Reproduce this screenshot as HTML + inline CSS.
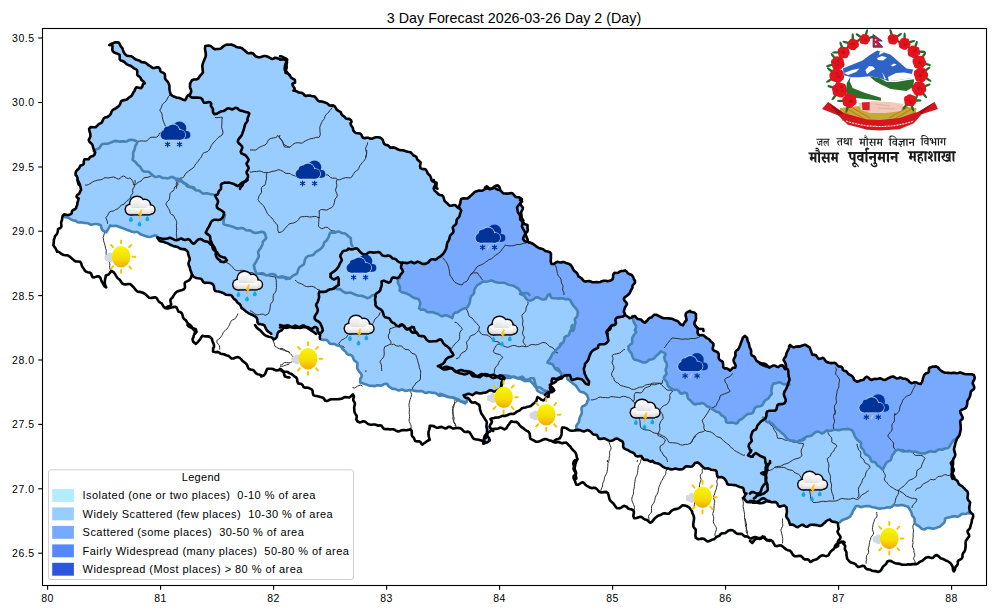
<!DOCTYPE html><html><head><meta charset="utf-8"><style>html,body{margin:0;padding:0;background:#fff;overflow:hidden}svg{display:block}text{font-family:"Liberation Sans",sans-serif;fill:#000}</style></head><body>
<svg width="1000" height="615" viewBox="0 0 1000 615">
<defs>
<clipPath id="ax"><rect x="43" y="29" width="943" height="556"/></clipPath>
<linearGradient id="sunG" x1="0" y1="0" x2="0" y2="1"><stop offset="0" stop-color="#f7f700"/><stop offset="0.6" stop-color="#f5dc00"/><stop offset="1" stop-color="#f5a800"/></linearGradient>
<linearGradient id="cldG" x1="0" y1="0" x2="0" y2="1"><stop offset="0" stop-color="#ffffff"/><stop offset="0.7" stop-color="#e6e6e6"/><stop offset="1" stop-color="#d0d0d0"/></linearGradient>
<linearGradient id="boltG" x1="0" y1="0" x2="0" y2="1"><stop offset="0" stop-color="#ffd21a"/><stop offset="1" stop-color="#f5a000"/></linearGradient>
<symbol id="snow" overflow="visible">
 <g fill="#003399">
  <circle cx="19.5" cy="7.2" r="6.8"/><circle cx="26.6" cy="13.9" r="3.8"/><rect x="19.5" y="10" width="7.1" height="7.7"/>
 </g>
 <g fill="#003399" stroke="#c9dcf5" stroke-width="1.3">
  <circle cx="5.2" cy="14" r="4.7"/><circle cx="7.3" cy="9.4" r="3.6"/><circle cx="13" cy="9.8" r="6.4"/><circle cx="20.3" cy="13.8" r="4.9"/><rect x="5.2" y="13" width="15.1" height="5.7"/>
 </g>
 <g fill="#003399">
  <circle cx="5.2" cy="14" r="4.7"/><circle cx="7.3" cy="9.4" r="3.6"/><circle cx="13" cy="9.8" r="6.4"/><circle cx="20.3" cy="13.8" r="4.9"/><rect x="5.2" y="13" width="15.1" height="5.7"/>
 </g>
 <g stroke="#003399" stroke-width="1.2" stroke-linecap="round"><path d="M7.6,21v4.8M5.5,22.2L9.7,24.6M5.5,24.6L9.7,22.2M19.6,21v4.8M17.5,22.2L21.7,24.6M17.5,24.6L21.7,22.2"/></g>
 <circle cx="7.6" cy="23.4" r="1.1" fill="#003399"/><circle cx="19.6" cy="23.4" r="1.1" fill="#003399"/>
 <path d="M12.2,25.6 L14.6,21" stroke="#e0c8a8" stroke-width="1"/>
</symbol>
<symbol id="storm" overflow="visible">
 <g fill="#000">
  <circle cx="5.6" cy="13.6" r="6.1"/><circle cx="12" cy="7.6" r="8.1"/><circle cx="19.8" cy="9" r="6.5"/><circle cx="25.2" cy="13.6" r="5.5"/><rect x="5.6" y="11" width="19.6" height="8.6"/>
 </g>
 <g fill="url(#cldG)">
  <circle cx="5.6" cy="13.6" r="4.7"/><circle cx="12" cy="7.6" r="6.7"/><circle cx="19.8" cy="9" r="5.1"/><circle cx="25.2" cy="13.6" r="4.1"/><rect x="5.6" y="12" width="19.6" height="6.2"/>
 </g>
 <path d="M15.6,13.6 L17.6,13.6 L16,17.6 L17.6,17.6 L13.6,23.6 L14.6,19 L13.2,19 Z" fill="url(#boltG)"/>
 <g fill="#12a8e6">
  <path d="M6,20.6 C7.2,22 7.8,23 7.8,24 A1.9,1.9 0 0 1 4,24 C4,23 4.8,22 6,20.6Z"/>
  <path d="M22.4,20 C23.6,21.4 24.2,22.4 24.2,23.4 A1.9,1.9 0 0 1 20.4,23.4 C20.4,22.4 21.2,21.4 22.4,20Z"/>
  <path d="M14.6,25.2 C15.8,26.6 16.4,27.6 16.4,28.6 A1.9,1.9 0 0 1 12.6,28.6 C12.6,27.6 13.4,26.6 14.6,25.2Z"/>
 </g>
</symbol>
<symbol id="sun" overflow="visible">
 <g stroke="#f8c300" stroke-width="2" stroke-linecap="round">
  <path d="M0,-13.6 V-16.4 M0,13.2 V16 M11.6,0 H14.2 M-11.6,0 H-14.2 M8.1,-9.6 L10,-11.8 M-8.1,-9.6 L-10,-11.8 M8.1,9.6 L10,11.8 M-8.1,9.6 L-10,11.8"/>
 </g>
 <path d="M-16.4,1.6 C-17.6,-0.6 -15.6,-3 -13.6,-2.2 C-13,-4.6 -10,-5 -8.8,-3.2 L-8.8,5.2 C-11,6 -13,5.2 -13.6,4 C-15.4,4.4 -16.8,3.4 -16.4,1.6Z" fill="#d3d8df"/>
 <ellipse cx="0" cy="0" rx="9.4" ry="10.7" fill="url(#sunG)"/>
</symbol>
</defs>
<rect width="1000" height="615" fill="#fff"/>
<text x="514" y="23" font-size="14.3" text-anchor="middle" style="fill:#000">3 Day Forecast 2026-03-26 Day 2 (Day)</text>
<g clip-path="url(#ax)">
<path d="M108.8,44.5 109.0,45.8 111.5,46.5 111.2,49.2 112.2,52.2 118.5,55.5 118.8,58.8 120.5,61.5 136.0,70.5 137.0,76.0 139.8,78.2 142.8,83.0 141.2,86.8 136.2,86.2 135.2,87.0 130.2,95.8 126.0,98.8 121.0,100.0 118.8,104.8 112.2,109.2 108.5,115.0 103.8,117.0 100.8,122.0 95.5,126.0 90.5,126.0 88.2,128.2 89.5,136.5 88.0,140.8 91.8,145.8 94.0,153.2 88.5,157.8 84.2,158.5 83.0,160.5 82.8,163.5 80.2,164.5 75.0,171.2 74.5,174.8 76.5,177.8 77.5,184.5 79.5,186.5 80.0,189.2 79.0,192.2 75.8,195.5 75.8,197.2 77.2,199.0 75.2,207.5 71.2,210.5 70.2,213.2 68.5,214.0 64.2,213.2 61.8,215.5 60.0,223.2 60.5,226.5 57.2,228.8 56.5,233.0 54.0,236.0 52.5,245.5 56.5,252.5 58.5,252.8 62.8,255.8 69.0,257.2 75.2,262.2 79.8,263.0 83.8,270.5 86.0,272.8 90.0,273.8 92.2,278.2 98.8,277.5 102.8,285.2 105.5,288.2 107.0,288.0 105.8,283.0 106.5,276.8 109.5,275.0 111.8,272.2 122.5,284.8 124.8,285.5 130.2,285.2 135.5,291.2 144.0,294.5 149.0,298.8 155.8,298.8 164.8,309.0 168.0,309.5 174.5,307.8 175.8,308.2 177.5,312.0 181.2,314.2 182.8,319.0 187.0,323.8 187.5,326.8 192.2,329.2 194.0,331.2 191.8,340.2 192.8,342.8 195.2,344.8 196.5,344.8 202.5,337.2 209.0,337.5 211.2,339.8 212.8,344.0 213.0,347.0 212.0,349.0 212.8,352.5 217.8,353.0 220.2,354.8 228.0,356.8 231.5,359.5 237.5,358.0 239.2,358.5 246.0,365.0 248.8,370.0 252.8,371.0 256.0,374.8 259.8,375.8 261.0,377.5 264.8,376.0 268.2,369.8 271.8,369.8 276.0,371.5 279.8,370.8 283.0,373.0 284.5,377.5 290.0,378.2 290.2,377.0 286.0,375.8 285.0,374.0 285.8,372.8 287.5,373.0 295.8,378.5 298.0,384.5 301.0,385.0 303.8,388.2 308.0,388.8 311.0,390.2 313.5,396.2 321.5,398.2 324.8,401.5 327.5,402.0 331.2,400.2 340.8,400.0 344.5,398.2 349.2,398.5 351.5,397.2 352.5,398.0 352.5,401.2 354.0,403.5 353.2,410.0 355.8,416.0 355.5,419.8 356.8,422.2 359.5,423.5 363.8,422.2 369.2,425.5 375.0,425.5 377.8,426.8 380.0,426.2 383.5,429.8 393.0,430.2 397.8,432.5 402.8,431.0 410.0,430.5 410.8,431.0 411.0,435.8 413.2,438.5 414.2,441.5 418.8,442.2 422.5,445.5 430.5,440.2 429.5,431.2 431.2,426.8 436.5,428.8 441.8,428.0 445.0,429.5 449.5,427.8 452.8,429.5 460.0,429.2 464.0,432.8 468.8,433.0 473.5,439.8 482.5,442.2 483.5,444.8 488.0,443.2 490.2,441.5 490.5,439.2 488.2,435.0 488.5,433.8 491.2,431.5 493.2,432.0 494.2,430.0 497.0,430.0 500.2,428.5 505.2,430.2 507.2,428.8 511.2,422.8 516.0,423.0 520.2,427.5 528.2,433.0 529.5,439.2 534.8,442.2 539.2,442.5 545.8,440.0 554.8,443.5 558.8,443.0 561.8,444.2 566.2,444.0 575.0,453.5 576.2,458.0 572.5,462.2 572.8,470.0 574.8,473.0 572.5,477.5 575.8,485.2 578.2,485.8 582.8,483.5 586.2,486.8 590.2,488.8 595.2,489.0 599.8,493.2 607.0,493.5 609.2,501.0 616.2,509.0 619.8,509.2 624.5,507.0 627.8,509.5 632.2,511.0 633.0,512.0 632.2,515.8 634.2,519.2 640.5,517.8 650.0,523.8 652.0,523.0 658.0,517.0 664.2,514.2 668.8,514.8 672.5,511.2 678.0,509.8 683.2,506.2 688.5,508.2 691.0,511.5 692.8,516.0 692.2,525.8 694.8,529.8 694.8,537.8 697.0,539.8 702.5,539.5 706.8,542.2 709.0,542.2 714.2,540.2 721.5,534.8 725.8,534.0 729.0,531.5 731.2,531.0 736.8,534.8 741.0,534.8 744.2,537.2 748.2,538.2 749.8,539.5 749.2,541.5 752.2,544.0 757.2,539.5 760.0,540.0 763.2,538.8 766.0,541.2 769.5,542.0 770.8,541.2 774.8,546.8 781.0,546.5 786.0,550.5 789.8,551.8 793.2,556.5 800.2,557.0 804.2,560.2 808.0,560.8 810.0,563.0 817.2,560.2 822.8,556.2 826.0,557.2 828.5,556.5 830.5,553.2 835.5,548.2 838.2,547.2 839.0,544.5 841.2,543.0 844.2,546.0 843.8,548.8 845.5,552.2 846.2,558.8 849.5,563.0 854.5,564.8 857.5,567.8 863.0,566.8 866.8,570.2 877.8,573.0 880.2,572.2 883.5,567.5 889.5,561.8 895.0,564.2 902.2,565.8 916.5,565.0 922.5,562.0 927.2,558.2 932.2,559.0 936.2,556.2 939.8,559.0 949.2,563.2 951.8,566.5 952.2,570.2 953.8,572.5 958.2,565.5 958.8,561.8 963.0,558.5 963.8,553.8 966.2,549.8 966.8,541.2 970.2,536.2 968.5,531.2 971.0,528.2 974.2,515.8 970.5,510.0 971.0,502.8 968.5,498.2 968.8,492.0 964.2,486.8 959.5,483.5 958.5,480.8 955.5,478.2 953.5,474.0 954.8,470.2 953.5,466.0 954.2,459.0 956.2,455.2 955.0,448.2 957.8,439.2 960.8,434.5 961.8,429.8 961.2,421.2 963.8,418.2 961.2,411.5 966.8,408.0 971.8,392.0 975.0,389.0 973.8,382.5 975.5,379.0 975.5,376.5 974.2,374.0 965.8,373.2 960.8,371.5 957.0,372.2 944.8,371.8 941.2,369.8 937.5,366.0 932.5,365.5 928.5,367.5 928.0,371.2 923.5,374.5 921.2,381.5 920.0,382.8 915.8,381.2 911.8,382.0 906.5,378.0 900.5,376.5 897.0,377.5 893.2,375.5 884.8,379.0 880.0,377.2 871.2,378.8 869.2,376.8 866.5,375.8 863.2,378.5 857.0,380.5 847.5,371.0 844.0,369.5 842.8,366.5 838.8,365.2 835.5,362.0 828.2,361.5 823.5,357.0 818.8,357.8 816.2,354.2 812.8,353.2 810.8,347.5 805.0,343.8 793.5,346.2 789.5,344.2 785.0,355.8 782.8,359.2 784.8,365.0 780.0,364.5 778.0,366.0 773.0,364.5 769.0,366.0 766.0,363.2 760.5,362.0 757.0,360.0 755.8,357.0 752.2,354.2 752.0,349.8 748.0,338.0 745.0,334.8 742.0,337.2 737.8,348.2 734.5,351.8 734.5,355.5 732.8,359.2 732.8,361.8 734.8,366.0 730.0,369.0 727.2,367.5 725.2,367.5 724.2,366.8 723.5,361.2 719.8,358.5 719.2,353.0 713.8,349.0 714.5,345.2 714.0,342.5 704.2,334.5 700.2,334.2 698.8,333.2 698.5,330.8 699.5,330.0 701.8,330.0 703.5,332.0 704.5,330.8 703.5,328.2 698.5,327.5 695.2,324.0 697.0,319.0 697.0,314.8 695.0,311.8 692.0,311.2 690.0,309.8 687.0,311.2 684.5,314.8 685.5,320.0 682.2,324.0 675.5,319.0 671.2,317.5 663.8,317.2 656.5,313.8 654.2,313.8 651.5,316.2 649.0,317.0 644.8,321.2 642.0,319.0 637.8,317.8 635.0,315.0 632.2,315.0 630.2,317.0 625.8,314.2 625.0,312.2 625.8,307.8 627.8,304.8 627.8,303.2 625.2,300.2 625.0,298.5 629.5,295.0 633.2,288.0 633.5,285.8 636.0,282.5 635.8,280.2 632.2,274.0 628.8,272.8 626.0,269.8 621.0,270.0 617.0,272.0 613.8,272.2 612.2,274.5 611.8,278.8 607.8,280.2 603.2,279.8 599.0,281.2 592.5,281.2 589.5,280.0 585.2,280.5 579.0,275.5 578.0,272.8 574.2,269.5 570.8,263.8 564.2,261.0 560.5,261.5 557.5,260.8 553.5,263.0 552.2,262.8 552.0,254.0 550.2,251.2 545.8,250.2 543.5,248.2 540.0,247.5 528.8,240.8 526.5,234.5 528.8,230.5 528.5,225.2 527.8,224.0 524.2,222.5 522.5,217.5 522.0,212.5 523.8,209.0 523.8,207.0 521.2,203.5 522.8,202.0 522.8,198.8 519.5,196.5 516.0,195.8 512.5,192.2 503.5,192.2 500.8,189.2 500.2,186.8 497.8,184.5 495.2,184.8 491.2,187.8 486.0,185.8 482.5,189.5 478.5,189.5 474.2,191.0 467.2,197.5 461.0,198.0 457.8,205.8 454.8,204.0 449.8,204.5 445.5,200.5 444.2,196.5 436.5,191.2 436.0,190.0 438.2,189.2 437.2,187.2 437.2,182.5 434.8,180.8 434.2,179.2 432.0,178.5 431.2,175.8 426.0,168.5 421.2,167.2 421.0,161.2 417.8,158.5 417.0,156.2 414.0,154.5 411.8,151.8 404.5,149.5 399.5,149.0 395.2,146.8 390.8,146.5 388.2,144.2 385.5,143.8 382.8,138.2 380.0,136.5 375.2,136.2 371.8,137.8 368.5,136.8 363.5,136.8 361.0,133.0 356.2,132.0 354.2,130.2 351.8,124.5 352.2,120.8 351.5,119.2 346.2,117.5 342.5,114.0 341.2,111.2 338.0,109.5 334.8,105.2 329.8,104.2 323.2,100.8 319.0,100.2 315.0,95.5 310.2,94.5 306.2,95.0 303.2,92.2 296.2,90.0 293.8,84.5 295.8,83.0 295.8,79.5 292.0,77.0 286.8,70.8 287.8,67.2 288.0,59.0 285.8,57.0 281.0,55.2 279.5,55.5 278.5,57.5 274.5,56.8 272.8,58.0 266.0,55.0 258.2,56.2 253.0,52.2 248.5,52.2 242.5,47.2 237.2,46.2 231.8,43.5 225.8,43.8 220.0,47.8 215.5,48.2 210.2,44.8 205.0,45.0 204.0,48.0 205.0,55.2 201.2,65.5 202.0,72.5 197.2,78.0 193.2,78.5 191.0,80.0 189.0,84.0 190.2,92.0 187.2,94.5 184.5,99.0 174.2,95.8 171.2,93.5 169.5,82.5 166.0,78.2 165.5,73.8 161.2,70.5 160.5,67.8 159.2,66.8 156.2,66.2 153.0,67.0 145.8,61.8 142.2,61.2 139.8,59.5 136.5,58.8 132.2,55.5 127.0,54.5 124.5,51.8 123.2,47.8 118.8,41.5 115.0,41.2Z" fill="#99ccff"/>
<path d="M838.5,523.2 839.0,529.2 838.2,532.8 840.8,536.5 840.2,540.5 843.2,541.0 844.8,542.2 844.2,544.2 845.8,546.2 845.2,549.5 847.0,552.8 847.8,558.8 850.0,561.5 854.0,562.8 857.8,566.0 863.5,565.2 866.8,568.5 877.8,571.5 880.0,570.8 882.2,567.0 886.2,563.2 886.8,561.5 889.0,560.2 891.5,560.5 895.2,562.8 902.8,564.2 916.2,563.5 922.5,560.2 926.8,556.8 931.8,557.5 936.5,554.5 940.8,557.8 950.2,562.2 954.2,567.2 957.0,565.0 957.5,561.0 961.8,557.8 962.5,553.2 964.8,550.0 965.2,541.5 968.8,536.5 967.2,530.8 969.8,527.8 972.8,515.5 971.8,514.0 968.2,513.5 962.0,514.5 958.0,517.2 953.2,516.8 947.0,518.2 945.5,519.2 944.0,523.5 939.8,527.2 934.2,529.0 928.0,528.2 924.0,530.0 922.0,529.5 914.5,523.8 914.0,518.2 911.8,515.8 911.0,512.2 907.5,507.0 902.2,505.5 895.0,505.5 890.5,508.0 877.8,509.0 868.8,506.5 862.2,507.5 857.0,506.5 855.5,507.5 850.0,517.0ZM558.0,440.0 558.5,441.5 561.2,442.5 566.5,442.2 576.2,453.0 577.8,458.5 575.2,466.5 576.8,477.5 575.5,479.8 576.2,483.5 577.8,484.2 583.0,481.8 590.0,487.0 595.8,487.5 599.5,491.5 606.2,491.5 607.8,492.2 610.5,500.5 617.0,507.5 620.2,507.5 624.5,505.2 628.0,507.8 633.2,509.8 634.2,511.2 633.8,516.5 634.5,517.2 641.0,516.2 643.5,518.2 647.0,519.2 650.2,522.0 659.0,514.8 663.8,512.8 669.0,513.0 674.0,508.8 677.8,508.2 682.5,504.8 685.2,505.0 689.5,507.2 692.2,510.8 694.5,517.5 693.8,526.0 696.2,530.0 696.0,536.8 697.5,538.2 703.0,538.0 708.5,540.8 714.2,538.5 721.8,533.0 725.8,532.2 729.0,529.8 731.8,529.5 736.8,533.0 742.0,533.5 744.5,535.8 748.0,536.2 751.0,538.0 754.5,536.5 760.2,537.5 762.5,536.0 764.0,536.2 766.0,538.8 772.0,540.2 775.5,545.2 781.5,545.0 786.5,549.0 789.8,550.0 793.8,555.0 800.5,555.5 804.5,558.8 807.8,558.8 810.8,561.0 816.8,558.8 822.0,554.8 826.2,555.8 828.0,555.0 830.0,551.8 833.8,548.5 834.8,545.2 837.2,543.0 838.0,540.2 840.0,538.0 837.2,532.5 838.2,529.2 837.5,523.8 832.5,522.2 829.5,520.2 826.8,521.2 820.5,526.5 811.0,525.2 806.0,527.2 801.5,525.5 797.0,527.5 792.5,525.2 790.0,525.2 788.5,520.8 786.0,517.0 786.5,510.8 785.2,506.8 782.8,506.2 779.5,507.2 775.8,502.8 771.2,502.8 766.8,501.5 761.8,503.8 747.0,502.5 742.8,498.8 744.8,493.8 742.2,488.2 734.8,485.5 727.5,484.8 725.5,480.5 723.2,478.2 717.2,476.8 715.5,471.0 708.2,469.0 704.8,469.0 698.0,463.2 695.2,463.5 692.2,467.0 686.8,466.8 681.8,470.0 675.5,469.0 671.2,470.0 665.0,468.5 660.5,465.0 655.0,463.5 653.0,462.0 650.5,462.2 647.2,460.2 643.8,460.2 641.0,456.8 636.2,456.8 633.5,453.5 625.0,449.8 623.0,447.5 622.5,442.5 618.2,439.5 616.5,439.0 613.0,441.0 609.5,441.5 603.8,438.8 599.0,439.2 596.5,435.5 593.2,435.0 588.0,430.8 584.2,432.0 579.5,430.5 570.5,431.2 563.8,428.0 562.2,429.0 562.0,434.5 560.5,438.2ZM546.0,396.0 544.2,394.2 540.2,393.2 537.2,391.2 536.0,388.0 530.2,381.8 524.5,381.5 521.0,379.5 514.0,377.5 504.5,379.2 502.5,382.0 502.2,385.2 500.5,389.2 495.0,392.0 489.8,391.0 486.5,392.8 481.0,394.0 476.2,393.2 472.2,395.5 468.5,394.2 465.8,395.5 465.8,396.5 467.8,397.2 471.5,401.8 475.8,402.0 479.8,405.0 481.2,412.2 486.5,420.5 487.0,425.5 488.2,426.2 491.2,422.5 490.2,419.5 490.8,418.2 498.8,417.0 501.8,415.5 505.2,415.5 509.5,413.5 514.0,413.2 522.2,407.5 531.0,405.2 536.0,401.0 537.5,396.8 543.2,399.8 546.0,397.2ZM587.0,395.8 584.8,393.5 580.0,392.0 576.2,386.8 567.8,380.0 566.5,377.0 564.8,376.2 561.8,379.0 557.2,380.8 551.2,385.0 554.5,390.8 552.0,392.8 549.8,393.0 548.8,397.0 546.8,397.8 543.8,401.0 541.5,400.5 539.5,398.5 537.8,398.5 536.8,401.2 531.0,406.5 522.0,408.8 514.2,414.2 510.0,414.5 505.5,416.5 492.8,418.8 491.8,419.5 492.2,422.2 490.2,427.0 492.2,428.8 496.5,428.5 500.0,427.0 504.8,428.8 506.8,427.2 511.2,420.8 516.2,421.5 529.5,432.5 531.5,439.0 537.8,441.2 546.2,438.5 553.0,441.0 560.2,437.0 562.2,427.0 565.5,427.2 571.0,430.2 575.8,429.2 576.0,425.8 578.2,422.5 581.2,413.5 581.2,407.5 582.8,405.5 586.2,403.5 587.8,400.0ZM171.0,299.8 171.5,305.8 176.2,306.8 178.2,310.5 182.2,313.2 183.8,318.0 193.0,327.8 196.2,329.2 196.8,332.2 194.5,334.8 193.2,338.2 193.2,340.5 194.5,342.2 196.8,342.5 202.5,335.2 209.5,336.0 212.2,338.8 214.2,344.2 214.0,351.2 218.2,351.5 220.2,353.0 228.5,355.2 232.0,358.0 239.2,356.8 247.0,364.0 249.2,368.5 253.0,369.5 256.5,373.2 262.0,375.2 265.0,373.5 267.5,368.2 272.0,368.2 276.5,370.0 280.0,368.2 283.8,371.0 288.2,371.5 296.8,377.5 298.8,383.0 301.5,383.5 304.2,386.8 308.5,387.2 311.5,388.8 314.0,394.8 322.0,396.8 326.8,400.5 330.8,398.8 340.2,398.5 345.0,396.5 348.8,397.0 353.0,394.0 354.2,396.0 353.8,400.5 355.2,402.8 354.5,407.0 355.0,412.0 357.2,416.2 356.8,419.5 359.0,421.8 364.2,420.8 369.8,424.0 380.5,424.8 384.0,428.2 393.8,428.8 398.2,431.0 402.5,429.5 407.2,429.8 410.5,428.8 412.2,431.5 412.2,435.2 415.0,439.8 417.0,441.0 419.2,440.8 422.5,443.5 428.8,439.5 428.0,432.0 429.2,426.2 430.8,425.2 432.8,425.2 436.8,427.2 442.2,426.5 445.8,427.8 450.0,426.2 453.2,428.0 460.5,427.8 464.0,431.0 469.2,431.5 473.8,438.2 482.0,440.2 483.5,439.5 484.2,435.8 486.5,433.2 486.0,421.0 480.8,413.0 479.0,405.5 476.5,403.5 471.5,403.0 468.5,400.0 465.2,404.0 452.2,398.0 448.5,397.8 443.8,396.0 438.2,396.0 434.8,393.5 430.0,392.8 425.8,393.5 421.5,391.5 414.5,391.5 410.5,390.5 405.2,391.5 402.0,390.0 398.2,391.0 395.5,389.5 392.0,389.2 386.0,384.2 381.5,386.0 370.5,386.5 360.2,383.2 359.8,379.0 361.2,375.0 357.0,368.8 356.8,363.0 354.0,360.8 351.8,356.2 347.2,354.5 340.2,346.8 333.0,344.2 330.8,344.5 327.0,340.8 321.0,340.0 319.5,338.5 319.2,334.2 317.5,333.5 316.2,334.2 305.2,327.5 300.8,328.5 294.0,328.5 291.2,327.5 284.0,328.2 281.8,331.0 278.5,332.8 277.0,337.2 274.0,340.0 271.2,337.8 267.0,336.8 264.0,335.0 255.8,327.0 255.0,324.5 264.8,334.5 270.0,336.5 271.8,336.2 272.2,334.8 266.5,330.5 263.5,325.2 258.0,324.0 256.8,318.2 249.2,314.2 242.2,309.0 240.2,305.5 231.5,296.0 226.0,295.2 223.5,293.5 215.2,291.5 213.8,289.0 213.5,286.0 211.8,284.0 204.8,283.5 201.0,279.5 192.0,277.0 188.8,281.2 185.2,283.0 184.8,289.0 182.8,290.5 176.8,292.2ZM54.5,239.0 54.0,245.5 57.8,251.0 62.5,254.0 68.5,255.2 75.5,260.8 80.2,261.2 84.8,269.8 86.0,271.0 90.0,272.0 93.0,276.8 99.0,275.8 100.8,277.5 102.0,281.2 103.2,282.0 104.5,281.2 105.5,275.2 108.2,274.0 111.2,270.2 122.5,283.0 125.2,284.0 130.0,283.5 137.2,290.8 143.5,292.5 149.0,297.0 155.0,296.8 156.5,297.5 165.5,307.2 170.5,304.8 170.0,299.5 177.0,291.0 184.2,288.2 184.5,282.8 188.5,280.2 191.2,276.0 188.0,264.0 189.2,258.5 187.5,252.2 185.2,250.0 180.8,249.5 178.2,247.8 173.2,246.8 166.8,243.5 159.5,241.5 157.0,237.2 155.2,236.0 150.2,237.5 147.0,237.2 140.5,235.0 138.0,232.8 131.8,232.2 116.0,226.2 110.2,226.8 106.2,232.8 101.5,229.5 100.8,226.2 96.8,224.5 90.5,225.2 86.5,223.5 78.2,223.0 64.0,217.0 62.8,217.8 61.5,222.5 61.8,226.8 58.5,229.5 57.8,233.2Z" fill="#fff"/>
<path d="M765.8,418.5 766.8,421.2 771.5,422.5 788.5,439.2 795.2,441.0 801.2,439.5 806.5,436.0 811.5,435.0 814.2,432.2 817.5,431.0 822.2,432.8 826.5,430.0 850.0,428.8 852.8,430.5 856.8,438.8 861.0,442.2 861.5,447.2 864.2,450.0 865.0,453.0 870.2,457.0 871.8,460.8 875.2,461.8 877.5,465.0 882.5,468.2 883.8,467.5 886.0,462.8 890.8,459.2 891.5,456.0 894.5,451.2 898.2,449.0 903.2,451.0 909.2,450.2 924.5,453.0 929.0,451.0 934.8,451.2 939.0,448.8 941.8,449.2 948.0,447.5 952.5,440.5 956.2,438.5 959.2,434.8 960.2,430.2 959.8,421.2 962.2,418.5 959.8,411.5 966.2,406.0 967.0,400.8 969.5,396.5 970.5,391.5 973.8,388.2 972.2,383.0 974.2,377.2 973.0,375.2 965.5,374.8 960.5,373.0 957.5,373.8 944.5,373.2 940.2,370.8 937.5,367.8 932.8,367.0 930.0,368.2 929.2,371.8 924.8,375.0 920.8,384.5 915.5,382.8 911.0,383.5 905.8,379.5 901.0,378.2 896.8,379.0 893.0,377.0 885.0,380.5 880.2,379.0 875.0,379.2 871.5,380.5 866.5,377.5 863.5,380.2 857.0,382.2 853.5,379.8 851.5,376.2 848.8,375.0 846.0,371.8 843.8,371.2 841.2,367.2 838.5,366.8 834.2,363.2 827.8,363.0 823.5,358.8 818.5,359.5 815.8,355.8 812.5,355.5 809.5,348.2 804.8,345.2 800.5,347.0 794.0,347.8 790.8,346.5 789.5,347.2 786.2,356.2 784.2,359.2 786.2,364.2 786.2,367.8 788.0,369.0 788.8,371.0 789.0,377.0 790.0,379.5 789.0,382.2 790.0,384.8 788.0,385.5 784.5,393.0 784.5,396.0 786.2,400.2 784.2,404.0 778.2,405.0 776.8,409.8 775.2,411.0 767.8,411.8ZM633.8,318.2 634.0,321.8 636.5,326.5 636.5,332.5 632.8,337.8 632.2,343.5 629.0,346.5 629.0,349.8 631.8,353.0 633.5,358.2 644.5,362.0 649.0,359.2 653.8,358.2 660.8,350.8 664.2,352.0 665.8,354.0 664.8,358.5 667.5,365.2 666.2,368.8 667.0,373.8 664.5,377.0 664.5,378.8 667.0,381.5 668.0,385.2 673.5,389.2 677.5,389.2 681.0,393.0 686.5,392.5 687.8,394.2 688.2,398.0 693.5,403.2 695.8,403.8 701.2,402.5 704.5,403.2 707.2,406.0 718.8,411.8 725.8,418.0 727.2,422.0 736.8,422.8 739.8,419.2 746.8,414.0 752.2,412.8 754.2,408.2 756.0,406.5 761.8,405.0 764.0,401.0 767.2,398.8 771.0,394.2 771.2,387.2 773.8,382.8 780.0,381.8 784.8,384.0 787.2,383.2 788.8,381.2 787.8,370.5 786.2,369.2 785.2,369.8 782.5,366.2 780.5,366.0 777.5,367.5 773.2,366.0 769.5,368.0 760.2,364.5 756.0,361.0 754.8,357.8 751.2,355.5 750.5,349.5 746.8,338.2 745.0,337.0 743.0,338.2 739.2,348.2 735.8,352.5 735.8,356.2 734.0,360.0 736.0,365.2 735.8,367.5 732.8,368.5 730.0,371.0 727.2,369.2 724.5,369.0 723.0,367.5 722.2,362.2 718.5,359.2 718.2,353.8 712.5,349.8 713.0,343.8 704.2,336.2 697.8,334.5 697.0,328.0 693.8,323.5 695.5,319.2 695.5,314.2 694.5,313.2 689.2,312.0 686.2,313.8 687.0,319.5 683.0,326.0 680.2,324.8 678.0,322.0 672.5,319.5 663.0,318.8 656.0,315.2 654.0,315.5 651.5,318.0 649.5,318.5 644.8,323.0 641.0,320.2 637.5,319.5 635.8,317.8ZM462.0,199.2 459.5,206.0 461.5,211.5 459.5,217.2 457.2,219.5 456.5,224.0 453.2,227.5 453.8,232.0 450.2,236.0 446.8,248.2 444.0,253.5 436.5,259.8 431.2,260.0 425.2,264.5 421.8,264.2 418.0,262.2 414.8,263.8 411.2,262.5 408.0,263.5 402.8,263.5 401.5,265.5 401.5,268.0 403.2,272.0 400.0,276.2 400.2,278.2 398.2,279.8 398.5,283.5 400.5,288.0 400.2,290.2 409.8,294.2 412.8,296.8 418.2,298.5 420.8,303.2 419.8,306.8 420.8,309.0 424.5,309.2 428.2,311.8 433.8,311.8 442.0,315.8 446.8,314.8 451.0,316.8 455.0,312.0 458.5,311.2 460.8,309.2 467.8,306.2 470.5,296.8 473.8,293.0 474.0,289.2 477.8,284.2 483.2,281.0 491.8,280.0 498.2,282.2 504.5,282.2 513.0,285.0 518.0,288.0 522.0,292.8 528.0,292.8 529.8,294.5 529.5,295.5 526.8,293.5 524.8,293.8 524.2,295.5 527.0,299.0 530.0,300.2 536.5,296.8 543.8,299.0 545.2,298.5 547.8,294.8 549.5,293.8 552.8,297.8 563.0,297.8 569.0,298.8 571.0,300.5 578.2,312.0 577.8,316.5 575.5,318.8 575.8,323.2 574.5,328.8 573.0,331.5 571.8,331.0 570.2,332.0 568.8,335.5 565.0,337.5 563.5,342.8 552.5,354.2 548.5,362.0 552.2,363.5 555.2,367.8 558.0,368.0 562.0,373.8 570.0,374.5 571.2,378.2 572.8,379.2 576.8,378.0 582.0,378.8 586.0,383.2 588.0,383.5 588.5,381.2 585.8,377.0 583.5,370.5 584.8,363.8 587.8,360.2 589.0,355.5 592.8,350.0 597.0,347.8 599.5,344.0 605.5,343.2 608.0,340.8 606.0,331.8 611.5,325.0 615.5,323.5 615.5,318.2 624.0,315.0 623.5,311.0 626.2,303.2 624.0,300.8 623.5,298.5 629.2,293.0 632.5,285.0 634.5,282.8 634.5,280.8 632.2,276.2 628.2,274.2 625.8,271.5 621.5,271.5 618.5,273.2 614.5,273.8 613.2,278.8 611.0,281.0 608.0,281.8 603.8,281.2 599.5,282.8 592.2,282.8 589.0,281.5 584.8,282.0 578.0,276.5 577.0,273.8 573.5,270.8 570.2,265.2 564.0,262.5 557.2,262.5 554.0,264.5 551.5,264.5 550.2,261.0 550.5,253.5 539.5,249.0 532.2,244.0 526.0,242.5 522.8,239.2 524.8,232.8 521.8,227.0 522.2,222.2 519.8,219.2 519.8,215.5 517.8,212.8 516.8,207.2 520.2,202.5 519.8,198.8 515.8,197.5 512.5,194.0 503.5,194.0 500.8,191.2 494.2,188.2 491.0,189.5 486.8,188.8 482.0,191.2 479.0,191.0 474.5,192.8 467.5,199.0Z" fill="#77aaff"/>
<g fill="none" stroke="#2b2b2b" stroke-width="1" stroke-linejoin="round">
<polyline points="170.0,95.0 168.7,96.3 167.8,97.8 167.0,99.4 166.0,101.0 164.8,102.3 163.4,103.4 162.2,104.8 161.6,106.7 160.9,108.4 159.8,110.0 160.5,111.6 161.6,113.0 162.1,114.6 162.2,116.4 162.5,118.0 162.9,119.7 163.4,121.3 164.0,122.9 164.8,124.7 165.5,126.4 166.9,127.4 166.2,128.7 164.8,129.9 163.1,130.6 161.6,131.5 160.2,132.7 159.1,134.2 158.1,136.1 156.5,137.1 154.8,137.3 152.9,137.2 151.1,137.2 149.6,138.0 148.4,139.5 147.1,140.8 145.4,141.2 143.4,141.0 141.4,140.9 139.6,141.1 137.8,141.4 136.2,142.5"/>
<polyline points="215.0,117.5 216.9,117.7 218.8,117.4 220.6,117.3 222.5,117.5 222.0,119.1 221.9,120.8 221.9,122.5 221.9,124.2 221.7,125.8 221.7,127.5 222.2,129.2 222.8,131.0 223.0,133.1 222.0,135.0 220.6,136.1 218.9,137.0 217.6,138.2 216.5,139.5 215.3,140.7 214.2,141.9 213.2,143.0 212.2,144.2 211.3,145.6 210.6,147.2 209.9,148.8 209.0,150.2 207.9,151.3 206.4,152.0 204.5,152.5 203.1,153.3 202.2,154.8 201.7,156.4 200.8,157.8 199.6,158.9 198.8,160.2 197.9,161.6 196.9,162.8 195.7,163.9 194.9,165.3 194.2,166.8 193.1,168.0 191.5,169.0 190.0,170.0 188.6,171.1 187.2,172.2 185.8,173.3 184.9,174.9 184.0,176.5 182.7,177.7 180.7,178.1 178.9,178.6 177.5,180.0"/>
<polyline points="250.0,150.0 251.8,149.9 253.7,150.1 255.6,150.0 257.1,149.0 258.5,147.9 260.1,147.0 261.7,146.3 263.3,145.5 265.0,145.0 266.3,144.0 267.2,142.6 267.9,141.0 268.8,139.5 270.2,138.7 271.8,138.2 273.6,137.9 275.5,137.6 276.9,136.8 277.4,135.5 278.7,136.3 279.8,137.7 280.9,139.2 281.8,140.7 282.7,142.3 283.7,143.8 284.9,145.2 286.5,145.8 287.9,146.8 289.5,147.5"/>
<polyline points="85.0,185.0 86.8,185.1 88.4,184.6 89.8,183.8 91.2,182.9 92.6,182.0 94.1,181.2 95.7,180.7 97.2,180.2 98.9,180.0 100.6,179.8 102.2,179.3 103.6,178.4 105.0,177.6 106.6,177.9 108.3,177.9 110.1,177.7 111.8,177.3 113.5,177.0 115.0,177.5 116.6,178.4 118.4,179.1 120.0,178.4 121.6,176.9 123.2,176.0 124.9,176.6 126.7,178.1 128.4,178.6 129.8,177.9 131.0,178.9 132.1,180.2 132.9,181.7 133.4,183.3 133.8,185.0"/>
<polyline points="133.8,185.0 135.5,184.6 136.8,183.5 138.1,182.4 139.7,181.7 141.2,180.9 142.4,179.6 143.5,178.2 145.0,177.5 147.1,177.4 149.0,176.9 150.8,176.2 152.5,175.0"/>
<polyline points="177.5,180.0 176.8,181.7 176.3,183.4 176.3,185.2 176.8,187.1 176.2,188.8"/>
<polyline points="280.0,135.0 279.1,137.3 280.1,138.8 281.6,140.0 282.6,141.5 283.1,143.2 283.5,144.9 284.5,147.0 286.7,147.2 288.3,147.1 290.1,146.9 291.6,145.8 292.8,144.5 294.2,143.6 295.7,143.0 297.3,142.7 299.1,142.8 301.1,143.2 302.6,142.8 304.0,141.8 305.3,140.9 306.8,140.3 308.5,139.5 310.1,138.8 311.9,138.5 313.6,138.2 315.3,137.7 317.0,137.2 318.8,137.5 319.9,135.9 320.3,134.3 320.1,132.6 319.9,130.9 319.9,129.2 319.8,127.4 320.3,125.7 320.9,124.2 321.6,122.6 322.3,121.2 323.5,119.8 324.5,118.3 325.0,116.4 325.8,114.8 327.3,113.4 328.9,112.1 329.6,110.7 330.9,109.2 332.5,107.5"/>
<polyline points="367.5,142.5 367.5,144.2 366.7,145.8 365.9,147.4 365.6,149.0 366.0,150.8 366.6,152.6 366.5,154.4 365.9,156.2 365.3,158.0"/>
<polyline points="225.0,261.2 226.3,262.4 227.9,263.3 229.5,264.2 230.9,265.3 232.1,266.6 233.3,268.1 234.6,269.6 236.3,270.4 237.9,270.7 239.6,270.6 241.3,270.3 243.0,270.3 244.6,270.5 246.1,271.1 247.6,272.0 249.2,272.5 250.8,272.7 252.5,272.5"/>
<polyline points="177.5,182.5 178.1,184.7 176.7,185.7 175.1,186.7 174.3,188.1 174.0,189.7 173.0,191.0 171.4,192.0 170.2,193.2 169.9,194.8 169.7,196.6 169.5,198.3 169.1,199.9 168.0,201.1 166.7,202.3 166.1,203.8 166.0,205.0 166.9,205.7 167.7,207.2 168.5,208.6 169.4,209.9 169.9,211.6 170.3,213.3 171.5,214.5 173.3,215.2 174.2,216.6 174.8,218.2 175.8,219.7 176.6,221.5 176.7,223.4 176.4,225.3 176.5,227.1 176.7,229.0 176.5,230.8 176.5,232.5 176.3,234.2 176.7,236.2 176.8,238.2 176.2,240.0"/>
<polyline points="135.0,180.0 135.2,181.9 134.9,183.7 134.6,185.5 134.0,187.2 132.9,188.9 132.6,190.7 132.9,192.6 132.1,194.2 131.1,195.5 130.6,197.0 130.0,198.5 128.7,199.6 127.2,200.6 126.0,201.8 124.9,203.1 124.2,204.1 122.9,204.6 121.3,205.2 120.0,206.3 118.9,207.9 117.6,208.9 115.9,209.4 114.6,210.4 113.1,211.1 111.3,211.3 109.5,211.9 108.4,213.9 107.4,215.8 106.0,217.5 106.4,219.1 107.0,220.6 107.5,222.2 107.5,223.8"/>
<polyline points="106.2,231.2 104.5,232.3 104.1,234.2 103.7,236.1 103.0,237.6 103.4,239.0 103.6,240.6 104.0,242.2 104.6,243.8 105.0,245.4 105.3,247.0 105.7,248.6 106.3,250.2 106.2,251.9 106.0,253.7 106.6,255.2 107.7,256.8 108.3,258.6 108.6,260.3 109.3,262.1 109.8,263.8 109.7,265.7 109.6,267.6 110.2,269.5 111.2,271.2"/>
<polyline points="252.5,272.5 254.1,273.8 255.9,274.0 257.8,274.0 259.6,274.3 261.4,274.6 263.2,274.8 265.0,274.9 266.7,275.1 268.4,275.6 270.0,276.1 271.7,276.5 273.4,276.7 275.4,277.1 276.0,279.1 276.3,280.7 276.3,282.4 276.4,284.1 276.4,285.8 276.5,287.5 276.2,289.2 276.0,290.8 275.3,292.3 274.1,293.7 273.4,295.2 273.1,296.8 273.2,298.5 273.2,300.2 272.5,301.8 271.2,303.2 270.4,304.8 270.3,306.5 270.0,308.2 269.8,309.9 269.2,311.7 268.5,313.5 267.0,314.5 265.1,315.3 263.4,314.3 261.7,314.1 259.7,314.5 257.8,314.9 256.1,314.6 254.6,313.6 253.1,312.4 251.6,311.3 250.0,310.7"/>
<polyline points="442.5,257.5 443.7,258.9 444.8,260.3 446.0,261.7 447.0,263.2 447.8,264.9 448.3,266.6 448.7,268.2 449.2,269.9 449.5,271.6 449.7,273.3 449.9,275.1 450.9,276.5 452.0,278.0 452.9,279.6 453.9,281.1 455.0,282.4 456.8,283.3 458.6,284.2 460.5,284.7 462.4,284.7 463.1,283.3 464.4,282.3 466.1,281.6 467.5,280.6 468.2,279.0 468.9,277.4 469.8,276.0 470.9,274.7 471.9,273.4 473.0,272.2 474.2,271.0 475.2,269.7 476.0,268.2 477.0,266.8 478.6,265.9 480.1,265.1 481.7,264.7 483.1,263.9 484.5,263.0 485.8,262.0 487.1,261.1 488.4,260.1 489.8,259.3 491.4,258.9 492.8,257.9 494.0,256.5 495.4,255.4 497.0,254.4 498.4,253.3 499.9,252.4 501.0,251.0 501.9,249.5 503.1,248.1 504.3,246.7 505.1,245.2 506.7,245.4 508.3,245.8 510.0,245.9 511.7,245.8 513.3,245.7 515.0,245.2 516.6,244.6 518.2,244.5 519.9,244.5 521.5,244.1 523.0,243.4 524.6,243.1 526.2,242.7 527.7,242.0 529.5,242.5"/>
<polyline points="470.0,275.0 471.6,273.6 473.4,272.8 475.5,272.8 477.4,272.8 478.2,274.2 479.3,275.6 480.5,277.0 481.4,278.6 482.5,280.0"/>
<polyline points="295.0,280.0 296.5,281.3 297.9,282.5 299.6,283.2 301.4,283.8 303.1,284.7 304.7,285.9 306.4,286.5 308.1,286.7 309.9,286.5 311.7,286.3 313.4,286.7 315.0,287.5 316.5,288.7 318.0,289.8 320.0,290.0"/>
<polyline points="555.0,265.0 555.9,266.5 556.4,268.2 556.8,270.0 557.1,271.7 557.4,273.5 558.0,275.1 559.0,276.6 560.3,278.0 561.1,279.7 561.2,281.5 561.6,283.1 562.4,284.7 563.1,286.3 562.8,288.1 562.6,290.0 563.4,291.6 564.2,293.1 563.8,295.0"/>
<polyline points="273.8,338.8 273.0,340.8 273.9,342.6 274.6,344.4 274.8,346.3 276.5,347.2 278.0,348.1 279.6,348.9 281.2,349.5 283.0,349.9 284.6,350.6 286.2,351.3 288.0,351.6 289.5,352.5"/>
<polyline points="280.0,366.2 281.7,366.4 283.3,366.0 284.9,365.4 286.4,364.9 288.0,364.5 289.5,363.8"/>
<polyline points="280.0,348.8 281.9,348.4 283.5,349.1 285.0,350.1 286.5,351.0 288.2,351.5 289.4,352.0 289.8,353.3 291.0,354.5 292.3,355.7 293.0,357.2 293.7,358.8 294.8,359.9 293.4,360.8 291.9,361.8 290.3,362.6 288.5,362.8 286.6,362.6 284.7,362.5 283.2,363.5 281.8,364.8 280.0,365.0"/>
<polyline points="352.5,387.5 354.3,388.0 355.9,387.3 357.4,386.2 359.0,385.5 360.7,385.0 362.5,386.2"/>
<polyline points="410.0,391.2 411.1,392.8 411.6,394.5 411.3,396.1 410.7,397.7 410.2,399.4 409.7,401.0 409.3,402.6 409.0,404.2 409.0,405.9 409.3,407.5 409.4,409.2 409.3,411.0 409.2,412.8 409.4,414.7 409.6,416.5 409.4,418.3 409.0,420.0 409.3,421.6 410.0,423.2 410.8,424.8 411.1,426.5 411.0,428.3 411.2,430.0"/>
<polyline points="455.0,400.0 454.7,401.7 454.5,403.4 454.2,405.1 453.7,406.8 453.0,408.4 452.7,410.0 452.8,411.6 452.6,413.3 453.0,414.9 453.7,416.5 454.1,418.0 453.9,419.7 453.6,421.4 454.2,423.0 455.3,424.5 455.0,426.2"/>
<polyline points="366.7,371.0 365.0,371.2"/>
<polyline points="420.5,371.0 420.8,373.2 420.4,373.9 420.5,376.0 420.5,378.1 420.0,380.0 418.5,381.1 417.0,382.3 415.7,383.1 415.0,384.6 413.6,386.2 412.5,387.9 412.5,390.0"/>
<polyline points="457.7,400.2 456.9,401.6 455.6,402.7 454.4,403.8 453.5,405.1 452.7,406.6 452.9,408.3 452.9,410.0 453.0,411.6 453.1,413.0 453.3,414.5 453.1,416.3 452.8,418.1 453.1,419.8 453.7,421.4 454.6,422.8 455.5,424.3 455.9,426.0 456.1,427.6"/>
<polyline points="607.5,460.0 607.2,462.0"/>
<polyline points="637.5,460.0 637.1,462.0"/>
<polyline points="835.0,367.5 836.4,368.8 836.4,370.5 835.6,372.4 835.6,374.1 836.8,375.5 837.9,376.9 838.8,378.3 839.6,380.0 839.3,381.8 838.9,383.5 838.9,385.2 838.9,386.9 838.2,388.5 837.4,390.1 837.0,391.7 836.8,393.4 836.5,395.0 836.2,396.8 835.9,398.5 836.3,400.3 836.5,402.1 835.9,403.8 834.7,405.4 834.4,407.2 834.6,409.0 835.0,410.7 835.4,412.5 834.6,415.0"/>
<polyline points="915.0,383.8 915.2,385.8 914.3,387.3 913.3,388.8 912.6,390.4 911.9,392.0 911.1,393.6 910.0,395.0 908.2,395.6 906.5,396.3 905.1,397.4 903.9,398.8 902.7,400.2 902.3,401.8 901.6,403.3 900.8,404.8 900.1,406.3 899.7,408.0 899.5,409.7 899.0,411.4 897.9,412.7 896.5,413.9 895.0,415.0"/>
<polyline points="607.5,461.0 607.3,462.0"/>
<polyline points="745.0,518.5 745.5,520.1 745.8,521.8 746.3,523.4 746.6,525.1 746.2,526.9 746.3,528.6 747.0,530.2 747.5,531.8 747.5,533.5"/>
<polyline points="782.5,518.5 782.6,520.2 782.5,521.8 782.6,523.5 782.8,525.2 782.4,526.8 781.4,528.5 780.9,530.2 781.3,531.8 781.7,533.5 782.1,535.2 782.5,536.8 782.7,538.5 782.7,540.2 782.6,541.8 782.5,543.5"/>
<polyline points="876.7,512.0 876.7,513.6 877.1,515.4 876.7,517.0 875.4,518.4 874.5,519.8 874.1,521.4 873.5,522.9 873.0,524.5 872.8,526.1 872.5,527.7 872.4,529.3 873.0,531.1 873.6,532.9 873.1,534.6 871.9,536.1 870.9,537.6 870.5,539.3 869.9,540.9 869.5,542.5 869.3,544.2 869.1,545.9 868.6,547.5 868.2,549.2 868.6,551.0 868.6,552.8 867.7,554.3 866.5,555.8 866.3,557.7 866.5,559.7 866.1,561.6 866.2,563.5"/>
<polyline points="915.0,521.0 914.6,522.6 913.7,524.2 912.9,525.8 912.9,527.5 913.3,529.3 913.5,531.0 913.3,532.6 913.1,534.3 913.2,536.0 913.1,537.7 912.8,539.3 912.7,541.0 913.1,542.6 912.8,544.2 912.3,545.9 912.7,547.5 913.6,549.0 913.9,550.6 913.9,552.2 914.7,553.8 914.9,555.4 914.0,557.1 913.5,558.8 914.4,560.3 915.2,561.9 915.0,563.5"/>
<polyline points="664.1,347.9 665.4,346.6 666.3,345.0 667.4,343.6 668.6,342.2 669.7,340.7 670.9,339.4 672.1,337.9 673.9,338.1 675.5,338.3 677.1,338.5 678.8,338.7 680.4,339.0 682.0,339.2 683.6,339.2 685.1,338.9 686.9,339.1 688.6,339.1 690.2,338.7 691.9,338.5 693.6,338.5 695.3,338.4 696.9,337.9 698.5,337.4 700.0,336.5"/>
<polyline points="625.0,349.5 623.4,350.0 622.2,351.0 621.0,352.3 619.6,353.1 618.0,353.5 616.4,353.9 614.7,354.1 613.2,354.7 611.9,355.9 612.9,357.5 613.1,359.2 612.5,360.9 612.0,362.6 612.6,364.2 613.6,365.7 613.9,367.3 613.8,369.0 613.1,370.6 612.2,372.1 611.5,373.7 611.8,375.4 612.5,377.0 613.6,377.9 614.1,379.7 614.9,381.3 616.2,382.3 617.9,383.0 619.2,384.0 620.2,385.3 621.8,385.8 623.4,386.2 625.0,386.7 626.6,387.2 628.3,387.5 629.9,388.1 631.5,389.1 633.3,389.4 634.9,389.3 636.5,388.6 638.0,387.8 639.6,387.2 641.3,387.1 642.9,386.9 644.4,385.8 645.9,384.9 647.6,384.5 649.4,384.3 651.2,384.2 652.7,384.7 654.3,384.8 655.9,384.5 657.6,383.9 659.2,383.4 660.8,383.3 662.2,383.4 662.3,381.8 662.7,380.2 664.1,378.8"/>
<polyline points="590.9,399.9 592.6,399.9 594.2,399.5 595.8,399.1 597.4,398.3 598.9,397.3 600.5,397.1 602.3,397.5 603.9,397.6 605.6,397.5 607.2,397.8 608.9,397.7 610.4,396.8 612.0,396.5 613.7,396.8 615.3,397.1 616.9,397.2 618.5,397.4 620.2,397.4 621.8,396.7 623.4,396.3 625.1,396.4 626.9,397.2 628.8,397.7 630.6,398.5 631.9,399.9 633.2,401.6 634.1,400.0 634.3,398.2 634.2,396.3 634.4,394.5 635.5,392.6 638.0,392.6 640.2,393.0 641.9,392.3 643.2,390.7 644.1,388.9 645.5,387.9 647.2,387.2 649.0,386.6 650.6,385.9 651.1,383.7"/>
<polyline points="633.2,401.5 634.8,402.8 635.1,404.5 635.2,406.2 635.0,408.1 634.9,409.9 635.7,411.5 636.7,413.0 637.4,414.6 637.8,416.2 638.6,417.7 639.5,419.3 640.0,420.9 640.1,423.0 640.2,425.1 640.6,427.4 642.4,428.8 644.1,429.7 646.0,429.9 648.1,430.0 649.9,430.5 651.4,431.4 652.8,432.4 654.3,433.0 656.1,433.3 657.8,433.5 659.4,434.1 660.9,434.9 662.4,435.7 663.9,436.5 665.6,437.3 667.0,439.0 668.0,440.8 669.1,442.5 670.8,442.7 672.5,442.7 674.1,442.9 675.8,443.0 677.4,443.3 679.0,444.0 680.6,444.8 682.3,445.1 684.0,444.7 685.7,444.3 687.4,444.5 689.2,443.8 690.8,442.9 692.1,441.4 692.8,439.7 693.5,438.1 694.4,436.6 695.4,435.2 696.9,434.3 698.3,433.1 700.0,432.3 701.9,432.0 703.6,431.4 705.0,430.2"/>
<polyline points="651.1,383.7 652.7,383.2 654.4,383.1 656.1,383.1 657.8,383.2 659.5,383.2 660.8,384.2 662.0,385.4 663.3,386.5 664.6,387.6 665.8,389.0 667.2,390.0 669.1,390.2 671.1,390.1 672.6,391.1 671.4,392.6 670.2,394.0 669.6,395.6 670.0,397.3 669.8,398.9 669.3,400.5 668.6,402.1 667.8,403.5 666.5,404.6 664.5,405.3 662.9,406.3 661.5,407.5 660.5,409.1 659.6,410.7 660.7,412.1 661.9,413.5 662.7,415.0 663.0,416.8 663.0,418.8 661.6,420.3 660.6,421.8 659.9,423.5 659.4,425.3 659.7,427.0 659.9,428.7 659.6,430.3 659.0,431.9 658.2,433.5 657.6,435.2 659.4,436.2 661.3,436.8 663.0,437.7 664.3,439.1 665.6,440.1 664.8,441.1 664.3,442.8 663.4,444.2 661.9,445.1 660.1,446.2 660.0,448.6 660.6,450.9 662.0,452.4 662.9,454.3 664.0,456.0 665.6,456.9 666.5,458.3 667.1,460.1 667.5,462.0"/>
<polyline points="732.7,373.3 731.6,374.8 730.4,376.2 728.7,377.1 726.8,377.8 724.6,379.4 725.1,381.9 726.2,383.3 727.1,384.8 727.5,386.4 727.9,388.0 729.1,389.5 730.1,391.4 728.1,392.5 726.3,393.1 724.5,393.9 722.7,394.6 720.6,395.3 719.8,397.0 719.5,398.8 718.8,400.4 717.8,401.7 717.0,403.2 716.5,404.9 715.5,406.4 713.6,407.2 711.6,407.8 709.9,408.7 709.0,410.4 708.0,412.1 707.0,413.7 705.9,415.2 704.9,416.9 703.8,418.4 702.3,420.2 702.6,422.2 703.5,423.7 704.0,425.3 703.9,427.0 703.9,428.7 705.0,430.2"/>
<polyline points="705.0,430.2 706.4,431.1 708.1,431.5 709.8,431.7 711.4,432.3 712.8,433.1 714.1,434.1 715.3,435.4 716.6,436.6 718.2,437.1 719.9,437.5 721.3,438.3 722.3,439.7 723.7,440.8 725.0,442.0 726.3,443.1 727.8,444.1 729.2,445.1 730.3,446.5 731.3,447.8 732.7,448.5 733.9,449.7 735.1,450.9 736.5,451.7 738.0,452.3 739.4,453.2 740.8,454.0 742.3,454.7 743.8,455.5 745.0,454.6"/>
<polyline points="690.0,443.7 691.3,442.6 692.0,441.1 692.7,439.6 693.7,438.3 695.0,437.2 695.7,435.7"/>
<polyline points="769.3,420.5 769.2,422.3 769.7,423.9 771.0,425.1 772.5,426.2 773.3,427.6 773.8,429.2 774.6,430.6 775.6,431.9 776.5,433.3 776.9,434.9 777.2,436.6 777.8,438.3 779.6,438.4 781.2,438.4 782.7,438.9 784.2,439.7 785.7,440.3 787.4,440.1 789.1,439.9 790.6,440.4 792.0,441.6 793.5,442.3 795.2,442.2 796.8,442.4 798.3,443.0 799.9,443.3 801.5,443.3 803.5,443.7 803.2,445.7 802.6,447.3 801.7,448.9 801.2,450.5 801.2,452.2 801.6,453.9 801.9,455.8 800.4,457.2 798.9,458.0 797.1,458.6 795.3,459.0 793.5,459.6 792.2,460.5 790.9,461.3 789.4,462.3 787.9,463.2 786.3,463.7 784.7,464.1 783.1,464.8 781.7,465.7 780.1,466.3 778.3,466.4 776.6,466.5 775.0,467.1 773.7,468.3 772.2,469.4 770.6,470.1 768.9,470.7 767.2,471.3 766.3,473.2"/>
<polyline points="775.1,467.3 776.6,467.9 778.4,467.3 780.0,467.2 781.7,467.4 783.3,467.4 784.9,467.7 786.4,468.6 787.9,469.5 789.5,469.9 791.1,470.1 792.6,470.4 793.7,471.7 795.1,472.8 796.9,473.6 798.6,474.4 800.0,475.6 800.9,477.3 801.4,479.0 802.3,480.3 803.3,481.5 804.3,482.9 804.8,484.4 805.2,486.1 805.9,487.5 807.1,488.7 808.6,489.7 809.6,491.2 810.0,492.8 810.4,494.5 810.6,496.2 810.6,498.0 811.2,499.6 812.3,501.0 813.1,502.5 814.9,502.5 816.6,502.4 818.3,502.2 820.0,501.8 821.7,501.4 823.4,501.3 825.1,501.6 826.8,501.5 828.5,501.1 830.2,501.0 831.9,501.1 833.6,501.1 835.3,501.0 836.9,500.6 838.6,499.9 840.1,499.0 841.8,498.5 843.5,498.7 845.2,498.9 846.9,499.0 848.7,499.2 850.3,499.1 852.0,498.4 853.6,498.3 855.4,499.0 857.5,499.5 859.3,498.4 860.3,496.8 861.4,495.3 862.9,494.3 864.5,493.6 865.9,492.7 867.3,491.5 868.8,490.7"/>
<polyline points="827.8,432.2 828.5,433.8 829.4,435.2 830.6,436.5 831.7,437.8 831.8,439.7 831.7,441.8 832.9,443.1 834.9,443.8 836.3,445.0 836.7,446.8 835.3,447.8 834.5,449.3 833.9,450.9 832.7,452.0 831.4,453.1 830.8,454.6 830.2,456.2 829.0,457.4 827.4,458.4 827.4,460.3 828.0,461.9 828.6,463.5 828.9,465.2 828.8,466.9 828.5,468.6 828.4,470.4 828.7,472.0 829.5,473.6 830.2,475.2 830.5,476.9 830.4,478.6 830.4,480.3 830.7,482.0 831.3,483.5 831.6,485.1 831.4,486.8 831.2,488.5 831.4,490.1 831.7,491.6 832.2,493.2 832.8,494.7 833.3,496.3 833.6,497.9 833.6,499.5"/>
<polyline points="857.0,498.0 858.7,496.7 858.9,495.0 858.8,493.2 858.5,491.5 858.4,489.7 858.6,488.0 859.4,486.5 860.2,485.0 861.2,483.6 861.9,482.2 862.3,480.5 862.8,479.0 864.0,477.7 865.1,476.4 865.5,474.8 865.8,473.1 866.5,471.6 867.4,470.2 868.6,469.1 870.1,467.2 868.9,465.1 867.3,464.1 865.4,463.2 864.4,461.8 864.0,459.9 862.7,458.6 861.0,457.4 860.5,455.7 860.9,453.7 860.6,451.9 859.3,450.5 858.3,449.0 857.8,447.3 857.2,445.7 857.0,443.9"/>
<polyline points="883.4,467.3 882.9,469.0 883.1,470.6 883.7,472.2 884.6,473.7 885.4,475.2 885.2,476.9 884.4,478.6 884.5,480.3 886.1,481.6 887.4,483.1 887.6,483.9 888.3,484.5 889.6,485.7 890.8,486.8 892.3,487.5 893.7,488.4 895.0,489.4 896.5,490.1 898.5,490.5 898.6,492.6 898.1,494.3 897.2,495.8 896.3,497.4 895.7,499.0 895.3,500.7 895.0,502.4 894.1,503.7 893.1,505.0 892.3,506.4 892.0,508.0"/>
<polyline points="898.0,490.7 899.1,489.5 900.4,488.5 901.7,487.5 903.0,486.6 904.3,485.5 905.5,484.4 906.6,483.1 907.6,481.8 908.7,480.6 910.2,479.8 911.9,479.3 913.4,478.5 914.7,477.5 916.1,476.5 916.7,474.8 916.7,473.0 916.8,471.2 917.6,469.8 919.3,468.8 920.9,467.8 921.6,466.3 921.9,464.6 922.6,463.1 923.3,461.6 924.0,460.1 924.9,458.3 923.5,456.7 922.1,455.7 920.5,455.4 918.6,455.4 916.8,455.5 915.1,455.2 913.8,454.1 912.7,452.6 911.3,451.7 909.6,451.7 907.9,451.9 906.3,451.5 904.8,450.6 903.3,450.0 901.6,450.1 900.0,450.0"/>
<polyline points="915.6,490.7 916.4,488.9 917.9,488.2 919.8,487.8 921.2,486.8 922.1,485.2 923.3,484.0 924.9,483.2 926.4,482.4 927.9,481.6 929.2,480.5 930.4,479.4 932.0,479.6 933.7,479.8 935.2,479.4 936.6,478.0 937.9,476.6 939.5,476.3 941.2,476.3 942.7,475.7 944.1,474.7 945.8,474.7 947.6,475.5 949.2,475.5 950.7,474.6"/>
<polyline points="898.0,490.7 899.7,491.0 901.0,492.0 902.5,492.7 903.9,493.6 905.0,495.0 906.3,496.1 907.8,496.7 909.4,497.3 910.9,498.0 912.5,498.4 914.4,498.3 916.9,499.1 916.1,501.7 914.7,503.1 913.4,504.6 912.3,506.1 912.0,508.0"/>
<polyline points="249.7,171.9 251.4,172.1 253.1,171.7 254.8,171.5 256.5,171.6 258.2,171.2 260.0,171.0 261.7,171.6 263.4,172.4 265.1,172.7 266.8,172.5 268.5,172.5 270.2,172.1 272.0,171.4 273.9,171.2 275.7,170.7 277.4,170.1 279.0,169.7 280.4,170.3 282.1,170.9 283.7,171.8 285.1,173.0 286.9,173.5 288.8,173.4 290.5,173.8 291.7,174.7 293.2,175.4 294.9,175.8 296.0,177.0"/>
<polyline points="325.8,174.9 327.7,174.9 329.2,176.0 330.6,177.5 332.2,178.2 334.1,178.1 335.9,178.3 337.5,179.6 339.3,179.9 340.9,179.3 342.4,178.5 344.0,178.1 345.6,177.7 347.3,177.7 349.1,177.9 350.7,177.6 352.2,176.5 353.0,174.8 353.9,173.4 354.8,172.0 356.2,170.9 357.8,169.9 358.8,168.6 359.3,166.8 360.1,165.3 361.2,164.0 362.2,162.6 363.5,161.5 364.6,160.1 365.5,158.6 366.0,156.9 366.3,155.2 366.6,153.5 366.7,151.8 366.8,150.0"/>
<polyline points="267.3,171.9 266.8,173.5 266.4,175.2 266.4,176.9 266.5,178.6 266.1,180.3 265.7,181.9 265.5,183.6 264.8,185.2 263.0,186.2 261.6,187.3 261.3,189.0 261.6,191.0 261.3,192.7 260.4,194.1 259.4,195.4 258.7,196.9 258.4,198.6 257.9,199.6 258.6,200.6 259.5,202.1 260.8,203.3 262.2,204.3 263.4,205.6 264.3,207.1 265.1,208.7 265.9,210.4 266.6,212.0 267.4,213.4 268.4,214.7 269.5,216.0 270.7,217.1 272.0,218.1 273.0,219.4 273.7,220.7 274.6,222.1 276.1,223.4 277.3,224.9 277.7,226.7 277.7,228.6 277.9,230.4 278.7,232.7 281.2,232.0 282.7,231.2 284.0,229.9 285.1,228.3 286.3,227.0 287.5,225.7 288.6,224.4 290.0,223.6 291.8,223.3 293.6,223.0 295.1,222.3 296.5,221.4 297.8,220.5 298.9,219.2 299.6,217.6 301.1,216.8 302.8,216.7 304.5,216.6 306.2,216.4 307.9,216.6 309.7,217.1 311.2,216.9 312.9,216.6 314.7,216.4 316.5,216.7 318.1,217.6 320.0,217.3"/>
<polyline points="337.5,179.3 336.4,181.0 336.3,182.8 336.7,184.6 336.8,186.3 336.1,188.0 335.6,189.8 335.9,191.6 336.7,193.3 337.3,195.0 337.1,196.7 335.9,197.8 335.1,199.2 334.7,200.9 334.4,202.5 333.9,204.1 333.3,205.7 332.2,206.9 331.3,207.9 329.9,208.3 328.3,209.3 326.7,210.0 325.0,210.0 323.1,209.6 321.3,209.6 319.2,210.7 319.2,213.0 319.4,214.6 319.2,216.3 319.0,217.9 318.9,219.5 318.8,221.2 318.6,222.8 318.6,224.5 318.4,226.2 319.9,227.6 321.5,228.6 323.4,228.2 325.5,227.3 327.3,227.4 328.8,228.5 330.2,229.8 331.7,230.6 333.3,231.0 335.0,231.0"/>
<polyline points="372.1,325.3 372.7,323.8 373.6,322.4 374.2,320.8 374.8,319.3 376.0,318.2 377.4,317.0 378.8,315.7 379.5,314.0 380.2,312.3"/>
<polyline points="347.7,335.1 346.9,336.8 345.6,337.8 344.3,338.7 342.8,339.5 341.4,340.2 340.4,341.7 338.7,343.3 339.9,345.3 341.5,346.1 343.5,346.6 344.4,348.1"/>
<polyline points="390.0,328.6 391.7,328.3 393.2,327.6 394.8,327.1 396.3,326.7 398.1,325.3"/>
<polyline points="390.0,328.6 389.7,330.2 389.8,331.9 389.3,333.5 388.4,335.1 388.3,337.0 388.8,338.6 389.9,340.1 390.9,341.5 391.0,343.2 390.9,344.4 389.8,344.4 388.2,345.2 386.7,346.0 385.0,346.4 384.3,348.0 384.0,349.6 384.1,351.4 384.2,353.1 384.2,354.8 383.7,356.6 382.8,358.1 381.5,359.5 380.3,360.9 380.2,362.7 381.2,364.2 381.5,365.9 381.5,367.6 381.6,369.3 381.8,371.0"/>
<polyline points="391.6,344.8 393.4,344.2 395.0,344.9 396.4,345.9 398.1,346.1 399.9,345.8 401.7,346.2 403.1,347.4 404.4,348.9 406.0,349.6 407.9,349.6 409.4,350.3 410.5,351.6 411.5,353.0 413.0,353.7 415.0,354.2 416.1,355.8 416.6,357.5 417.2,359.1 417.7,360.8 418.0,362.5 418.7,364.2 419.1,366.0 419.3,367.8 420.0,369.5 420.9,371.0"/>
<polyline points="466.3,309.0 467.3,310.7 468.0,312.6 468.6,314.5 469.2,316.3 470.6,317.3 472.2,318.1 473.3,319.4 474.2,320.8 475.3,322.0 476.7,323.5 478.1,325.1 479.5,326.6 479.0,328.9 478.6,330.9 479.6,331.4 480.6,333.1 481.8,334.4 483.5,334.8 485.3,334.8 487.0,335.0 488.5,335.8 489.9,336.7 491.2,337.8 492.4,339.2 493.5,340.7 495.1,341.5 497.3,341.6 499.1,342.3 500.2,343.8 501.7,345.1 503.5,346.0 505.4,346.6 507.3,347.4 509.1,346.9 510.8,346.2 512.5,345.5 514.3,345.5 516.1,345.8 517.7,346.6 519.5,346.7 521.4,346.3 523.2,346.2 524.9,346.7 526.7,346.6 528.4,346.0 530.1,345.0 531.8,344.5 533.8,344.6 535.6,344.9 537.4,344.6 539.1,344.1 540.7,343.4 542.4,342.5 544.3,342.6 545.9,343.0 547.3,344.0 548.4,345.3 549.6,346.6 551.3,347.0 553.1,348.1 554.4,349.7 555.2,351.3 556.4,352.5 558.0,353.0"/>
<polyline points="454.6,322.2 456.7,322.6 457.9,323.8 458.9,325.2 460.3,326.3 461.5,327.5 462.3,329.4 460.7,331.0 459.8,332.7 459.6,334.6 459.7,336.6 459.6,338.6 458.8,340.1 457.7,341.5 456.3,342.6 454.9,343.8 454.0,345.1 452.8,346.7 451.7,348.5"/>
<polyline points="478.0,331.0 476.7,332.4 475.4,333.7 473.8,334.7 471.9,335.3 470.1,336.3 469.6,338.1 468.8,339.5 467.5,340.7 466.5,342.3 466.8,344.4 467.3,346.4 467.0,348.2 466.5,350.1 465.0,351.3 463.3,352.2 461.6,353.2 460.5,354.8 459.6,356.5 458.3,358.1 456.1,358.8"/>
<polyline points="500.0,344.2 497.7,344.1 496.4,345.4 495.3,347.1 494.3,348.7 494.0,350.3 492.9,351.4 494.3,352.7 496.0,353.7 498.0,354.2 499.9,354.5 501.4,355.9 502.7,357.3 501.8,358.5 500.7,359.8 499.5,360.9 498.8,362.5 498.3,363.8 497.7,365.1 496.0,366.6 494.9,368.3 494.5,370.0 494.4,371.8 494.2,373.5 494.2,375.4 494.4,377.2 494.1,379.0"/>
<polyline points="527.8,301.7 528.1,303.7 527.2,305.4 526.3,307.1 526.0,308.9 525.8,310.8 524.7,312.4 523.0,313.8 521.9,315.4 522.2,317.4 522.7,319.4 523.0,320.9 522.6,322.8 522.6,324.6 523.1,326.3 523.7,328.1 523.4,329.8 522.8,331.6 522.5,333.3 523.1,335.1 524.2,336.7 524.3,338.4 523.3,340.3 523.1,342.1 524.3,343.7 525.5,345.3 524.9,347.1"/>
<polyline points="610.0,441.0 609.2,442.6 609.7,444.2 610.4,445.8 611.0,447.5 611.0,449.1 610.2,450.6 609.5,452.2 609.7,453.8 609.7,455.4 609.3,457.0 609.1,458.6 609.1,460.2 608.5,461.8 607.9,463.4 607.9,464.9 607.8,466.5 607.6,468.2 607.4,469.9 607.2,471.6 606.7,473.2 605.9,474.7 605.0,476.2 604.4,477.8 604.3,479.5 603.8,481.1 603.0,482.7 602.6,484.3 602.6,486.0 601.9,487.6 601.3,489.2 600.7,490.7 599.5,492.0"/>
<polyline points="641.5,458.0 641.1,459.6 640.7,461.2 640.3,462.7 639.5,464.2 638.5,465.6 638.1,467.2 638.0,468.9 637.8,470.5 637.7,472.2 637.4,473.8 636.8,475.3 636.1,476.8 635.5,478.3 635.1,479.9 635.0,481.6 634.7,483.2 634.4,484.9 634.4,486.5 634.1,488.2 633.7,489.8 633.5,491.4 633.5,493.1 633.1,494.7 632.5,496.3 631.9,498.0 631.8,499.7 632.2,501.3 632.8,502.8 633.5,504.4 634.1,505.9 634.5,507.5 634.2,509.1 633.6,510.8 633.6,512.4 634.0,514.0"/>
<polyline points="668.5,469.0 666.5,469.8 665.9,471.3 665.9,473.1 665.5,474.7 664.4,475.9 663.4,477.2 662.9,478.8 662.1,480.2 661.2,481.6 660.7,483.1 660.1,484.6 659.3,486.1 658.8,487.6 658.5,489.2 658.3,490.9 657.8,492.6 657.1,494.2 656.1,495.6 655.4,497.2 655.0,498.9 654.7,500.6 654.1,502.2 653.2,503.8 652.1,505.2 651.5,506.9 651.5,508.6 651.5,510.3 651.5,512.0 650.5,513.5 649.0,514.9 648.5,516.5 648.8,518.2 649.0,520.0"/>
<polyline points="703.0,468.5 702.0,469.9 702.4,471.7 702.0,473.2 700.6,474.6 700.1,476.1 700.6,477.9 701.1,479.6 700.6,481.2 700.0,482.7 699.6,484.3 699.5,485.9 699.4,487.6 698.8,489.1 697.9,490.5 697.3,492.1 697.5,493.8 698.0,495.6 698.2,497.3 697.7,498.8 696.5,500.2 695.4,501.6 694.7,503.1 694.3,504.7 694.2,506.4 694.0,508.0"/>
<polyline points="718.0,478.0 717.4,479.6 716.7,481.1 717.0,482.8 717.3,484.5 716.9,486.1 716.5,487.7 716.2,489.3 715.5,490.8 715.0,492.4 714.7,494.0 713.9,495.5 713.4,497.1 713.7,498.8 714.6,500.6 714.7,502.2 714.3,503.8 714.1,505.4 714.0,507.0 714.0,508.6 713.8,510.2 713.4,511.9 712.8,513.5 712.9,515.1 713.6,516.7 713.8,518.3 713.5,519.9 713.3,521.5 713.7,523.1 714.5,524.7 715.6,526.3 716.4,527.9 716.4,529.5 715.9,531.1 715.3,532.8 714.9,534.4 715.0,536.0"/>
<polyline points="742.0,497.0 742.6,498.5 742.8,500.1 743.2,501.7 743.4,503.3 743.2,504.9 743.1,506.6 743.4,508.1 743.8,509.7 744.0,511.3 744.4,512.9 744.6,514.4 744.5,516.1 744.5,517.8 744.8,519.4 745.1,521.1 745.3,522.8 745.4,524.5 745.7,526.1 746.3,527.7 746.4,529.4 746.2,531.2 746.6,532.8 747.6,534.4 748.0,536.0"/>
<polyline points="238.0,313.5 237.2,315.4 236.4,316.9 235.5,318.4 234.0,319.4 232.2,320.1 230.9,321.3 230.2,322.9 229.5,324.7 228.7,326.3 227.8,327.7 226.8,329.1 225.4,330.2 224.1,331.3 223.2,332.6 222.6,334.2 221.8,335.6 220.9,336.9 219.9,338.2 218.6,339.2 216.8,340.5 217.0,342.7 218.4,344.3 219.5,345.9 219.7,347.8 219.7,349.6"/>
<polyline points="835.0,410.0 835.3,411.7 834.5,413.3 833.8,414.9 833.5,416.6 833.8,418.3 834.4,420.0 834.6,421.7 834.0,423.3 833.3,424.9 833.4,426.6 833.5,428.9 832.5,431.0"/>
<polyline points="895.0,413.0 894.5,414.8 894.3,416.6 894.4,418.5 894.5,420.3 893.9,422.1 892.6,423.4 891.9,424.9 892.0,426.6 892.1,428.4 892.0,430.0 891.2,431.5 890.0,432.8 888.7,434.1 887.8,435.9 888.9,437.7 890.0,439.0 891.3,440.3 892.6,441.6 893.5,443.1 893.5,444.9 893.4,446.9 894.2,448.4 895.7,449.6"/>
</g><g fill="none" stroke="#4682b4" stroke-width="2.6" stroke-linejoin="round" stroke-linecap="round">
<polyline points="93.8,151.2 95.0,150.0 96.4,149.2 98.0,148.8 99.4,148.0 100.3,146.5 101.3,145.0 102.6,144.0 104.4,143.7 106.4,143.7 108.3,143.5 109.9,142.9 111.6,142.3 113.2,141.6 114.9,140.9 116.7,141.1 118.5,141.5 120.2,141.6 122.0,141.3 123.7,141.4 125.5,141.6 127.2,141.2 128.8,140.1 130.9,139.9 132.9,140.0 134.9,140.4 137.4,141.8 136.5,144.3 135.4,145.8 135.0,147.5 134.7,149.2 134.0,150.8 133.2,152.4 133.1,154.3 133.3,156.3 132.9,158.1 132.6,160.0 134.1,160.9 135.5,162.0 136.6,163.4 137.7,164.8 139.2,165.8 140.4,167.1 141.3,168.8 142.3,170.4 143.7,171.4 145.8,171.6 148.0,171.7 149.7,172.4 150.6,173.6 151.9,174.6 153.5,175.9 155.2,177.0 157.1,176.8 159.0,176.2 160.8,176.9 162.4,178.0 164.1,178.0 165.8,178.0 167.5,178.4 169.2,177.9 170.9,177.0 172.6,177.0 174.2,177.9 175.8,178.8 177.5,178.8 179.2,179.3 180.7,179.9 181.9,181.3 183.0,182.6 184.6,183.3 186.2,183.9 187.5,185.0 188.7,186.3 190.3,186.9 192.2,187.0 193.8,187.4 195.0,188.8"/>
<polyline points="63.8,216.2 65.5,217.3 67.5,217.5 69.2,218.2 70.8,219.3 72.4,220.2 74.3,220.5 76.1,221.1 77.6,222.2 79.2,222.5 80.9,222.2 82.6,222.5 84.3,223.0 86.0,223.0 87.7,223.2 89.3,224.0 91.0,224.7 92.7,224.5 94.5,224.0 96.2,224.0 97.9,224.2 99.5,224.7 101.0,225.4 101.3,227.5 102.0,229.5 103.4,230.9 106.2,232.3 107.7,230.0 108.6,228.4 109.5,226.9 110.2,225.4 111.7,225.9 113.5,226.0 115.4,225.8 117.2,226.0 118.9,226.7 120.7,227.5 122.4,228.0 123.9,228.6 125.5,229.2 127.1,229.9 128.8,230.4 130.4,231.0 132.0,231.7 133.7,232.1 135.6,232.0 137.5,232.0 139.0,233.0 140.2,234.2 141.7,234.8 143.2,235.3 144.7,235.8 146.3,236.4 147.9,236.7 149.5,237.0 151.1,236.7 152.8,236.1 154.6,235.4 156.2,235.5 157.5,237.5"/>
<polyline points="176.2,180.0 177.4,181.5 179.6,181.1 181.5,181.2 183.0,182.2 184.4,183.2 185.7,184.4 186.9,185.9 188.4,186.8 190.1,187.2 191.8,187.5 193.3,188.4 194.7,189.5 196.1,190.4 197.9,190.5 199.5,190.8 200.9,192.1 202.3,193.3 204.1,193.6 206.1,193.2 207.9,193.4 209.7,193.9 211.4,194.4 213.2,194.5 215.0,195.0"/>
<polyline points="225.0,215.0 224.6,216.7 224.0,218.5 223.7,220.2 223.5,222.0 223.5,224.0 225.3,224.7 226.9,225.2 228.5,225.4 230.1,225.9 231.7,226.5 233.3,227.0 234.9,227.6 236.4,228.4 238.0,228.6 239.8,228.2 241.6,228.0 243.2,228.3 244.7,229.2 246.1,230.2 247.8,230.5 249.5,230.3 251.1,230.9 252.5,232.0 254.0,232.7 255.7,232.9 257.5,232.7 259.5,232.2 261.5,231.8 263.4,232.0 265.0,233.8"/>
<polyline points="265.0,233.8 265.5,235.6 266.2,237.5 265.7,239.0 264.2,240.3 262.9,241.6 262.7,243.2 262.4,244.8 261.6,246.2 260.8,247.7 259.9,249.1 258.8,250.5 258.1,251.9 258.4,253.7 258.9,255.7 258.5,257.3 257.6,258.8 256.8,260.3 256.1,261.8 255.1,263.2 253.9,265.0 254.2,267.3 254.7,269.3 255.4,271.1 256.5,273.5 258.9,273.8 260.8,273.3 262.6,273.2 264.2,274.0 265.7,275.1 267.4,275.3 269.3,274.7 271.2,274.1 272.9,274.1 274.5,274.5 276.0,275.8 277.6,277.2 279.3,277.3 281.1,276.5 282.9,276.4 284.4,277.8 286.0,278.9 287.8,278.7 289.5,278.8"/>
<polyline points="400.0,278.0 397.6,278.9 398.0,280.4 397.8,282.1 398.2,283.7 399.1,285.2 399.8,286.7 399.9,288.4 399.6,290.4 401.2,291.8 402.9,292.6 404.8,292.9 406.6,293.5 408.2,294.3 409.9,295.1 411.3,296.2 412.8,297.3 414.5,298.1 416.4,298.4 418.6,299.2 419.8,301.3 420.3,303.2 419.8,305.5 419.1,308.3 421.0,309.7 423.1,309.6 424.9,310.1 426.4,311.4 428.0,312.3 430.1,312.2 431.9,312.0 433.4,312.3 434.9,313.1 436.5,313.6 438.0,314.0 439.4,315.0 440.9,316.0 442.5,316.2 444.5,315.4 446.3,315.2 447.9,315.9 449.5,316.7 451.1,317.3 452.1,318.1 452.6,317.0 453.0,315.3 453.7,313.8 455.1,312.6 456.8,312.5 458.4,311.8 459.7,310.7 461.1,309.7 462.7,309.0 464.3,308.5 465.9,308.1 467.4,307.4 468.2,305.8 469.2,304.2 469.8,302.4 470.1,300.4 470.4,298.5 470.9,296.8 471.8,295.4 473.2,294.2 474.3,292.8 474.1,290.9 474.5,289.2 475.5,287.8 476.4,286.4 477.4,284.9 479.1,284.2 480.6,283.2 482.1,282.0 483.8,281.6 485.8,281.8 487.5,281.4 489.3,281.0 491.2,280.4 492.9,281.0 494.7,281.8 496.4,282.3 498.2,282.7 499.9,282.8 501.7,282.7 503.6,282.7 505.2,283.1 506.7,283.9 508.2,284.6 509.9,285.0 511.6,285.2 513.3,285.7 515.0,286.7 516.6,287.7 518.2,288.7 519.5,290.2 520.7,292.0 522.1,293.4 524.2,293.3 526.3,292.9 528.1,293.3 529.5,295.0"/>
<polyline points="280.0,277.5 281.7,277.4 283.3,277.2 285.0,277.1 286.7,277.5 288.4,278.1 290.1,278.0 291.7,276.9 293.3,275.4 294.3,275.1 295.5,274.5 297.0,273.4 297.7,271.7 298.1,270.0 298.8,268.4 299.8,267.0 301.5,265.9 303.3,264.9 304.1,263.8 304.4,262.3 304.8,260.3 305.5,258.6 306.5,257.2 307.7,256.2 309.3,255.7 311.2,255.5 313.0,255.1 314.2,254.0 315.0,252.5 316.5,251.5 318.1,250.6 319.6,249.7 321.0,248.6 322.2,247.2 323.3,245.7 323.9,244.1 324.1,242.7 325.3,241.5 326.6,240.4 327.5,239.1 328.3,237.7 329.0,236.2 329.3,234.6 330.3,232.6 332.8,232.6 334.7,232.7 336.4,232.0 338.2,231.5 340.0,231.7 340.9,232.8 342.6,233.2 344.3,233.3 345.8,233.9 347.1,235.0 348.2,236.2 349.5,237.2 350.7,237.8 350.8,239.3 351.0,241.1 351.1,242.8 351.5,244.6 352.5,246.2"/>
<polyline points="333.8,287.5 335.4,288.1 336.9,289.1 338.8,289.1 340.6,289.4 342.0,290.7 343.4,291.8 345.0,292.6 346.6,292.9 348.3,292.8 350.1,292.5 351.7,292.9 353.3,293.8 354.9,294.5 356.3,295.1 357.9,295.5 359.5,295.7 361.2,295.8 362.8,296.1 364.4,296.7 365.8,297.4 367.5,298.2 369.4,297.6 370.8,296.5 372.1,295.4 373.8,295.0"/>
<polyline points="520.0,293.8 521.5,294.6 523.2,295.1 524.5,296.2 525.4,297.8 526.5,299.2 527.9,300.1 529.8,300.8 531.7,300.2 533.3,299.4 534.8,298.2 536.4,297.2 538.1,297.4 540.0,298.4 541.9,299.2 543.6,299.6 545.7,299.0 547.0,296.7 548.2,294.8 550.0,294.2 550.5,296.3 551.6,297.9 553.5,298.3 555.7,298.2 557.6,298.6 559.2,298.4 560.8,298.4 562.5,298.2 564.2,298.7 565.8,299.4 567.5,298.9 569.3,299.4 570.6,300.5 571.2,302.1 572.0,303.6 573.0,304.9 573.9,306.3 575.1,307.4 576.3,308.9 577.3,310.5 577.9,312.5 577.5,314.2 577.4,315.9 576.5,317.3 575.1,318.6 574.9,320.2 575.3,322.1 575.3,323.7 574.7,325.2 574.2,327.1 574.1,329.1 572.9,331.0"/>
<polyline points="320.0,338.8 321.4,339.8 323.2,339.9 325.0,339.8 326.7,340.1 328.1,341.3 329.2,343.1 330.7,344.0 332.6,343.8 334.3,343.9 335.8,344.7 337.3,345.4 338.9,345.8 340.6,346.3 341.6,347.5 342.5,349.0 343.7,350.1 345.0,351.0 346.0,352.3 346.9,353.7 348.3,354.6 350.1,354.9 352.0,355.7 353.0,357.2 353.5,359.1 354.4,360.7 356.0,361.6 357.3,362.9 357.5,365.0 357.1,367.0 357.4,368.7 358.2,370.1 359.1,371.6 360.3,372.9 361.4,374.3 361.7,376.0 361.3,377.4 360.3,378.5 360.2,380.5 360.1,382.5 361.7,382.9 363.3,383.5 364.9,384.1 366.5,384.6 368.2,385.3 369.8,385.8 371.5,385.9 373.3,385.9 375.0,386.1 376.7,385.4 378.5,385.3 380.4,385.6 382.2,385.3 383.9,384.2 385.6,383.7 387.4,384.1 388.1,385.7 389.4,386.9 390.9,387.9 392.4,388.9 394.1,388.9 395.7,389.1 397.2,389.9 398.8,390.4 400.5,389.9 402.1,389.4 403.7,390.1 405.2,390.9 406.8,390.8 408.5,390.2 410.1,390.1 411.7,390.2 413.4,390.5 415.0,390.9 416.7,391.1 418.4,391.3 420.0,391.1 421.7,391.1 423.4,391.8 425.0,392.8 426.6,392.9 428.3,392.3 430.0,392.2 431.7,392.7 433.4,392.9 435.1,392.9 436.6,393.7 438.1,395.2 439.7,395.7 441.5,395.5 443.2,395.4 444.8,395.7 446.4,396.3 448.1,396.7 449.9,397.0 451.7,397.2 453.3,397.9 454.9,398.7 456.5,399.5 458.1,400.3 459.7,400.6 461.5,401.3 463.0,402.2 465.2,403.5 466.6,401.7 467.0,400.0"/>
<polyline points="500.0,378.8 501.7,378.9 503.4,379.1 505.0,378.5 506.6,377.8 508.3,378.0 510.0,378.0 511.6,377.3 513.3,376.7 515.0,376.9 516.6,377.8 518.2,378.1 519.9,378.1 521.5,378.5 523.0,379.5 524.5,380.1 526.2,380.0 527.9,379.7 529.5,380.0"/>
<polyline points="440.0,393.8 441.6,394.2 443.2,394.8 444.7,395.5 446.3,396.2 447.8,396.9 449.4,397.2 451.1,397.3 453.0,397.4 454.6,398.0 456.2,398.7 457.9,399.1 459.4,400.1 460.6,401.5 462.2,402.1 464.1,401.9"/>
<polyline points="502.8,378.5 503.9,375.3 506.1,375.5 507.7,375.8 509.3,376.3 510.9,376.8 512.5,376.7 514.2,377.0 515.7,377.7 517.2,378.4 518.9,378.5 520.5,378.8 522.0,379.6 523.5,380.4 525.0,381.1 526.7,381.0 528.4,380.8 530.1,380.9 531.4,382.2 532.7,383.5 533.9,384.9 534.9,386.5 536.4,387.7 538.3,387.4 540.1,387.5 541.5,388.5 542.9,389.8 544.3,390.6 546.1,390.9 548.0,391.1 549.5,392.2"/>
<polyline points="632.3,316.0 633.0,317.7 633.2,319.4 633.5,321.2 634.2,322.9 635.1,324.4 636.0,326.1 635.9,327.8 635.4,329.4 635.4,331.0"/>
<polyline points="572.5,325.0 571.5,326.3 571.3,328.0 571.7,329.9 570.1,331.0"/>
<polyline points="561.0,344.0 560.4,345.8 559.2,347.1 557.8,348.1 556.6,349.3 555.7,350.9 554.6,352.2 553.1,352.9 552.1,354.4 551.4,356.1 550.5,357.8 549.5,359.3 548.3,360.8 547.4,362.5 549.0,363.3 550.8,363.6 552.4,364.3 553.4,365.6 554.3,367.2 555.2,368.5 556.5,369.8 558.1,370.7 559.8,371.3 561.0,372.8"/>
<polyline points="520.0,377.5 522.0,376.6 523.6,378.0 525.1,379.6 526.9,380.2 528.9,379.4 531.0,378.2 533.8,378.3 534.7,381.0 534.9,383.0 535.6,384.7 536.4,386.4 536.6,388.4 537.1,390.4 538.6,391.5 540.1,392.4 541.7,392.9 543.3,393.4 545.0,393.8"/>
<polyline points="799.0,440.5 800.8,440.3 802.7,440.4 804.2,439.6 805.1,437.9 806.5,436.6 808.3,436.3 810.1,436.1 811.7,435.5 813.1,434.1 814.6,432.8 816.1,432.0 817.9,431.6 820.0,432.4 822.0,433.5 823.8,432.8 825.3,431.2 827.0,430.4 828.9,430.7 830.8,430.8 832.5,430.2 834.2,429.8 835.8,429.7 837.5,430.1 839.2,430.1 840.8,429.7 842.5,429.3 844.2,429.2 845.8,429.1 847.5,428.9 849.2,429.1 850.8,429.8 852.2,430.5 852.8,431.7 853.6,433.1 854.2,434.6 854.8,436.2 855.6,437.6 856.6,438.9 857.6,440.2 859.1,441.1 860.6,442.2 861.1,443.9 860.8,445.8 861.2,447.5 862.5,448.7 863.7,450.1 864.2,451.7 864.8,453.3 865.7,454.5 867.2,455.1 868.7,456.0 869.9,457.4 870.6,459.5 871.4,461.3 873.2,461.9 875.2,462.2 876.3,463.5 877.0,465.2 878.4,466.1 879.8,466.9 881.0,468.0 882.6,469.5 883.9,467.7 884.6,465.9 885.5,464.2 886.4,462.7 887.8,461.6 889.6,460.9 890.9,459.6 891.5,457.8 891.9,455.9 892.9,454.3 894.3,452.9 895.0,451.2 896.7,450.2 898.3,449.6 900.0,450.2 901.7,451.1 903.3,451.5 905.0,451.5 906.7,451.2 908.3,450.8 910.0,451.0 911.8,451.6 913.6,451.7 915.4,451.6 917.1,452.2 918.8,453.0 920.6,453.2 922.5,453.5 924.4,453.4 926.2,452.9 927.9,452.0 929.6,451.4 931.4,451.4 933.2,451.7 935.1,451.8 936.6,450.9 937.9,449.7 939.5,449.3 941.3,449.7 943.0,449.5 944.5,448.7 946.0,448.3 947.9,448.2 949.3,446.8 950.2,445.2 951.1,443.6 952.1,442.1 953.1,440.6 954.5,439.5 956.4,438.9 957.5,437.5"/>
<polyline points="840.0,522.2 841.1,520.8 842.6,520.0 844.2,519.4 845.8,518.8 847.4,518.2 848.8,517.3 850.3,516.3 851.3,514.6 852.3,513.0 852.9,511.2 853.8,509.6 855.0,508.1 855.5,506.7 856.7,506.1 858.3,506.0 860.0,506.8 861.7,507.1 863.3,506.6 865.0,506.2 866.7,506.1 868.3,506.1 870.0,506.3 871.5,506.9 873.2,507.3 874.9,507.5 876.6,508.0 878.2,508.4 880.0,508.6 881.7,508.3 883.4,508.3 885.0,508.0 886.7,507.4 888.4,507.3 890.1,507.5 891.7,506.8 893.2,505.6 895.0,505.0 896.9,505.4 898.7,505.5 900.5,505.1 902.3,505.1 904.0,505.6 905.8,506.1 907.8,506.5 909.0,508.1 909.7,509.6 910.6,510.9 911.4,512.3 911.8,513.9 912.1,515.4 913.3,516.8 914.4,518.3 914.6,520.1 914.6,521.8 914.8,523.6 916.2,524.7 917.7,525.5 919.2,526.3 920.4,527.6 921.7,528.8 923.3,529.3 925.1,529.4 926.4,528.2 928.1,527.8 929.9,528.1 931.6,528.5 933.4,528.6 935.0,528.3 936.6,527.7 938.3,527.0 939.7,526.8 940.8,525.7 942.2,524.6 943.5,523.4 944.5,522.1 945.0,520.4 945.1,518.7 946.7,517.8 948.5,517.4 950.3,517.2 952.0,516.6 953.8,516.3 955.7,516.4 957.6,516.7 959.4,516.1 960.9,514.5 962.6,513.7 964.5,514.0 966.3,513.7 968.0,512.9 970.0,513.5"/>
<polyline points="567.0,377.0 567.3,379.0 568.9,380.3 570.4,381.5 571.8,382.6 573.2,383.8 574.8,384.8 576.2,386.0 577.1,387.5 578.0,388.9 579.0,390.4 580.2,391.5 581.8,392.1 583.5,392.4 584.9,393.1 586.1,394.3 587.2,395.3 587.6,396.8 588.1,398.5 588.6,399.7 587.6,400.8 586.9,402.7 586.1,404.5 584.6,405.6 582.6,406.3 581.6,407.9 581.5,409.6 581.8,411.3 581.8,413.0 581.2,414.6 580.4,416.2 579.7,417.7 579.3,419.4 579.1,421.1 578.6,422.7 577.4,424.1 576.3,425.9 576.2,427.9 576.1,429.9 575.4,430.5"/>
<polyline points="634.8,330.0 636.3,332.1 635.1,333.5 633.9,335.0 633.0,336.5 632.2,338.0 632.1,339.7 632.3,341.5 632.0,343.3 630.1,344.8 628.5,346.4 628.5,348.0 628.6,349.7 629.6,351.1 630.7,352.4 631.6,353.6 632.1,355.2 632.6,356.8 633.3,358.4 634.5,359.7 636.4,359.9 638.1,360.4 639.7,361.0 641.3,361.7 642.9,362.4 644.6,362.4 646.2,362.1 647.7,361.1 649.2,359.8 650.4,359.5 651.9,359.2 653.7,358.7 654.9,357.4 655.9,356.0 657.3,354.9 658.6,353.8 659.8,352.6 660.8,351.3 662.5,352.1 664.4,352.8 665.5,354.5 664.5,356.3 664.3,358.0 664.8,359.6 665.4,361.2 666.3,362.5 666.8,364.1 666.9,365.8 666.4,367.4 665.7,369.0 665.7,370.6 666.4,372.5 666.4,374.2 665.2,375.6 664.1,377.1 663.9,378.8 665.3,380.2 666.6,381.6 667.3,383.3 667.6,385.1 668.5,386.4 669.7,387.5 671.1,388.4 672.5,389.2 674.0,389.9 675.7,389.8 677.5,389.8 678.9,391.2 680.1,393.2 681.7,393.8 684.1,392.7 686.5,393.1 687.4,394.8 687.6,397.2 688.4,399.0 690.0,400.0 691.2,401.2 692.3,402.6 693.6,403.7 695.1,404.5 696.6,404.0 698.5,403.8 700.3,403.6 701.7,403.0 703.2,403.4 704.8,404.1 705.9,405.4 707.2,406.5 708.9,407.0 710.5,407.7 711.7,408.8 713.1,409.7 714.6,410.5 715.9,411.4 717.5,411.9 719.1,412.5 720.3,413.7 721.3,415.2 722.7,415.8 724.3,417.0 725.5,418.4 725.9,420.1 726.1,422.1 727.8,422.7 729.4,422.8 731.1,422.6 732.8,422.5 734.4,423.0 736.0,423.5 737.5,423.0 738.4,421.2 739.6,420.0 741.0,419.3 742.5,418.3 744.0,417.2 745.2,415.9 746.5,414.7 748.3,413.9 750.4,413.7 752.3,413.3 753.4,411.9 754.0,410.0 754.8,408.2 756.0,407.0 757.9,406.5 760.0,406.2 761.7,405.6 762.9,404.3 763.7,402.6 764.6,401.1 765.7,399.9 767.2,399.2 768.6,398.2 769.5,396.7 770.4,395.3 771.6,394.3 771.7,392.7 771.3,391.0 771.5,389.4 771.8,387.8 772.0,386.1 772.7,384.6 773.7,383.3 775.0,383.6 776.6,383.0 778.3,382.5 779.9,382.3 781.5,382.9 783.0,384.1 784.6,384.5 786.4,383.9 788.2,383.5 789.7,384.6"/>
<polyline points="763.0,417.5 764.7,417.9 765.6,419.5 766.1,421.4 767.7,422.3 770.0,422.4 771.7,423.2 773.0,424.5 774.2,425.8 775.4,427.3 776.6,428.8 778.1,429.8 779.7,430.8 780.9,432.2 782.3,433.4 783.8,434.5 785.0,435.9 786.0,437.5 787.3,438.8 788.8,439.9 790.1,440.8 791.7,440.6 793.5,440.6 794.8,441.4 796.6,441.5 798.6,441.3 800.3,440.7 801.9,439.6 803.4,438.5 805.0,437.5"/>
<polyline points="574.0,328.0 573.0,329.4 571.4,330.3 570.1,331.4 569.5,333.1 569.0,334.8 567.6,335.8 565.7,336.3 564.5,337.5 564.2,339.4 563.8,341.3 562.9,342.7 561.3,343.6 560.0,344.6"/>
<polyline points="555.0,368.8 557.5,368.3 558.9,369.5 559.8,371.3 560.8,373.1 562.1,374.6 564.2,374.8 566.1,374.7 568.0,375.0 569.8,375.5"/>
</g><g fill="none" stroke="#000" stroke-width="2.6" stroke-linejoin="round" stroke-linecap="round">
<polyline points="109.5,45.0 111.2,43.7 113.2,43.2 115.0,42.3 116.8,42.4 118.8,42.6 119.7,44.0 120.4,45.8 121.4,47.2 122.5,48.4 123.0,50.1 123.6,51.8 124.4,53.3 125.5,54.5 127.0,55.7 129.1,56.0 131.1,56.2 132.7,57.1 134.1,58.4 135.7,59.4 137.5,59.9 139.2,60.4 140.5,61.5 142.0,62.3 143.8,62.4 145.5,62.7 146.8,63.8 148.2,65.0 149.7,65.8 151.2,66.9 152.7,68.0 154.6,68.0 156.8,67.3 158.6,67.4 160.0,68.8 160.2,70.8 161.5,72.1 163.5,72.9 164.8,74.2 165.1,76.1 165.0,78.3 165.9,79.9 167.3,81.3 168.4,82.8 169.1,84.6 169.5,86.4 169.4,88.2 169.6,90.2 170.0,92.0 170.6,94.1 172.0,95.5 173.5,96.5 175.4,97.1 176.7,97.7 178.1,97.8 179.8,98.1 181.5,98.9 183.2,99.8 185.2,100.1 186.3,98.4 186.9,96.6 188.0,95.3 189.6,94.8 190.6,93.4 191.2,91.8 191.1,90.2 190.4,88.6 189.9,87.0 190.1,85.4 190.0,83.8 191.0,81.9 192.0,80.2 193.8,79.5 195.8,79.5 197.5,79.0 198.8,77.9 199.6,76.4 200.6,75.1 201.7,74.0 202.9,72.7 202.8,70.9 202.6,69.3 202.5,67.6 202.3,66.0 202.6,64.4 203.1,62.8 203.8,61.3 204.3,59.8 204.9,58.2 205.6,56.7 205.9,55.1 205.7,53.2 205.4,51.2 205.0,49.2 205.2,46.0 208.7,45.5 210.5,45.9 212.0,47.1 213.5,48.5 215.0,49.2 216.5,49.0 218.4,49.0 220.3,48.8 221.8,47.8 223.2,46.5 224.8,45.4 226.8,44.6 229.0,44.7 231.2,44.5 233.2,45.2 235.0,46.0 236.6,47.1 238.5,47.5 240.5,47.6 242.0,48.2 243.4,49.4 244.8,50.5 246.1,51.8 247.4,53.0 249.1,53.2 251.1,52.9 252.7,53.2 254.0,54.6 255.2,56.1 256.7,56.8 258.3,57.3 260.0,57.2 261.8,56.7 263.8,56.0 265.4,56.0 267.2,56.5 268.9,57.2 270.5,58.3 272.2,59.0 273.7,58.7 274.5,57.7 276.4,57.9 278.7,58.7 281.1,59.6 280.0,59.8 280.4,59.5 283.9,59.4 286.8,60.4 287.0,62.6 286.5,64.3 286.5,65.9 286.7,67.6 286.2,69.2 285.5,70.9 285.6,72.9 287.8,73.8 289.5,75.0"/>
<polyline points="109.5,45.0 112.3,45.1 112.5,47.4 112.3,49.6 112.8,51.3 114.2,52.5 116.1,53.2 118.0,53.9 119.6,54.9 119.8,56.9 119.7,59.1 120.8,60.5 122.6,61.0 124.2,61.7 125.3,63.0 126.6,64.1 128.1,65.0 129.8,65.4 131.3,66.2 132.7,67.3 134.0,68.4 135.7,69.1 137.1,70.0 137.3,72.0 137.2,74.3 138.0,75.8 139.5,76.6 140.6,77.8 141.2,79.5 142.3,80.7 143.7,81.6 144.6,83.0 144.8,83.5 143.9,83.1 142.8,84.6 142.2,86.9 141.0,88.2 138.8,87.7 136.3,87.3 135.2,89.0 134.6,90.9 133.5,92.3 132.6,93.9 131.8,95.6 130.4,96.7 128.8,97.6 127.6,98.9 126.2,99.8 124.5,100.1 122.7,100.4 121.3,101.1 120.5,102.9 119.8,104.8 118.7,106.2 117.4,107.1 116.1,108.1 115.1,108.8 113.7,109.4 112.2,110.5 111.4,112.0 110.9,113.6 110.0,115.1 108.6,116.2 107.1,117.2 105.3,117.4 103.8,118.3 102.9,120.0 102.2,121.8 101.1,123.1 99.4,123.8 98.0,124.8 96.9,126.1 95.6,127.2 93.5,127.3 90.6,127.1 89.1,128.9 89.5,131.2 90.3,133.8 90.4,135.4 90.4,136.5 89.5,138.3 88.7,140.1 89.4,141.7 91.0,143.2 92.1,144.4 92.7,145.5 93.0,147.2 93.6,148.9 94.2,150.4 95.2,152.6 94.3,155.0 93.0,156.1 91.0,156.5 89.7,157.6 88.9,159.1 86.8,159.3 84.4,159.4 83.8,161.3 83.8,163.8 82.4,164.9 80.5,165.5 79.6,167.1 78.8,168.8 77.3,169.9 76.1,171.4 75.6,173.2 75.6,175.0 76.8,176.2 77.4,177.9 77.6,179.8 77.8,181.6 78.3,183.3 78.8,185.0"/>
<polyline points="190.0,96.2 191.6,97.5 193.4,97.6 195.3,97.6 197.2,97.6 199.0,97.7 200.8,98.1 202.3,99.3 203.0,101.3 204.1,102.8 206.0,102.8 208.4,102.0 210.2,102.2 211.3,103.7 210.8,105.6 211.6,107.1 212.8,108.5 213.0,110.1 212.9,111.8 213.7,113.3 214.2,114.2 215.2,113.9 217.0,113.6 218.6,112.7 220.1,111.8 221.7,111.2 223.5,111.0 225.1,110.3 226.7,109.0 228.4,108.2 230.3,108.8 232.2,109.5 233.9,108.6 235.6,107.7 237.6,108.2 238.9,109.9 240.5,110.7 242.4,110.9 244.0,111.6 245.7,112.1 247.6,112.2 249.3,113.4 248.6,115.7 247.7,117.8 247.4,119.7 247.7,120.7 247.3,121.1 246.4,122.5 245.4,123.8 244.8,125.4 244.4,127.2 243.9,128.9 243.5,130.5 242.8,132.0 242.3,133.6 241.7,135.2 240.7,136.7 239.5,138.0 238.2,139.8 237.8,141.9 238.8,143.4 240.6,144.8 242.0,146.3 242.3,147.8 241.8,149.5 240.7,151.4 241.3,153.3 243.2,154.2 245.2,155.0 246.4,156.3 247.5,157.8 248.7,159.6 247.8,161.7 246.5,163.3 246.9,165.0 248.2,166.7 248.7,168.3 247.8,170.0 246.6,171.7 246.7,173.3 247.9,175.1 248.0,177.1 247.3,178.7 246.1,180.1 244.8,181.6 243.4,183.0 242.9,184.4 242.1,185.9 240.7,187.0 240.0,188.8"/>
<polyline points="280.0,56.2 281.9,56.6 283.5,57.4 285.2,58.1 287.2,59.5 286.6,61.7 285.7,63.3 285.2,65.0 284.9,66.6 284.7,68.3 284.8,70.1 286.1,71.2 287.1,72.4 288.2,73.6 289.4,74.8 290.3,76.2 291.0,77.6 293.0,78.8 294.9,79.9 295.1,82.5 292.5,83.7 292.7,85.6 294.4,88.0 294.7,90.0 293.4,90.7 294.4,90.8 296.2,91.1 297.9,92.0 299.6,92.7 301.5,92.8 303.2,93.6 304.6,95.3 305.9,96.0 308.0,95.5 309.7,95.6 311.4,96.0 313.1,96.2 314.8,96.6 316.0,98.1 317.1,99.7 318.3,100.9 319.9,101.4 321.8,101.5 323.4,102.0 325.0,102.5 326.6,103.1 328.0,104.0 329.2,105.3 330.9,105.6 333.1,105.4 334.8,106.4 335.7,107.9 336.5,109.4 337.8,110.5 339.4,111.3 340.8,112.3 341.4,114.0 342.3,115.4 343.5,116.0 344.6,116.9 345.9,118.5 347.7,118.9 349.5,118.9 351.0,120.2 351.6,121.9 350.5,123.3 350.9,125.0 352.1,126.7 353.0,128.3 353.2,130.4 354.5,132.0 355.8,133.0 357.7,133.3 359.6,133.4 361.1,134.2 361.9,136.1 362.9,137.7 364.7,138.3 366.7,137.7 368.5,137.8 370.1,138.6 371.9,138.7 373.8,137.9 375.7,137.3 377.5,137.2 379.8,137.5 381.8,138.6 382.8,140.2 383.4,142.2 384.2,144.0 385.7,144.9 387.5,145.1 388.9,146.1 390.0,147.6 391.8,147.6 393.7,147.4 395.5,148.0 397.1,149.1 398.8,149.7 400.6,150.2 402.4,150.3 404.1,150.6 405.8,151.2 407.5,151.8 409.3,152.0 411.0,152.6 412.2,154.0 413.4,155.4 415.1,156.0 416.6,157.2 417.1,159.3 418.7,160.8 420.6,162.3 420.4,164.0 420.0,166.1 420.5,168.1 422.0,169.0 424.1,169.1 425.8,169.6 426.8,171.1 427.4,172.9 428.4,174.3 429.7,175.2 430.5,176.6 431.1,178.2 431.4,179.9 432.4,181.3 434.7,182.0 436.6,183.0 436.5,185.1 436.1,187.5 437.5,188.8"/>
<polyline points="485.0,187.5 486.7,186.4 488.6,187.8 490.6,189.0 492.3,188.5 494.0,186.9 495.6,185.7 497.8,185.4 499.3,187.0 500.0,188.8"/>
<polyline points="77.5,180.0 78.5,181.5 79.2,183.1 79.9,184.8 80.4,186.5 80.8,188.3 81.1,190.0 80.2,191.3 79.7,192.9 78.6,194.1 77.1,195.0 76.5,196.6 77.4,197.8 78.6,198.4 78.1,200.6 77.4,203.0 77.2,205.0 76.5,206.3 76.1,208.1 74.9,209.2 73.1,209.9 72.0,211.1 71.7,213.2 70.2,214.4 68.6,215.0 66.8,215.0 64.2,214.3 62.6,216.2 62.2,217.8 62.1,219.6 61.6,221.2 61.1,222.9 61.3,224.7 61.4,226.5 60.4,228.0 58.8,228.6 58.0,229.3 57.8,231.5 57.2,233.5 56.2,234.9 55.0,236.2 54.6,237.9 53.9,239.6 53.8,241.4 53.7,243.2 53.3,245.0 54.4,246.9 55.7,248.5 56.6,250.3 57.1,251.7 58.2,251.6 59.7,252.4 61.0,253.6 62.4,254.5 64.0,255.0 65.6,255.2 67.3,255.3 68.8,255.9 70.2,257.1 71.6,258.3 73.0,259.4 74.3,260.6 75.9,261.5 78.1,261.5 80.2,261.8 81.3,263.5 81.8,265.7 82.7,267.3 83.8,268.7 84.7,270.3 85.9,271.6 87.8,272.2 89.9,272.6 91.1,273.5 91.7,275.4 92.6,277.2 94.4,277.4 96.9,276.4 99.0,276.3 100.4,277.9 101.2,280.1 101.9,281.9 102.9,283.4 103.7,285.0 104.7,286.5 106.2,287.4 105.4,285.8 104.9,284.0 104.8,282.2 104.9,280.4 105.2,278.6 105.7,276.7 105.8,275.4 107.2,275.1 108.8,274.3 110.0,272.8 111.3,270.8 113.5,272.1 114.8,273.7 115.8,275.4 116.6,276.8 117.7,278.2 119.1,279.2 120.3,280.5 121.2,282.2 122.4,283.5 123.9,284.3 125.8,284.4 128.0,284.0 130.0,284.0 131.4,285.0 132.6,286.3 133.9,287.4 135.0,288.9 136.2,290.5 137.8,291.6 139.7,291.9 141.6,292.2 143.3,293.0 145.0,293.9 146.4,295.1 147.8,296.6 149.2,297.7 151.0,298.0 153.1,297.6 155.1,297.2 156.7,298.2 157.7,299.9 158.8,301.6 160.3,302.6 161.7,303.3 162.6,305.0 163.7,306.7 165.5,308.3 167.6,308.4 169.5,307.9 171.4,307.5 173.3,307.1 175.1,306.8 176.6,307.5 177.6,309.7 178.5,311.7 180.3,312.0 181.8,313.2 182.5,315.0 183.0,317.0 183.8,318.7 185.2,319.8 186.3,320.8 187.0,322.3 188.2,323.8 190.1,324.9 191.5,326.3 192.4,328.0 193.4,329.5 194.9,331.1 195.0,333.8"/>
<polyline points="157.5,237.5 158.4,239.4 159.6,240.9 161.4,241.4 163.3,241.7 165.0,242.4 166.7,242.9 168.3,243.7 169.9,244.5 171.5,245.2 173.1,245.9 174.8,246.4 176.6,246.7 178.2,247.3 179.6,248.3 181.2,249.0 183.3,249.1 185.2,249.4 186.6,250.6 188.0,252.2 188.2,254.2 188.8,256.0 189.5,257.7 189.8,259.5 189.0,261.5 188.4,263.5 188.8,265.3 189.6,266.9 190.0,268.5 190.4,270.2 191.1,271.8 191.6,273.4 192.0,275.4 193.5,276.6 194.8,277.4 196.4,278.0 198.0,278.3 199.8,278.5 201.3,278.9 202.4,280.5 203.3,282.1 204.7,282.9 206.6,282.7 208.5,282.7 210.1,283.1 211.7,283.5 213.0,284.4 213.9,286.2 214.2,288.9 215.0,290.8 216.6,291.3 218.5,291.5 220.2,291.9 221.8,292.5 223.4,293.1 224.8,294.0 226.4,294.8 228.2,295.0 230.2,295.0 231.8,295.6 232.7,297.3 233.8,298.8 235.2,299.7 236.4,300.8 237.2,302.3 238.4,303.4 239.8,304.2 240.7,305.7 241.3,307.5 242.4,308.6 243.8,309.5 245.0,310.6 246.1,311.6 247.5,312.5 249.0,313.5 250.8,314.2 252.5,315.0 254.1,315.9 255.7,316.8 256.9,318.1 257.4,320.1 257.5,322.5 258.6,323.9 260.7,324.3 262.9,324.6 264.5,325.5 265.3,327.2 266.0,329.0 267.0,330.5 268.3,331.7 269.9,332.6 271.2,333.8"/>
<polyline points="192.5,275.0 191.4,276.2 190.9,277.8 190.1,279.2 189.0,280.4 187.4,281.2 185.7,281.9 184.7,283.1 184.8,285.2 185.0,287.5 184.2,289.0 182.4,289.9 180.4,290.4 178.5,291.0 176.8,291.8 175.4,292.9 174.4,294.4 173.4,295.9 172.5,297.5 171.2,298.7 170.3,300.1 170.7,302.3 171.2,304.6 170.1,306.0 167.7,306.5 166.2,307.5"/>
<polyline points="157.5,237.5 159.3,237.9 161.1,238.4 162.9,238.9 164.6,238.9 166.4,238.7 168.2,238.3 169.9,237.8 171.6,238.3 173.2,239.1 174.7,240.0 176.6,240.3 178.7,239.5 180.5,238.6 181.7,238.5 183.3,239.6 185.0,240.0 186.7,239.6 188.3,239.1 190.0,240.2 191.7,242.6 193.3,243.8 195.0,242.8 196.7,240.9 198.3,239.4 200.3,238.9 202.2,239.7 203.5,240.8 205.1,241.4 206.7,241.5 208.3,242.0 209.6,243.3 210.9,244.8 212.5,245.0"/>
<polyline points="247.5,180.0 246.1,181.3 244.2,181.8 242.4,182.4 240.9,183.5 239.6,185.0 237.7,186.1 235.7,185.0 234.0,184.1 232.2,183.6 230.5,182.9 228.7,182.5 226.9,182.8 224.6,182.6 222.1,183.5 220.9,184.6 221.1,187.0 220.9,189.1 219.7,190.2 218.6,191.5 218.2,193.4 217.2,194.7 215.5,195.1 215.5,196.6 216.4,198.2 217.4,199.7 218.1,201.3 217.7,203.2 216.7,205.3 217.0,207.5 218.4,208.8 220.2,209.7 221.8,210.8 224.1,212.6 223.4,215.6 222.8,217.3 221.7,218.5 220.5,219.6 218.6,220.0 216.1,219.7 213.9,219.8 212.4,220.6 211.3,221.7 210.5,223.2 209.8,224.9 209.1,226.4 208.1,227.8 207.3,229.3 206.6,230.8 205.7,232.5 207.1,234.0 209.0,235.0 210.1,236.4 210.2,238.3 210.4,240.2 211.2,241.7 212.0,243.3 212.2,245.2 212.5,247.2 213.0,249.1 214.2,250.4 215.9,251.4 217.3,252.6 218.3,254.1 219.3,255.6 220.9,256.6 222.8,257.2 224.9,257.6 226.9,260.4 224.0,262.1 221.7,261.7 220.3,261.5 220.0,260.4 218.2,259.2 216.9,257.8 216.1,256.1 215.7,254.2 215.8,252.2 215.6,250.2 214.9,248.4 214.0,246.6 212.5,245.0"/>
<polyline points="433.8,180.0 433.9,181.7 435.3,183.2 435.3,184.9 434.3,186.7 433.7,188.5 434.4,190.3 435.8,191.7 437.1,192.9 438.3,194.2 440.0,195.0 442.1,195.4 443.3,196.7 443.9,198.6 444.4,200.6 445.6,201.9 447.0,203.0 448.2,204.3 449.5,205.7 451.6,205.8 453.8,205.1 455.6,205.3 456.9,207.0 458.4,208.1 459.6,208.0 458.9,206.6 459.6,204.9 460.3,203.2 460.5,201.3 461.2,198.9 463.6,198.2 465.7,198.5 467.6,198.4 469.0,197.4 470.3,196.0 471.7,194.9 473.0,193.7 474.3,192.3 475.9,191.4 477.5,190.9 479.1,190.5 481.0,190.7 482.7,190.5 484.2,189.5 485.6,188.6 487.4,188.3 489.2,189.1 490.9,188.9 492.7,188.1 494.4,187.7 496.0,188.8 497.6,189.7 499.3,190.0 500.9,190.7 502.1,192.2 503.4,193.4 505.2,193.5 506.9,193.6 508.8,193.5 510.9,193.1 512.8,193.6 514.1,195.1 515.4,196.7 517.2,197.3 519.2,197.4 522.0,199.2 521.0,202.4 519.6,204.0 518.3,205.7 517.0,207.5 517.4,209.4 517.7,211.1 518.2,212.8 519.3,214.3 520.3,215.8 520.1,217.8 520.2,219.6 521.8,220.9 522.9,222.4 522.4,224.5 521.9,226.5 522.7,228.3 523.8,230.0 524.7,231.6 525.2,233.3 525.7,235.0 526.4,236.6 527.1,238.2 527.7,239.9 527.9,241.7 529.5,242.5"/>
<polyline points="460.0,208.8 461.2,210.5 460.7,212.3 460.0,214.0 459.6,215.8 459.0,217.2 457.8,218.2 456.7,219.7 456.5,221.7 456.3,223.7 455.1,225.0 453.5,226.2 452.7,227.7 453.3,229.8 453.5,231.6 452.7,233.1 451.3,234.4 450.1,235.7 449.6,237.3 449.3,239.2 448.5,240.9 447.4,242.5 446.9,244.3 446.7,246.3 446.3,248.2 445.6,249.9 444.7,251.5 443.7,253.1 442.4,254.5 441.0,255.9 439.5,257.0 438.2,257.6 436.8,259.0 435.2,259.7 433.2,259.3 431.4,259.3 429.9,260.4 428.6,262.1 427.1,263.1 425.3,263.9 423.3,263.9 421.5,263.4 419.6,262.3 417.7,261.6 416.0,262.5 414.2,263.2 412.5,262.6 411.1,261.7 409.3,262.4 407.5,263.1 405.8,262.9 404.2,262.7 402.4,262.8 400.5,262.6 398.8,262.1 397.4,261.0 396.2,259.5 394.6,258.8 392.7,258.5 391.4,257.3 390.1,256.0 388.3,255.6 386.3,255.9 384.4,256.0 382.6,255.6 381.3,254.2 380.0,252.5 378.3,252.1 376.7,252.3 375.0,252.5 373.3,252.6 371.7,252.3 370.0,252.1 368.3,252.8 366.7,254.1 364.6,254.8 362.6,253.9 361.1,252.7 359.7,251.5 358.4,249.8 357.0,248.5 355.1,248.4 353.0,249.2 351.0,249.4 349.2,248.8 347.9,248.7 347.7,249.8 346.0,250.5 343.8,250.8 342.4,251.8 341.7,253.3 340.6,254.7 340.3,256.5 341.3,258.5 341.8,260.4 340.9,262.0 339.8,263.5 339.3,265.2 338.2,267.2 336.9,268.8 335.4,270.4 333.6,271.7 331.9,272.8 330.4,274.0 330.8,275.6 330.4,277.1 331.9,278.3 333.8,279.5 335.6,278.7 337.8,277.2 338.8,279.2 338.7,281.1 338.6,283.1 338.8,285.0 337.1,285.9 335.5,287.1 334.0,288.5 332.2,289.1 330.2,289.3 328.5,289.9 327.0,291.0 325.4,291.7 323.6,291.9 321.7,291.9 319.3,291.8 318.7,293.8 319.0,295.6 319.1,297.3 318.7,298.9 318.2,300.5 317.7,302.0 316.7,303.4 316.1,305.0 316.6,306.6 317.4,308.3 317.9,309.9 317.5,311.6 316.6,313.4 315.5,315.1 314.6,316.9 314.7,318.6 316.1,320.3 318.4,321.5 320.0,322.9 320.8,324.5 321.5,326.1 322.2,327.7 322.9,330.3 321.3,332.7 318.8,333.8"/>
<polyline points="402.5,262.5 401.7,264.3 401.1,266.1 401.1,267.9 402.3,269.6 403.0,271.4 401.9,273.2 401.1,274.1 400.5,274.6 399.5,276.6 398.2,277.8 396.5,278.1 394.5,277.6 392.6,277.6 391.4,279.1 390.6,281.6 388.8,282.7 386.4,281.8 383.9,280.6 381.5,281.5 381.8,284.3 381.5,286.3 380.7,288.1 380.3,290.2 378.9,291.9 377.2,292.8 375.7,294.2 375.2,295.6 375.7,296.5 375.2,298.2 375.0,299.9 375.3,301.6 375.6,303.2 375.3,304.8 376.2,306.3 377.5,307.5 379.0,308.5 380.7,309.4 382.1,310.7 382.9,312.3 383.4,314.1 383.9,316.0 385.3,317.2 387.4,317.8 389.0,318.2 390.0,319.2 391.0,321.3 392.5,322.6 394.2,323.3 395.6,324.6 397.1,326.1 398.9,326.5 400.9,325.6 402.8,325.0 404.3,326.0 405.6,328.0 407.0,328.7 408.7,328.7 410.2,329.6 411.1,331.3 412.3,332.5 414.3,332.6 416.1,332.8 417.5,333.8"/>
<polyline points="280.0,327.5 281.6,326.7 283.3,326.9 285.0,327.5 286.7,327.6 288.4,327.1 290.0,327.1 291.7,327.1 293.3,326.5 295.0,325.6 296.8,326.2 298.3,327.0 300.2,326.7 302.2,325.6 304.0,325.6 305.5,326.7 307.0,327.7 308.5,328.8 310.1,329.7 311.6,330.9 313.2,331.7 314.7,332.8 316.2,333.8"/>
<polyline points="520.0,200.0 522.1,201.5 520.6,202.6 520.3,204.2 521.6,206.0 522.9,207.8 522.6,209.4 521.7,210.9 521.0,212.5 521.3,214.2 521.5,215.9 521.6,217.5 522.5,219.1 523.3,220.7 523.0,222.1 524.0,223.7 525.6,224.6 527.5,225.0 527.5,226.6 527.5,228.2 527.8,229.9 527.4,231.5 526.1,232.9 524.9,234.4 524.3,235.9 523.4,237.4 523.0,239.0 524.3,240.8 525.9,241.9 527.3,241.5 528.9,242.3 530.6,242.8 532.2,243.5 533.8,244.4 535.2,245.5 536.7,246.7 538.2,247.7 539.8,248.4 541.5,248.7 543.1,249.3 544.1,250.0 545.1,250.9 547.6,251.5 549.9,252.2 551.0,253.8 550.9,255.8 550.9,257.7 550.8,259.6 550.7,261.5 551.4,264.0 554.1,263.9 555.9,262.5 557.6,261.8 559.2,262.2 560.9,262.5 562.6,262.1 564.3,262.1 565.9,262.9 567.7,263.4 569.3,264.2 570.7,265.0 571.7,266.3 572.5,267.9 573.3,269.6 574.1,270.7 575.4,271.9 577.0,273.1 577.8,274.7 578.5,276.5 580.1,277.3 581.4,278.2 582.6,279.6 583.7,281.1 585.2,281.6 587.2,281.3 589.1,281.0 590.7,281.5 592.2,282.2 593.9,282.2 595.1,282.3 596.5,282.1 598.4,282.2 600.2,282.0 601.9,281.3 603.7,280.7 605.6,280.8 607.6,281.3 609.6,280.8 611.4,280.2 612.7,279.0 613.1,276.9 613.2,274.5 614.5,272.9 616.6,273.0 618.3,272.7 619.8,271.6 621.4,271.0 623.2,271.0 625.2,270.4 626.8,271.8 627.9,273.4 629.5,274.2 631.4,274.7 632.6,276.1 633.4,277.7 633.9,279.2 635.0,281.0 635.0,282.7 633.6,284.3 632.5,285.8 632.5,287.5 631.6,289.1 630.8,290.7 630.0,292.3 629.1,293.9 627.7,295.1 626.2,296.2 624.6,297.4 623.8,299.1 624.5,300.8 626.2,302.4 627.0,304.0 626.2,305.6 625.1,307.3 624.5,308.9 624.0,310.5 623.9,312.2 625.0,313.8 624.1,315.8 622.7,316.7 620.9,316.8 619.2,317.1 617.5,317.4 615.8,318.5 615.4,320.4 616.0,323.1 615.2,324.7 612.7,325.0 611.1,326.1 610.7,327.9 610.0,329.3 608.2,330.4 607.0,331.8 607.5,333.8"/>
<polyline points="625.0,315.0 626.6,316.0 628.1,317.0 629.7,318.1 631.4,317.8 633.3,316.4 635.0,316.0 636.3,317.8 637.7,319.0 639.6,319.3 641.3,319.8 642.6,321.3 644.8,322.6 647.0,320.9 648.3,319.0 649.8,317.8 651.4,317.4 652.9,316.1 654.3,314.7 656.1,314.7 658.1,315.6 660.0,316.6 661.7,317.5 663.4,318.2 665.2,318.3 667.0,318.3 668.8,318.4 670.6,318.6 672.0,318.8 673.3,319.4 674.9,320.1 676.5,320.7 678.0,321.4 679.2,322.7 680.2,324.3 682.9,325.4 684.3,322.8 685.4,321.4 686.6,320.1 686.2,317.9 685.6,315.6 685.8,313.7 687.0,312.4 688.9,311.4 690.1,310.8 690.6,311.9 692.7,312.3 694.7,312.8 696.0,314.4 695.9,316.6 696.1,318.3 695.7,320.1 694.6,322.2 694.3,324.0 695.4,326.2 697.3,327.6 698.6,328.7 700.7,329.0 703.1,329.0 703.5,331.0"/>
<polyline points="187.5,325.0 188.6,326.4 190.3,327.2 191.9,328.1 193.9,328.6 195.8,329.2 196.6,331.9 194.5,334.0 193.7,335.5 193.5,337.1 192.5,339.1 193.2,341.8 195.9,343.9 198.0,341.8 199.2,340.4 200.3,339.1 201.2,337.4 202.4,335.8 204.3,336.2 206.0,336.4 207.8,336.4 209.5,336.6 211.0,337.9 212.1,339.2 212.2,340.6 212.8,342.1 213.5,343.6 214.0,345.2 214.0,346.9 213.1,348.7 213.0,351.6 215.8,352.2 217.8,351.9 219.3,352.6 220.6,353.7 222.4,354.0 224.1,354.3 225.6,355.0 227.2,355.6 228.8,356.1 230.1,357.3 231.5,358.5 233.4,358.5 235.7,357.5 237.8,357.0 239.4,357.6 241.1,359.1 242.4,360.7 243.7,361.9 245.1,362.8 246.4,363.9 247.3,365.5 248.0,367.5 249.0,369.1 250.7,369.6 252.6,369.8 254.1,370.7 255.0,372.1 256.1,373.4 257.5,374.2 259.4,374.6 261.0,375.2 261.0,376.5 262.2,376.0 264.1,375.2 265.2,373.8 265.9,372.1 266.5,370.3 267.4,368.7 269.3,368.7 271.1,368.7 272.9,369.0 274.6,369.8 276.4,370.4 278.2,370.3 279.7,369.5 281.0,370.3 282.5,371.3 283.7,372.6 284.2,374.5 284.8,376.4 286.8,377.1 289.5,377.5"/>
<polyline points="255.0,325.0 256.0,326.6 257.2,328.1 258.5,329.2 260.0,330.2 261.3,331.5 262.5,332.8 263.8,334.2 265.2,335.3 266.8,336.1 268.7,336.7 270.7,337.0 272.2,337.9 273.9,339.5 276.0,338.1 276.9,336.6 277.3,334.7 277.9,332.9 279.0,331.5 280.6,330.8 281.9,330.2 283.0,328.3 284.5,327.5 286.5,327.9 288.1,327.3 289.5,326.2"/>
<polyline points="280.0,368.8 281.4,369.7 282.6,371.0 284.2,371.7 286.1,371.7 287.9,372.1 289.2,373.1 290.8,373.7 292.3,374.5 293.5,375.6 294.8,376.7 296.2,377.5 297.1,379.1 297.4,381.6 298.2,383.4 299.9,383.7 301.6,384.1 302.8,385.4 303.5,387.0 304.9,387.6 307.1,387.5 308.8,388.0 310.2,388.7 311.7,389.4 312.6,390.9 312.8,393.2 313.4,395.0 314.9,395.7 316.7,396.1 318.6,396.5 320.5,397.0 322.3,397.5 323.9,398.4 324.9,400.4 326.9,401.0 328.5,400.4 330.1,399.5 331.7,399.3 333.4,399.2 335.1,399.2 336.9,399.2 338.5,399.1 340.3,398.9 342.1,398.5 343.7,397.6 345.5,397.0 347.4,397.3 349.3,397.5 350.9,396.3 352.9,394.4 354.0,396.6 353.3,398.6 353.3,400.4 354.4,402.1 355.0,403.8 354.5,405.8 354.1,407.6 354.3,409.2 354.4,410.9 354.7,412.6 355.6,414.2 356.7,415.8 356.7,417.4 356.2,419.1 357.0,420.8 357.3,421.4 358.0,421.5 359.6,422.4 361.4,422.0 363.2,421.3 364.9,421.5 366.5,422.8 368.1,424.0 369.7,424.5 371.4,424.8 373.2,424.5 374.9,424.5 376.6,425.1 378.2,425.7 379.9,425.2 381.7,425.8 382.8,427.7 384.2,429.0 386.3,429.1 388.4,429.0 390.1,429.5 391.7,429.3 393.3,429.3 395.0,430.0 396.7,431.1 398.3,431.5 400.0,430.9 401.7,430.2 403.3,430.0 405.0,430.2 406.7,430.2 408.3,429.9 410.4,429.3 411.7,430.9 411.8,432.9 411.7,434.9 412.4,436.4 413.7,437.6 414.4,439.1 415.1,440.9 417.2,441.4 419.3,441.2 420.6,442.2 421.4,443.8 422.5,444.6 423.7,443.5 425.2,442.6 426.6,441.4 428.2,440.5 429.7,439.8 429.3,438.3 428.8,436.6 428.5,434.8 428.4,433.1 428.6,431.4 429.2,429.6 429.6,427.9 429.7,425.9 431.7,425.8 433.4,426.0 435.0,426.9 436.6,427.7 438.3,427.7 440.0,427.1 441.7,426.9 443.3,427.6 444.9,428.4 446.6,428.1 448.3,426.9 450.0,426.8 451.6,427.9 453.3,428.6 454.8,428.2 456.6,428.0 458.5,427.9 460.2,428.3 461.7,429.0 462.9,430.4 464.2,431.7 465.9,432.0 468.0,431.6 469.5,432.3 470.6,433.9 471.6,435.6 472.6,437.4 473.7,438.8 475.3,439.3 477.1,439.5 478.9,439.7 480.5,440.2 482.1,440.8 483.6,441.6 485.1,442.9 487.5,442.2 489.8,440.5 489.0,438.0 487.5,436.4 486.2,434.7 487.5,432.5"/>
<polyline points="280.0,325.0 281.7,325.4 283.3,326.0 285.0,325.9 286.8,325.4 288.5,325.5 290.1,326.3 291.6,327.1 293.2,327.7 294.9,328.0 296.6,327.7 298.2,327.7 299.8,328.0 301.4,327.7 303.1,327.1 304.7,327.1 306.3,327.3 307.9,327.1 309.5,328.0 311.0,328.9 312.7,328.5 314.4,327.1 316.0,327.1 317.6,328.7 317.4,330.6 318.3,332.1 319.5,333.6 320.2,335.2 319.8,337.1 320.0,338.8"/>
<polyline points="400.0,325.0 402.1,324.3 403.5,325.4 404.6,327.2 405.7,328.9 407.2,329.6 409.5,328.5 411.9,326.9 413.8,327.3 414.5,329.8 415.4,331.6 416.8,332.6 417.9,334.1 418.9,335.7 420.6,336.1 422.6,336.0 424.3,336.5 425.4,337.9 426.4,339.5 427.7,340.6 429.4,341.5 431.3,341.5 433.1,341.3 434.8,341.3 436.6,341.1 438.6,340.0 440.5,339.2 441.9,340.5 443.0,342.7 444.3,344.3 445.6,345.5 446.7,345.9 447.9,346.9 449.4,348.2 450.4,349.8 451.1,351.5 452.5,352.9 453.4,355.1 451.5,356.5 449.5,357.0 447.8,357.8 446.4,358.9 445.3,360.3 444.6,362.0 443.5,363.2 442.2,364.3 440.6,364.9 439.0,365.6 437.8,366.2 439.2,365.8 440.7,366.8 442.0,368.3 443.5,369.4 445.1,369.5 446.8,369.2 448.6,368.7 450.4,368.0 452.1,368.2 453.4,369.6 454.7,371.2 456.2,372.1 457.9,372.6 459.5,373.2 461.2,373.6 462.8,374.0 464.5,374.4 466.4,374.0 468.5,372.8 470.2,372.9 471.5,374.9 472.9,376.3 474.8,376.4 476.6,376.2 478.2,377.0 479.9,377.1 481.6,375.8 483.4,374.7 485.1,374.0 486.8,374.2 488.4,374.9 490.0,376.1 491.6,377.4 493.2,378.1 494.7,377.7 496.8,377.0 498.8,377.5 500.5,378.6 502.4,378.9 502.4,380.7 501.6,382.5 501.3,384.3 501.2,386.2"/>
<polyline points="440.0,367.2 441.6,368.1 443.2,367.9 444.9,367.0 446.5,366.7 448.1,367.1 449.7,367.7 451.3,368.2 452.7,368.8 454.0,370.1 455.4,371.1 457.1,371.3 459.2,370.5 461.2,370.0 462.9,370.5 464.3,371.1 465.9,371.1 467.5,371.2 469.1,371.6 470.7,372.0 472.2,372.8 473.7,373.9 475.2,375.3 476.9,376.1 478.5,375.7 480.2,374.7 481.9,374.0 483.4,374.4 485.0,375.4 486.6,376.0 488.2,375.7 489.8,375.4 491.5,375.0 493.2,374.7 494.8,375.3 496.3,376.3 497.9,376.4 499.9,375.4 502.3,375.8 504.5,377.9 503.0,380.6 502.0,382.3 501.9,384.3 501.5,386.0 500.8,387.6 499.9,389.3 498.1,389.8 496.6,390.6 495.1,391.5 493.3,391.4 491.3,390.4 489.5,390.4 488.0,391.3 486.6,392.3 485.0,392.6 483.3,392.7 481.8,393.2 480.3,393.4 478.6,393.3 476.9,392.6 475.3,392.9 473.8,394.2 472.3,395.1 470.6,394.4 468.8,393.7 467.2,394.1 465.7,394.7 463.6,395.2 464.7,397.1 466.3,398.0 467.7,397.7 469.1,399.0 470.3,401.0 471.6,402.4 473.3,402.7 474.6,402.2 475.9,402.8 477.5,403.8 479.2,404.9 479.9,407.5 479.9,409.4 480.4,410.5 480.9,412.4 481.7,414.1 482.7,415.3 483.5,416.7 484.5,418.3 485.4,419.8 486.5,421.3 486.8,422.8 486.6,424.4 486.4,426.0 486.6,427.6 487.1,429.3 487.0,431.0 487.0,432.7 486.4,434.3 484.8,435.7 484.1,437.7 483.9,439.4 484.3,441.0 484.6,441.1 484.0,440.7 483.5,443.7"/>
<polyline points="548.4,396.8 546.7,397.0 545.4,398.6 543.7,400.4 541.3,399.8 539.5,398.1 537.5,397.2 536.8,399.0 536.4,401.0 535.2,402.2 533.7,403.4 532.2,404.7 530.8,405.9 529.1,406.5 527.3,406.8 525.6,407.4 523.8,407.8 522.0,408.3 520.8,409.4 519.5,410.6 517.8,411.2 516.3,412.0 515.0,413.2 513.5,414.0 511.8,413.9 510.1,414.0 508.6,414.5 507.1,415.3 505.5,415.9 503.9,415.9 502.2,415.9 500.6,416.6 499.0,417.4 497.3,417.5 495.6,417.6 494.0,418.1 492.3,418.3 490.5,419.0 491.9,421.4 491.5,423.1 490.1,424.9 489.6,426.6 490.4,428.1 492.1,429.5 493.2,431.0"/>
<polyline points="483.5,443.7 483.7,441.8 483.9,439.9 484.7,438.5 485.9,437.8 486.8,436.3 487.4,434.4 487.7,432.6 489.4,431.9 491.0,430.5 492.7,429.1 494.6,428.7 496.5,428.9 498.3,428.5 500.0,427.6 502.0,428.1 504.4,429.4 506.2,428.4 507.2,427.0 508.0,425.4 509.2,424.2 510.1,422.7 511.2,421.3 512.8,421.8 514.5,422.0 516.3,421.9 518.1,423.1 519.3,424.7 520.5,426.2 522.0,427.4 523.5,428.3 524.8,429.5 526.2,430.6 527.8,431.2 529.0,432.4 529.8,434.0 529.9,436.0 530.3,438.7 532.6,439.9 534.2,440.7 535.7,441.6 537.5,441.8 539.7,441.2 541.6,440.3 543.4,439.5 545.2,439.0 546.9,439.3 548.6,440.2 550.3,440.6 551.9,441.1 553.5,442.0 555.2,442.6 557.0,442.2 558.9,442.0 560.5,442.8 562.2,443.3 564.1,442.7 566.1,442.6 567.7,443.9 569.1,445.6 570.3,446.4 570.9,447.6 572.0,449.0 573.3,450.4 574.7,451.7 575.8,453.1 576.4,454.9 576.7,457.0 577.6,459.0 576.2,461.0"/>
<polyline points="548.4,396.8 548.7,394.4 549.3,392.1 551.0,390.8 551.8,389.5 550.3,389.3 549.8,387.7 550.6,385.4 551.3,384.3 551.8,383.3 551.6,380.9 552.2,378.6 554.3,378.5 556.1,378.9 557.8,378.4 559.3,377.5 561.0,377.2"/>
<polyline points="615.0,325.0 613.0,325.2 611.2,325.8 610.0,327.2 608.9,328.9 607.5,330.0 607.2,331.0"/>
<polyline points="561.0,376.5 560.1,378.6 558.7,379.4 557.2,380.2 556.4,380.7 555.6,381.9 553.8,382.9 551.5,383.7 549.8,385.0 550.9,386.6 552.7,387.8 554.3,390.5 551.9,392.3 549.7,392.3 547.7,392.6 546.2,393.6 545.0,395.0"/>
<polyline points="575.0,460.0 573.7,461.8 573.2,463.5 573.8,465.2 574.1,466.9 573.5,468.7 574.1,470.4 575.3,472.0 575.9,473.7 575.7,475.4 576.2,477.1 576.2,478.8"/>
<polyline points="695.0,325.0 696.0,326.5 697.3,327.8 697.8,329.6 697.5,332.0 698.1,334.3 700.2,335.2 702.5,335.1 704.2,335.8 705.5,337.1 707.0,338.1 708.5,339.0 709.9,340.1 710.7,341.5 712.2,342.5 713.4,343.6 713.4,345.5 712.8,347.8 712.8,349.6 714.2,350.7 716.1,351.5 717.8,352.4 718.7,354.0 718.8,355.7 718.6,357.5 719.1,359.2 720.6,360.6 721.9,361.2 722.7,361.8 723.1,364.3 723.2,367.1 724.5,368.4 726.7,368.4 728.4,369.2 730.0,370.6 731.6,369.1 733.0,367.7 735.2,367.6 735.7,365.8 735.0,364.0 734.0,362.2 733.5,360.5 733.9,358.8 735.0,357.0 735.6,355.2 735.3,353.5 735.6,351.8 736.5,350.5 737.8,349.7 738.8,348.2 739.6,346.6 740.3,344.9 740.8,343.2 741.5,341.5 742.2,339.7 742.8,337.8 745.0,335.8 747.1,337.9 747.4,340.1 748.0,342.0 748.8,343.1 749.0,344.6 749.4,346.3 750.0,348.1 750.9,349.7 751.2,351.5 751.0,353.4 751.7,355.4 753.7,356.3 755.0,357.5 755.6,359.4 756.6,360.9 758.2,361.8 759.8,362.8 761.6,363.3 763.5,363.6 765.3,364.0 766.8,365.0 767.9,366.7 769.5,367.5"/>
<polyline points="760.0,363.8 761.6,364.5 763.3,365.2 764.9,365.9 766.6,366.5 768.3,366.9 770.0,367.1 771.6,366.4 773.1,365.5 774.8,365.5 776.7,366.7 778.4,367.1 780.1,365.6 782.6,365.4 783.8,367.0 785.3,369.2 786.1,366.9 785.9,365.1 785.5,363.4 784.6,361.7 783.6,360.0 784.2,358.4 785.3,357.1 786.0,355.7 786.3,354.0 786.8,352.5 787.6,351.0 788.4,349.6 788.9,348.1 789.2,346.4 790.0,345.0 791.4,346.3 793.0,347.2 794.8,347.1 796.7,346.6 798.5,346.4 799.9,346.6 801.3,345.9 803.1,345.3 805.0,344.7 806.7,345.7 808.3,346.7 809.8,347.7 810.3,349.5 811.1,351.3 811.7,353.2 812.5,355.0 814.3,354.8 816.0,355.3 817.3,357.2 818.6,358.9 820.4,358.8 822.4,357.8 823.9,358.4 824.9,360.0 826.0,361.5 827.5,362.3 829.1,362.8 830.9,363.1 832.9,363.0 834.7,362.8 836.3,363.9 837.5,365.6 839.1,366.5 840.9,366.6 842.4,367.8 842.8,369.7 844.0,370.8 845.8,371.1 847.0,372.1 847.8,373.4 849.1,374.5 851.0,375.4 852.5,376.5 853.5,378.0 853.9,379.8 855.6,381.0 857.4,381.8 858.9,381.1 860.5,380.3 862.1,380.2 863.7,379.6 865.1,377.8 866.6,376.7 868.4,377.6 870.1,379.3 871.5,380.0 873.2,379.2 874.9,378.7 876.6,379.0 878.3,378.8 880.0,378.2 881.6,378.9 883.2,379.7 885.0,380.0 886.7,379.1 888.3,378.2 889.9,377.5 891.5,376.7 893.2,376.5 895.0,377.5 896.7,378.5 898.4,378.3 900.0,377.5 901.7,378.1 903.3,378.7 905.2,378.8 906.9,379.4 908.4,380.5 909.7,382.2 911.4,383.1 913.2,382.8 915.0,382.2 916.6,382.5 918.2,383.5 920.7,384.0 922.1,381.9 922.6,380.0 923.0,378.1 923.7,376.3 924.4,374.7 925.8,373.5 927.8,372.8 929.0,371.6 928.8,369.5 929.4,367.8 931.2,367.2 932.6,366.6 934.1,366.7 936.0,366.4 937.6,367.2 938.8,368.5 940.1,370.0 941.5,371.0 943.0,371.8 944.6,372.7 946.5,372.8 948.2,372.9 949.9,373.0 951.6,373.1 953.3,372.7 954.9,372.9 956.6,373.2 958.3,373.0 960.0,372.4 961.6,372.8 963.1,373.6 964.7,374.0 966.3,374.3 968.0,374.3 969.7,374.2 971.4,374.3 973.9,375.1 974.7,377.7 974.3,379.5 973.2,381.5 972.6,383.4 973.5,385.0 974.3,387.1 974.0,388.9 972.3,390.2 970.9,391.5 970.6,393.3 970.3,395.1 969.8,396.7 969.1,398.3 968.1,399.7 967.3,401.2 967.2,402.9 967.1,404.7 966.6,406.3 965.8,407.8 964.1,408.9 961.7,409.8 960.2,411.0 960.4,412.9 961.6,415.2 962.7,417.5 962.4,419.2 960.8,420.2 960.1,421.8 960.4,423.6 960.6,425.5 960.7,427.3 960.8,429.1 960.4,430.9 960.0,432.7 959.7,434.5 959.0,436.0 957.8,437.3 957.0,438.8 956.4,440.3 955.8,441.8 955.3,443.4 955.0,445.0 954.6,446.7 954.1,448.5 954.1,450.2 954.6,452.0 955.2,453.8 955.2,455.6 954.3,457.3 953.3,459.0 953.0,460.7 953.1,462.5 953.1,464.1 952.7,465.7 952.0,467.3 951.8,468.9 951.9,470.5 951.8,472.2 951.6,473.8 951.7,475.5 951.8,477.1 952.5,478.8"/>
<polyline points="576.2,461.0 575.9,462.7 575.3,464.3 575.1,465.9 574.7,467.6 574.7,469.3 575.5,471.1 576.1,473.0 575.2,474.6 573.7,476.0 573.5,477.7 574.3,479.7 574.6,479.9 574.7,480.1 575.5,482.5 576.4,484.8 578.2,484.8 580.8,483.0 582.9,482.2 584.3,483.3 585.4,484.8 586.8,485.8 588.4,486.6 589.9,487.6 591.6,488.1 593.4,487.9 595.2,487.8 596.8,489.0 598.1,490.5 599.5,492.0 601.3,492.5 603.6,492.1 606.2,491.9 607.9,493.1 608.5,495.0 609.0,497.0 609.4,499.1 610.3,500.7 611.6,501.9 613.0,503.0 614.0,504.3 615.2,506.1 616.9,508.2 619.3,508.3 621.0,507.8 622.5,506.7 624.1,505.8 625.9,506.4 627.1,507.0 627.7,508.3 629.5,509.0 631.6,509.4 633.4,510.4 633.9,512.2 633.6,514.2 633.3,516.1 634.2,518.2 636.6,518.0 638.6,517.2 640.4,516.8 642.1,517.3 643.5,518.7 645.1,519.5 646.7,519.8 648.2,521.1 650.1,522.8 652.1,521.8 653.3,520.1 654.5,518.6 655.8,517.4 657.2,516.3 658.7,515.5 660.3,515.0 661.6,514.3 662.9,513.5 664.7,513.3 666.9,513.8 668.7,513.7 669.9,512.6 671.0,511.3 672.3,510.3 673.8,509.6 675.3,509.1 677.2,508.9 679.0,508.1 680.7,506.8 682.5,505.3 684.8,505.5 686.6,506.0 688.3,506.9 689.8,508.1 691.0,509.9 692.1,511.3 692.2,512.8 693.1,514.5 693.8,516.2 694.1,517.9 694.0,519.7 693.6,521.5 693.4,523.3 693.2,525.0 693.5,526.8 694.5,528.3 695.7,529.4 695.8,531.2 695.6,533.2 695.4,535.2 695.8,537.8 698.0,539.1 700.2,538.9 702.4,538.6 704.3,539.1 705.8,540.2 707.5,541.5 709.3,540.9 710.8,540.2 712.3,539.6 714.0,539.2 715.2,538.1 716.4,536.9 717.9,536.3 719.4,535.7 720.3,534.4 721.8,533.4 723.6,533.3 725.4,532.9 727.0,531.7 728.7,530.4 730.5,530.0 732.7,530.3 734.4,531.5 735.7,532.8 737.1,533.8 738.8,533.9 740.6,533.7 742.1,534.1 743.5,535.4 744.9,536.5 746.6,536.4 748.3,537.0 749.8,538.2 751.4,538.5 753.3,537.5 755.1,537.1 756.7,537.6 758.4,538.1 760.1,538.0 761.9,537.6 763.6,537.7 765.1,538.5 766.5,539.5 768.1,540.0 769.5,541.0"/>
<polyline points="652.5,461.0 653.8,462.3 655.4,463.0 657.1,463.3 658.8,463.8 660.4,464.6 661.7,465.8 663.1,466.9 664.7,467.7 666.4,468.2 668.2,468.4 669.9,469.1 671.7,469.4 673.6,469.0 675.4,468.5 677.2,468.9 678.9,469.4 680.7,469.4 682.4,469.3 683.7,468.2 685.0,467.0 686.5,466.3 688.4,466.4 690.4,466.8 692.0,466.5 693.4,465.3 694.9,463.0 697.4,462.4 698.9,463.2 700.4,464.5 701.8,466.0 703.2,467.4 704.7,468.5 706.5,468.5 708.2,468.4 709.8,468.9 711.2,469.8 713.3,470.0 715.4,470.2 716.6,471.6 716.9,474.2 717.4,476.5 718.9,477.2 721.4,477.1 723.3,477.7 724.6,478.9 725.7,480.3 726.6,481.9 727.2,484.0 729.1,484.8 731.0,484.8 732.8,485.0 734.6,485.1 736.4,485.6 738.1,486.3 739.5,486.9 741.2,487.3 743.1,487.9 743.8,489.7 744.1,491.9 745.1,493.4 746.5,493.5 745.8,494.3 744.8,495.8 743.9,497.4 743.0,498.4 744.4,498.9 745.6,500.5 747.0,502.0 749.0,502.1 751.2,501.9 752.7,502.6 754.1,502.8 755.8,502.8 757.5,502.8 759.2,503.1 760.9,503.3 762.6,503.0 764.3,502.3 765.9,501.3 767.6,500.7 769.5,501.0"/>
<polyline points="750.0,541.0 752.3,542.9 753.5,541.4 754.8,539.8 756.1,538.7 757.8,538.4 759.6,539.0 761.2,538.5 762.6,536.4 764.6,537.0 765.5,539.1 766.8,540.4 768.8,540.3 770.8,540.1 772.3,541.0 773.4,542.8 774.4,544.7 775.4,546.0 777.2,546.1 779.5,545.4 781.4,545.5 782.6,546.5 783.9,547.6 785.2,548.6 786.5,549.6 788.0,550.2 789.7,550.5 791.1,551.7 792.1,553.6 793.2,555.2 794.7,556.1 796.6,556.2 798.7,555.9 800.6,555.9 802.2,557.0 803.5,558.6 805.1,559.5 807.3,559.3 809.0,560.0 810.0,561.9 811.6,561.4 813.1,560.3 814.9,559.8 816.7,559.3 818.0,558.2 819.3,557.0 820.8,555.9 822.5,555.3 824.6,555.8 826.6,556.2 828.5,555.3 829.5,553.2 830.6,551.7 831.9,550.4 833.4,549.4 834.5,547.8 835.1,545.7 836.3,544.2 838.0,543.5 839.7,542.8 841.1,541.7 843.2,541.5 844.5,542.6 842.7,543.0 844.0,544.4 845.2,545.8 845.0,547.5 844.8,549.1 845.6,550.7 846.4,552.2 846.5,553.8 846.5,555.4 846.9,557.0 847.2,558.7 848.5,560.3 849.6,561.7 851.1,562.6 852.7,563.1 854.3,563.6 855.8,564.4 856.9,565.9 858.2,567.0 860.4,566.5 862.6,565.8 864.3,566.1 865.5,568.0 867.0,569.2 868.8,569.4 870.5,569.8 872.0,570.7 873.8,571.1 875.6,571.0 877.7,571.9 879.9,571.2 881.2,570.1 881.9,568.5 882.8,566.9 884.0,565.8 885.3,564.8 886.4,563.4 887.3,561.5 889.4,560.8 891.2,561.1 892.9,562.1 894.6,562.9 896.4,563.5 898.2,563.6 899.9,563.9 901.5,564.6 903.2,564.8 905.0,564.8 906.8,564.6 908.7,564.3 909.9,564.6 911.1,564.4 912.8,564.1 914.6,564.0 916.5,564.1 918.0,563.3 919.3,562.2 920.8,561.4 922.4,560.7 923.7,559.6 925.0,558.4 926.5,557.4 928.2,557.0 930.0,557.6 931.8,558.1 933.4,557.5 934.8,555.9 936.4,555.0 938.3,556.0 939.7,557.3 940.5,558.3 942.4,558.8 944.1,559.5 945.6,560.4 947.4,561.0 948.9,562.0 950.4,563.1 951.5,564.6 952.4,566.1 952.9,567.7 952.9,569.6 953.8,571.5 955.0,569.8 955.1,567.9 955.9,566.4 957.2,565.2 957.8,563.6 957.8,561.6 958.7,560.3 960.5,559.4 962.0,558.2 962.5,556.6 962.5,554.7 963.1,553.2 964.3,551.8 965.0,550.3 965.4,548.6 965.5,546.8 965.7,544.9 965.5,543.0 965.8,541.2 966.7,539.6 967.9,537.9 969.2,536.4 969.0,534.7 967.7,532.6 967.6,530.9 968.9,529.5 970.0,528.1 970.4,526.5 970.8,524.9 971.3,523.3 971.8,521.7 971.8,520.0 972.5,518.5 973.2,516.5 973.1,514.7 971.5,513.1 969.9,511.6 969.5,509.8 969.2,508.0 969.4,506.1 969.8,504.3 970.1,502.5 969.1,501.1 968.0,499.7 967.6,498.1 967.6,496.4 967.9,494.6 967.9,492.8 967.2,491.3 965.6,490.0 964.6,488.7 963.4,487.6 962.3,486.2 960.6,485.4 959.1,484.4 958.2,482.8 957.5,481.0 956.1,479.9 954.4,478.8 954.2,477.0 953.3,475.5 952.4,474.0 952.7,472.3 953.8,470.6 953.6,469.0 952.7,467.5 952.0,465.9 951.4,464.4 950.8,462.9 952.5,461.0"/>
<polyline points="750.0,501.0 751.7,501.1 753.4,501.0 755.1,501.6 756.8,502.0 758.4,501.3 760.0,500.1 761.6,498.8 763.2,498.2 765.1,498.9 766.6,500.7 768.2,501.4 770.0,501.8 771.7,502.2 773.6,502.1 775.6,502.0 777.2,503.3 778.1,505.6 779.6,506.8 782.0,506.1 784.4,505.5 786.5,507.2 786.8,510.0 786.9,512.0 786.5,514.2 786.2,516.4 787.1,518.0 788.3,519.6 789.0,521.3 789.6,523.0 790.0,524.8 791.6,524.6 793.2,524.9 794.7,525.7 796.2,526.8 797.8,527.1 799.6,526.0 801.3,525.0 803.0,524.9 804.4,525.9 805.9,526.7 807.5,526.7 809.0,525.5 810.7,524.8 812.6,524.8 814.5,524.9 816.4,525.1 818.3,525.6 820.4,525.9 822.2,525.0 823.6,523.6 825.1,522.4 826.4,521.0 828.0,520.0 830.0,519.6 831.2,521.1 832.7,521.8 834.5,521.9 836.3,522.2 837.9,523.1 838.1,525.3 838.3,527.3 838.8,528.7 838.2,530.0 837.5,531.6 838.1,533.3 839.5,535.2 840.5,537.0 840.2,538.8 838.6,540.3 837.8,542.0 837.9,543.9 838.2,545.9 836.2,547.2"/>
<polyline points="750.0,493.5 751.4,492.1 753.2,492.0 755.2,492.9 757.2,493.8 758.8,493.3 760.6,492.0 761.3,489.8 761.9,487.9 762.8,486.3 763.9,484.9 765.1,483.6 765.8,483.0 765.8,482.0 765.8,480.1 765.6,478.3 765.7,476.4 766.1,474.5 766.5,472.6 765.8,471.1 765.7,469.2 765.7,467.2 766.4,465.5 767.8,464.1 770.1,463.1 770.0,461.0"/>
<polyline points="608.8,330.0 606.6,331.3 606.6,333.0 607.3,334.8 607.7,336.5 607.9,338.2 608.4,340.8 606.6,342.9 605.1,343.9 603.3,344.3 601.4,344.2 599.5,344.4 598.2,345.7 598.0,347.0 598.1,347.8 596.1,348.8 593.9,349.8 592.3,351.0 591.1,352.4 590.3,354.1 589.6,355.6 589.1,357.2 588.6,358.9 587.9,360.4 586.9,361.8 585.7,363.0 584.9,364.3 584.9,365.7 584.3,367.4 583.8,369.0 584.1,370.6 584.5,372.3 584.7,373.8 585.5,375.3 586.2,376.9 586.9,378.5 588.0,379.9 589.1,381.4 588.7,384.7 585.8,383.8 584.5,382.2 583.2,380.6 581.9,379.3 580.2,378.9 578.6,378.7 577.2,378.6 575.1,379.2 572.5,380.0 571.1,379.2 570.7,377.0 569.9,375.1 567.9,375.2 566.1,375.4 564.4,375.7 563.0,376.8 561.7,378.5 560.0,378.8"/>
<polyline points="785.0,368.5 787.5,369.1 788.3,371.0 788.4,373.4 788.6,375.2 788.6,376.4 789.3,378.2 789.5,380.0 788.9,381.5 788.3,383.1 787.9,384.7 787.3,386.3 786.7,387.9 785.9,389.4 784.9,390.9 784.2,392.4 783.9,394.1 784.1,395.8 785.0,397.8 785.8,399.7 785.6,401.4 784.5,403.3 782.3,404.1 780.3,404.1 778.4,404.3 777.3,405.5 776.9,407.7 776.3,409.7 774.9,410.6 773.0,410.7 770.9,410.7 768.8,410.8 767.0,411.7 766.4,413.5 766.4,415.9 765.8,417.7 764.7,419.0 763.3,420.0 761.7,420.9 760.4,422.0 759.3,423.4 758.1,424.6 757.1,426.1 756.7,428.0 755.9,429.5 754.0,430.2 752.5,431.7 751.8,433.5 751.2,435.3 750.9,437.2 751.3,439.3 751.9,440.8 750.6,442.5 749.1,444.2 748.6,446.3 749.4,448.3 750.0,449.9 751.2,450.3 750.9,451.6 749.6,453.0 748.0,455.4 750.7,456.6 752.6,456.8 753.1,455.5 754.2,454.3 755.9,453.0 757.9,454.3 759.4,455.4 761.0,456.3 762.7,457.0 764.6,457.8 765.2,459.5 765.3,461.8 765.8,463.6 767.3,464.3 768.8,464.3 768.0,465.7 767.1,467.6 767.4,469.9"/>
<polyline points="554.4,440.6 556.1,439.5 558.1,438.9 560.0,438.2 560.7,436.6 561.4,435.1 561.6,433.4 561.7,431.6 561.7,429.8 562.2,427.5 564.7,427.6 566.3,428.2 567.8,429.2 569.4,430.3 571.1,430.7 572.7,430.7 574.4,430.5 576.2,430.1 577.9,429.9 579.5,430.1 581.1,430.6 582.7,431.2 584.3,431.4 586.1,430.6 587.8,430.1 589.4,430.8 591.0,432.0 592.2,433.5 593.5,434.5 595.4,434.7 597.0,435.1 597.8,436.9 598.7,438.6 600.5,438.9 602.3,438.7 603.8,438.3 605.3,438.8 606.9,439.6 608.4,440.4 610.0,441.0 611.6,440.7 613.2,440.2 614.9,439.1 616.6,438.5 618.2,438.9 619.9,440.3 621.7,440.9 622.8,442.2 623.3,443.8 623.1,445.8 623.4,447.5 624.7,448.9 626.6,449.6 628.3,450.3 629.7,451.3 631.3,452.1 633.1,452.7 634.5,453.7 635.0,455.1 636.1,456.1 637.7,456.5 639.6,456.0 641.3,456.1 642.6,458.0 643.8,459.8 645.6,459.9 647.4,459.8 649.0,460.8 650.6,461.7 652.5,461.0"/>
<polyline points="767.4,469.9 766.2,471.1 764.9,472.1 763.1,472.3 761.2,473.2 763.0,474.3 764.7,474.8 765.9,475.9 766.4,477.7 766.0,479.8 766.1,481.7 767.0,483.3 767.5,484.8 767.4,486.2 767.7,488.1 767.7,489.8 767.0,491.2 765.8,491.8 764.5,493.1 763.1,493.8 761.5,494.3 760.1,495.0 758.4,495.2 756.7,495.9 755.5,497.3 754.0,498.3"/>
</g>
<use href="#snow" x="160" y="121"/>
<use href="#snow" x="295" y="160"/>
<use href="#snow" x="475" y="224"/>
<use href="#snow" x="346" y="254"/>
<use href="#snow" x="677.5" y="352.5"/>
<use href="#snow" x="858.75" y="393.75"/>
<use href="#storm" x="125" y="196"/>
<use href="#storm" x="232.5" y="271"/>
<use href="#storm" x="344" y="315"/>
<use href="#storm" x="487.5" y="316"/>
<use href="#storm" x="630" y="399"/>
<use href="#storm" x="797.5" y="471"/>
<use href="#sun" x="121.1" y="256.8"/>
<use href="#sun" x="308" y="358.75"/>
<use href="#sun" x="503.6" y="397.3"/>
<use href="#sun" x="546.2" y="414.7"/>
<use href="#sun" x="702.5" y="497.25"/>
<use href="#sun" x="889.25" y="538.5"/>
</g>
<rect x="42.5" y="28.5" width="944" height="557" fill="none" stroke="#000" stroke-width="1.1"/>
<g stroke="#000" stroke-width="1.1">
<path d="M38.2,38H42.5"/>
<path d="M38.2,102.5H42.5"/>
<path d="M38.2,167H42.5"/>
<path d="M38.2,231.2H42.5"/>
<path d="M38.2,295.6H42.5"/>
<path d="M38.2,360H42.5"/>
<path d="M38.2,424.4H42.5"/>
<path d="M38.2,488.8H42.5"/>
<path d="M38.2,553.2H42.5"/>
<path d="M47.6,585.5V589.8"/>
<path d="M160.6,585.5V589.8"/>
<path d="M273.6,585.5V589.8"/>
<path d="M386.6,585.5V589.8"/>
<path d="M499.6,585.5V589.8"/>
<path d="M612.6,585.5V589.8"/>
<path d="M725.6,585.5V589.8"/>
<path d="M838.6,585.5V589.8"/>
<path d="M951.6,585.5V589.8"/>
</g>
<text x="34.5" y="41.9" font-size="10.5" text-anchor="end" letter-spacing="0.5">30.5</text>
<text x="34.5" y="106.4" font-size="10.5" text-anchor="end" letter-spacing="0.5">30.0</text>
<text x="34.5" y="170.9" font-size="10.5" text-anchor="end" letter-spacing="0.5">29.5</text>
<text x="34.5" y="235.1" font-size="10.5" text-anchor="end" letter-spacing="0.5">29.0</text>
<text x="34.5" y="299.5" font-size="10.5" text-anchor="end" letter-spacing="0.5">28.5</text>
<text x="34.5" y="363.9" font-size="10.5" text-anchor="end" letter-spacing="0.5">28.0</text>
<text x="34.5" y="428.3" font-size="10.5" text-anchor="end" letter-spacing="0.5">27.5</text>
<text x="34.5" y="492.7" font-size="10.5" text-anchor="end" letter-spacing="0.5">27.0</text>
<text x="34.5" y="557.1" font-size="10.5" text-anchor="end" letter-spacing="0.5">26.5</text>
<text x="47.6" y="601.5" font-size="10.5" text-anchor="middle" letter-spacing="0.5">80</text>
<text x="160.6" y="601.5" font-size="10.5" text-anchor="middle" letter-spacing="0.5">81</text>
<text x="273.6" y="601.5" font-size="10.5" text-anchor="middle" letter-spacing="0.5">82</text>
<text x="386.6" y="601.5" font-size="10.5" text-anchor="middle" letter-spacing="0.5">83</text>
<text x="499.6" y="601.5" font-size="10.5" text-anchor="middle" letter-spacing="0.5">84</text>
<text x="612.6" y="601.5" font-size="10.5" text-anchor="middle" letter-spacing="0.5">85</text>
<text x="725.6" y="601.5" font-size="10.5" text-anchor="middle" letter-spacing="0.5">86</text>
<text x="838.6" y="601.5" font-size="10.5" text-anchor="middle" letter-spacing="0.5">87</text>
<text x="951.6" y="601.5" font-size="10.5" text-anchor="middle" letter-spacing="0.5">88</text>
<rect x="48.5" y="469.8" width="305" height="109.7" rx="2.5" fill="#fff" fill-opacity="0.85" stroke="#cfcfcf" stroke-width="1"/>
<text x="201" y="481.2" font-size="11" text-anchor="middle" letter-spacing="0.3">Legend</text>
<rect x="52.2" y="489.0" width="21.7" height="12.9" fill="#b3ecff"/>
<text x="82.6" y="499.3" font-size="11" letter-spacing="0.45" style="white-space:pre">Isolated (one or two places)  0-10 % of area</text>
<rect x="52.2" y="507.4" width="21.7" height="12.9" fill="#99ccff"/>
<text x="82.6" y="517.8" font-size="11" letter-spacing="0.45" style="white-space:pre">Widely Scattered (few places)  10-30 % of area</text>
<rect x="52.2" y="525.9" width="21.7" height="12.9" fill="#77aaff"/>
<text x="82.6" y="536.2" font-size="11" letter-spacing="0.45" style="white-space:pre">Scattered (some places)  30-50 % of area</text>
<rect x="52.2" y="544.4" width="21.7" height="12.9" fill="#5588ff"/>
<text x="82.6" y="554.6" font-size="11" letter-spacing="0.45" style="white-space:pre">Fairly Widespread (many places)  50-80 % of area</text>
<rect x="52.2" y="562.8" width="21.7" height="12.9" fill="#2e55e0"/>
<text x="82.6" y="573.1" font-size="11" letter-spacing="0.45" style="white-space:pre">Widespread (Most places) &gt; 80 % of area</text>
<g id="logo">
<path d="M842.9,68.5 L852.6,64.6 L862.4,60.6 L870.2,54.8 L877.1,50.4 L882.9,51.9 L890.7,54.8 L898.5,61.6 L906.4,68.5 L913.2,69.4 L910.3,78.2 L896.6,80.2 L888.8,81.2 L880,78.2 L870.2,76.3 L859.5,77.2 L851.7,77.2 L843.9,75.3 Z" fill="#2f64c6"/>
<path d="M865.3,70 L869,66 L873,66.5 L875.1,69 L871,71 L867,74.3Z M877,58 L882,56 L887,57.5 L883,60.6 L878,60Z M890.7,65.5 L894,63.6 L896.6,64.5 L893,66.5Z M882,72 L886,79 L884.5,79.5Z M888,77 L896,73 L904,72.4 L912.2,74 L910.3,78.2 L896.6,80.2 L888.8,81.2Z M844,73 L852,70 L859.5,68.5 L856,72 L848,75Z M880,51 L884,52.5 L879,55Z" fill="#fff"/>
<path d="M869.2,76.3 L875.1,81.2 L882,85.1 L890.7,89 L898.5,89.9 L906.4,90.9 L913.2,87 L914.2,79.2 L906.4,80.2 L896.6,82.1 L886.8,82.1 L880,78.2 Z" fill="#2c6e2c"/>
<path d="M850.7,76.3 L846.8,83.1 L845.8,90.9 L847.8,96.8 L862.4,98.7 L881,100.7 L881,97.8 L865.3,92.9 L852.6,88 L849.7,81.2 Z" fill="#2c6e2c"/>
<path d="M839.7,108 L860,106 L880,108 L900,106 L916.4,108 L915,120.7 L880,122 L842,120.7 Z" fill="#c1ab38"/>
<g stroke="#cc7a1f" stroke-width="1.3" fill="none"><path d="M846,108 L866,120 M851,107 L870,118 M844,112 L860,121"/><path d="M913,108 L893,120 M908,107 L889,118 M915,112 L899,121"/></g>
<path d="M858,103 L872,101.2 L890,102 L903.4,104 L901,111 L886,113 L870,112.9 L861,110 Z" fill="#f2c8b8"/>
<path d="M875,104 L890,106 M878,108 L895,109" stroke="#d9a090" stroke-width="0.6"/>
<path d="M861.8,102.5 L869.6,101.9 L869.6,110.3 L862.5,110 Z" fill="#d81e26"/>
<ellipse cx="858.9" cy="35.7" rx="1.2" ry="3.8" transform="rotate(-57 858.9 35.7)" fill="#1f6b28"/>
<ellipse cx="866.4" cy="32.9" rx="1.2" ry="3.8" transform="rotate(16 866.4 32.9)" fill="#1f6b28"/>
<ellipse cx="871.1" cy="37.3" rx="1.2" ry="3.8" transform="rotate(72 871.1 37.3)" fill="#1f6b28"/>
<ellipse cx="846.0" cy="42.3" rx="1.2" ry="3.8" transform="rotate(-74 846.0 42.3)" fill="#1f6b28"/>
<ellipse cx="852.8" cy="37.0" rx="1.2" ry="3.8" transform="rotate(-2 852.8 37.0)" fill="#1f6b28"/>
<ellipse cx="859.0" cy="40.1" rx="1.2" ry="3.8" transform="rotate(55 859.0 40.1)" fill="#1f6b28"/>
<ellipse cx="836.0" cy="52.4" rx="1.2" ry="3.8" transform="rotate(-90 836.0 52.4)" fill="#1f6b28"/>
<ellipse cx="841.2" cy="45.2" rx="1.2" ry="3.8" transform="rotate(-18 841.2 45.2)" fill="#1f6b28"/>
<ellipse cx="848.3" cy="46.4" rx="1.2" ry="3.8" transform="rotate(38 848.3 46.4)" fill="#1f6b28"/>
<ellipse cx="829.8" cy="65.4" rx="1.2" ry="3.8" transform="rotate(-106 829.8 65.4)" fill="#1f6b28"/>
<ellipse cx="833.2" cy="56.2" rx="1.2" ry="3.8" transform="rotate(-34 833.2 56.2)" fill="#1f6b28"/>
<ellipse cx="840.9" cy="55.4" rx="1.2" ry="3.8" transform="rotate(22 840.9 55.4)" fill="#1f6b28"/>
<ellipse cx="829.4" cy="80.4" rx="1.2" ry="3.8" transform="rotate(-123 829.4 80.4)" fill="#1f6b28"/>
<ellipse cx="830.0" cy="70.0" rx="1.2" ry="3.8" transform="rotate(-51 830.0 70.0)" fill="#1f6b28"/>
<ellipse cx="837.6" cy="66.8" rx="1.2" ry="3.8" transform="rotate(6 837.6 66.8)" fill="#1f6b28"/>
<ellipse cx="834.1" cy="97.2" rx="1.2" ry="3.8" transform="rotate(217 834.1 97.2)" fill="#1f6b28"/>
<ellipse cx="831.0" cy="86.9" rx="1.2" ry="3.8" transform="rotate(289 831.0 86.9)" fill="#1f6b28"/>
<ellipse cx="837.3" cy="81.1" rx="1.2" ry="3.8" transform="rotate(345 837.3 81.1)" fill="#1f6b28"/>
<ellipse cx="847.1" cy="109.0" rx="1.2" ry="3.8" transform="rotate(196 847.1 109.0)" fill="#1f6b28"/>
<ellipse cx="840.8" cy="100.9" rx="1.2" ry="3.8" transform="rotate(269 840.8 100.9)" fill="#1f6b28"/>
<ellipse cx="844.5" cy="93.6" rx="1.2" ry="3.8" transform="rotate(325 844.5 93.6)" fill="#1f6b28"/>
<ellipse cx="891.1" cy="32.7" rx="1.2" ry="3.8" transform="rotate(-16 891.1 32.7)" fill="#1f6b28"/>
<ellipse cx="898.7" cy="35.4" rx="1.2" ry="3.8" transform="rotate(56 898.7 35.4)" fill="#1f6b28"/>
<ellipse cx="899.4" cy="41.9" rx="1.2" ry="3.8" transform="rotate(112 899.4 41.9)" fill="#1f6b28"/>
<ellipse cx="904.6" cy="36.4" rx="1.2" ry="3.8" transform="rotate(1 904.6 36.4)" fill="#1f6b28"/>
<ellipse cx="911.6" cy="41.6" rx="1.2" ry="3.8" transform="rotate(73 911.6 41.6)" fill="#1f6b28"/>
<ellipse cx="910.3" cy="48.5" rx="1.2" ry="3.8" transform="rotate(129 910.3 48.5)" fill="#1f6b28"/>
<ellipse cx="916.1" cy="44.4" rx="1.2" ry="3.8" transform="rotate(17 916.1 44.4)" fill="#1f6b28"/>
<ellipse cx="921.6" cy="51.8" rx="1.2" ry="3.8" transform="rotate(89 921.6 51.8)" fill="#1f6b28"/>
<ellipse cx="918.2" cy="58.3" rx="1.2" ry="3.8" transform="rotate(145 918.2 58.3)" fill="#1f6b28"/>
<ellipse cx="923.8" cy="55.2" rx="1.2" ry="3.8" transform="rotate(32 923.8 55.2)" fill="#1f6b28"/>
<ellipse cx="927.3" cy="64.3" rx="1.2" ry="3.8" transform="rotate(105 927.3 64.3)" fill="#1f6b28"/>
<ellipse cx="922.0" cy="70.0" rx="1.2" ry="3.8" transform="rotate(161 922.0 70.0)" fill="#1f6b28"/>
<ellipse cx="927.4" cy="69.2" rx="1.2" ry="3.8" transform="rotate(50 927.4 69.2)" fill="#1f6b28"/>
<ellipse cx="928.2" cy="79.4" rx="1.2" ry="3.8" transform="rotate(122 928.2 79.4)" fill="#1f6b28"/>
<ellipse cx="921.1" cy="83.5" rx="1.2" ry="3.8" transform="rotate(178 921.1 83.5)" fill="#1f6b28"/>
<ellipse cx="927.1" cy="85.3" rx="1.2" ry="3.8" transform="rotate(69 927.1 85.3)" fill="#1f6b28"/>
<ellipse cx="924.5" cy="95.2" rx="1.2" ry="3.8" transform="rotate(141 924.5 95.2)" fill="#1f6b28"/>
<ellipse cx="916.5" cy="96.8" rx="1.2" ry="3.8" transform="rotate(197 916.5 96.8)" fill="#1f6b28"/>
<ellipse cx="917.7" cy="100.5" rx="1.2" ry="3.8" transform="rotate(90 917.7 100.5)" fill="#1f6b28"/>
<ellipse cx="912.4" cy="107.8" rx="1.2" ry="3.8" transform="rotate(162 912.4 107.8)" fill="#1f6b28"/>
<ellipse cx="905.2" cy="106.5" rx="1.2" ry="3.8" transform="rotate(218 905.2 106.5)" fill="#1f6b28"/>
<circle cx="864.6" cy="39.4" r="4.77" fill="#e3141d"/>
<circle cx="867.22" cy="39.83" r="2.76" fill="#e3141d"/>
<circle cx="865.75" cy="41.79" r="2.76" fill="#e3141d"/>
<circle cx="862.61" cy="41.15" r="2.76" fill="#e3141d"/>
<circle cx="861.95" cy="39.30" r="2.76" fill="#e3141d"/>
<circle cx="863.93" cy="36.84" r="2.76" fill="#e3141d"/>
<circle cx="866.32" cy="37.38" r="2.76" fill="#e3141d"/>
<circle cx="865.86" cy="39.88" r="0.95" fill="#b50f18" opacity="0.6"/>
<circle cx="865.72" cy="39.67" r="0.95" fill="#b50f18" opacity="0.6"/>
<circle cx="864.82" cy="39.50" r="0.95" fill="#b50f18" opacity="0.6"/>
<circle cx="853" cy="44.3" r="5.22" fill="#e3141d"/>
<circle cx="855.83" cy="44.91" r="3.02" fill="#e3141d"/>
<circle cx="853.32" cy="47.18" r="3.02" fill="#e3141d"/>
<circle cx="851.40" cy="46.72" r="3.02" fill="#e3141d"/>
<circle cx="850.12" cy="43.98" r="3.02" fill="#e3141d"/>
<circle cx="852.40" cy="41.46" r="3.02" fill="#e3141d"/>
<circle cx="855.44" cy="42.73" r="3.02" fill="#e3141d"/>
<circle cx="851.98" cy="43.77" r="1.04" fill="#b50f18" opacity="0.6"/>
<circle cx="853.13" cy="44.28" r="1.04" fill="#b50f18" opacity="0.6"/>
<circle cx="853.53" cy="43.65" r="1.04" fill="#b50f18" opacity="0.6"/>
<circle cx="843.6" cy="52.4" r="5.49" fill="#e3141d"/>
<circle cx="846.64" cy="52.62" r="3.17" fill="#e3141d"/>
<circle cx="844.97" cy="55.13" r="3.17" fill="#e3141d"/>
<circle cx="841.69" cy="54.78" r="3.17" fill="#e3141d"/>
<circle cx="840.80" cy="51.19" r="3.17" fill="#e3141d"/>
<circle cx="842.32" cy="49.63" r="3.17" fill="#e3141d"/>
<circle cx="845.82" cy="50.31" r="3.17" fill="#e3141d"/>
<circle cx="842.87" cy="51.53" r="1.10" fill="#b50f18" opacity="0.6"/>
<circle cx="843.42" cy="52.34" r="1.10" fill="#b50f18" opacity="0.6"/>
<circle cx="844.18" cy="52.63" r="1.10" fill="#b50f18" opacity="0.6"/>
<circle cx="837.8" cy="63.1" r="6.12" fill="#e3141d"/>
<circle cx="841.01" cy="64.23" r="3.54" fill="#e3141d"/>
<circle cx="838.84" cy="66.34" r="3.54" fill="#e3141d"/>
<circle cx="835.66" cy="65.74" r="3.54" fill="#e3141d"/>
<circle cx="834.54" cy="62.12" r="3.54" fill="#e3141d"/>
<circle cx="836.80" cy="59.85" r="3.54" fill="#e3141d"/>
<circle cx="839.92" cy="60.44" r="3.54" fill="#e3141d"/>
<circle cx="838.45" cy="60.81" r="1.22" fill="#b50f18" opacity="0.6"/>
<circle cx="837.87" cy="65.05" r="1.22" fill="#b50f18" opacity="0.6"/>
<circle cx="834.86" cy="62.64" r="1.22" fill="#b50f18" opacity="0.6"/>
<circle cx="836.8" cy="75.6" r="6.57" fill="#e3141d"/>
<circle cx="840.21" cy="76.90" r="3.80" fill="#e3141d"/>
<circle cx="838.15" cy="78.99" r="3.80" fill="#e3141d"/>
<circle cx="833.70" cy="77.53" r="3.80" fill="#e3141d"/>
<circle cx="833.16" cy="75.38" r="3.80" fill="#e3141d"/>
<circle cx="835.67" cy="72.13" r="3.80" fill="#e3141d"/>
<circle cx="839.66" cy="73.34" r="3.80" fill="#e3141d"/>
<circle cx="837.83" cy="77.06" r="1.31" fill="#b50f18" opacity="0.6"/>
<circle cx="839.17" cy="76.19" r="1.31" fill="#b50f18" opacity="0.6"/>
<circle cx="836.99" cy="73.52" r="1.31" fill="#b50f18" opacity="0.6"/>
<circle cx="839.6" cy="89.9" r="6.84" fill="#e3141d"/>
<circle cx="843.04" cy="91.51" r="3.95" fill="#e3141d"/>
<circle cx="840.96" cy="93.45" r="3.95" fill="#e3141d"/>
<circle cx="836.69" cy="92.35" r="3.95" fill="#e3141d"/>
<circle cx="835.97" cy="88.79" r="3.95" fill="#e3141d"/>
<circle cx="838.72" cy="86.20" r="3.95" fill="#e3141d"/>
<circle cx="842.19" cy="87.12" r="3.95" fill="#e3141d"/>
<circle cx="841.51" cy="86.86" r="1.37" fill="#b50f18" opacity="0.6"/>
<circle cx="837.11" cy="90.31" r="1.37" fill="#b50f18" opacity="0.6"/>
<circle cx="842.07" cy="90.89" r="1.37" fill="#b50f18" opacity="0.6"/>
<circle cx="849.5" cy="100.7" r="6.48" fill="#e3141d"/>
<circle cx="852.91" cy="101.84" r="3.74" fill="#e3141d"/>
<circle cx="849.60" cy="104.30" r="3.74" fill="#e3141d"/>
<circle cx="846.60" cy="102.84" r="3.74" fill="#e3141d"/>
<circle cx="845.94" cy="100.19" r="3.74" fill="#e3141d"/>
<circle cx="848.33" cy="97.30" r="3.74" fill="#e3141d"/>
<circle cx="852.22" cy="98.35" r="3.74" fill="#e3141d"/>
<circle cx="851.15" cy="100.93" r="1.30" fill="#b50f18" opacity="0.6"/>
<circle cx="849.71" cy="101.07" r="1.30" fill="#b50f18" opacity="0.6"/>
<circle cx="852.08" cy="101.70" r="1.30" fill="#b50f18" opacity="0.6"/>
<circle cx="893" cy="39.3" r="4.86" fill="#e3141d"/>
<circle cx="895.69" cy="39.47" r="2.81" fill="#e3141d"/>
<circle cx="894.05" cy="41.79" r="2.81" fill="#e3141d"/>
<circle cx="891.22" cy="41.33" r="2.81" fill="#e3141d"/>
<circle cx="890.55" cy="38.16" r="2.81" fill="#e3141d"/>
<circle cx="891.75" cy="36.91" r="2.81" fill="#e3141d"/>
<circle cx="894.84" cy="37.32" r="2.81" fill="#e3141d"/>
<circle cx="890.73" cy="38.57" r="0.97" fill="#b50f18" opacity="0.6"/>
<circle cx="893.98" cy="37.18" r="0.97" fill="#b50f18" opacity="0.6"/>
<circle cx="892.80" cy="40.40" r="0.97" fill="#b50f18" opacity="0.6"/>
<circle cx="904.5" cy="43.8" r="5.31" fill="#e3141d"/>
<circle cx="907.40" cy="44.33" r="3.07" fill="#e3141d"/>
<circle cx="904.74" cy="46.74" r="3.07" fill="#e3141d"/>
<circle cx="902.01" cy="45.39" r="3.07" fill="#e3141d"/>
<circle cx="901.56" cy="43.58" r="3.07" fill="#e3141d"/>
<circle cx="903.26" cy="41.13" r="3.07" fill="#e3141d"/>
<circle cx="906.26" cy="41.43" r="3.07" fill="#e3141d"/>
<circle cx="904.65" cy="45.22" r="1.06" fill="#b50f18" opacity="0.6"/>
<circle cx="903.84" cy="43.39" r="1.06" fill="#b50f18" opacity="0.6"/>
<circle cx="905.74" cy="43.83" r="1.06" fill="#b50f18" opacity="0.6"/>
<circle cx="913.8" cy="51.9" r="5.67" fill="#e3141d"/>
<circle cx="916.90" cy="52.48" r="3.28" fill="#e3141d"/>
<circle cx="914.55" cy="54.96" r="3.28" fill="#e3141d"/>
<circle cx="911.15" cy="53.60" r="3.28" fill="#e3141d"/>
<circle cx="910.84" cy="50.83" r="3.28" fill="#e3141d"/>
<circle cx="912.97" cy="48.86" r="3.28" fill="#e3141d"/>
<circle cx="916.13" cy="49.78" r="3.28" fill="#e3141d"/>
<circle cx="913.72" cy="51.75" r="1.13" fill="#b50f18" opacity="0.6"/>
<circle cx="915.78" cy="50.44" r="1.13" fill="#b50f18" opacity="0.6"/>
<circle cx="915.57" cy="50.11" r="1.13" fill="#b50f18" opacity="0.6"/>
<circle cx="919.3" cy="62.2" r="6.12" fill="#e3141d"/>
<circle cx="922.63" cy="62.86" r="3.54" fill="#e3141d"/>
<circle cx="920.38" cy="65.42" r="3.54" fill="#e3141d"/>
<circle cx="917.45" cy="65.05" r="3.54" fill="#e3141d"/>
<circle cx="916.07" cy="61.14" r="3.54" fill="#e3141d"/>
<circle cx="917.69" cy="59.20" r="3.54" fill="#e3141d"/>
<circle cx="921.10" cy="59.31" r="3.54" fill="#e3141d"/>
<circle cx="919.44" cy="62.73" r="1.22" fill="#b50f18" opacity="0.6"/>
<circle cx="919.20" cy="62.35" r="1.22" fill="#b50f18" opacity="0.6"/>
<circle cx="919.81" cy="62.20" r="1.22" fill="#b50f18" opacity="0.6"/>
<circle cx="920.8" cy="74.8" r="6.48" fill="#e3141d"/>
<circle cx="924.40" cy="74.98" r="3.74" fill="#e3141d"/>
<circle cx="922.01" cy="78.19" r="3.74" fill="#e3141d"/>
<circle cx="918.96" cy="77.89" r="3.74" fill="#e3141d"/>
<circle cx="917.54" cy="73.28" r="3.74" fill="#e3141d"/>
<circle cx="920.03" cy="71.28" r="3.74" fill="#e3141d"/>
<circle cx="922.83" cy="71.82" r="3.74" fill="#e3141d"/>
<circle cx="920.78" cy="76.05" r="1.30" fill="#b50f18" opacity="0.6"/>
<circle cx="920.51" cy="75.13" r="1.30" fill="#b50f18" opacity="0.6"/>
<circle cx="922.87" cy="71.89" r="1.30" fill="#b50f18" opacity="0.6"/>
<circle cx="919" cy="88.5" r="6.48" fill="#e3141d"/>
<circle cx="922.50" cy="89.33" r="3.74" fill="#e3141d"/>
<circle cx="920.00" cy="91.96" r="3.74" fill="#e3141d"/>
<circle cx="917.07" cy="91.54" r="3.74" fill="#e3141d"/>
<circle cx="915.40" cy="88.32" r="3.74" fill="#e3141d"/>
<circle cx="917.76" cy="85.12" r="3.74" fill="#e3141d"/>
<circle cx="921.20" cy="85.65" r="3.74" fill="#e3141d"/>
<circle cx="919.27" cy="87.99" r="1.30" fill="#b50f18" opacity="0.6"/>
<circle cx="922.39" cy="88.99" r="1.30" fill="#b50f18" opacity="0.6"/>
<circle cx="918.48" cy="88.41" r="1.30" fill="#b50f18" opacity="0.6"/>
<circle cx="910" cy="100.5" r="5.58" fill="#e3141d"/>
<circle cx="912.99" cy="101.33" r="3.22" fill="#e3141d"/>
<circle cx="911.51" cy="103.21" r="3.22" fill="#e3141d"/>
<circle cx="907.80" cy="102.69" r="3.22" fill="#e3141d"/>
<circle cx="907.26" cy="99.04" r="3.22" fill="#e3141d"/>
<circle cx="909.72" cy="97.41" r="3.22" fill="#e3141d"/>
<circle cx="912.37" cy="98.51" r="3.22" fill="#e3141d"/>
<circle cx="909.92" cy="101.63" r="1.12" fill="#b50f18" opacity="0.6"/>
<circle cx="911.19" cy="102.57" r="1.12" fill="#b50f18" opacity="0.6"/>
<circle cx="907.63" cy="100.01" r="1.12" fill="#b50f18" opacity="0.6"/>
<path d="M822,109 L828,101.9 L843.6,112.9 L867,119.4 L880,120 L899.5,118.1 L919,111.6 L934.6,101.9 L938,109 L921.6,114.2 L913.8,123.3 L899.5,129.2 L880,130.5 L867,129.8 L847.5,124.6 L838.4,115.5 Z" fill="#d5161f"/>
<path d="M828,101.9 L838.4,115.5 L843.6,112.9Z M934.6,101.9 L921.6,114.2 L919,111.6Z" fill="#a50e15"/>
<path d="M846,121 Q880,132 914,121" stroke="#f6e0e0" stroke-width="1.1" fill="none" stroke-dasharray="2.2,0.8"/>
<path d="M873.1,34.5 L882.3,41 L877.3,41 L882.8,47.2 L873.1,47.2 Z" fill="#d8142c" stroke="#1f3c8f" stroke-width="0.9" stroke-linejoin="miter"/>
<circle cx="875.6" cy="39.8" r="0.9" fill="#fff"/><circle cx="875.8" cy="44.3" r="1" fill="#fff"/>
</g>
<g fill="#1a1a1a">
<path d="M816.20,138.78 816.20,138.96 816.61,139.80 821.27,139.80 821.27,141.06 819.01,141.12 818.87,141.48 819.33,142.14 819.57,142.80 819.61,143.22 819.52,143.76 819.20,144.06 818.64,144.00 818.23,143.58 817.63,142.26 817.40,141.36 816.94,141.54 816.94,141.72 817.26,142.92 817.72,144.00 818.23,144.72 818.92,145.20 819.80,145.14 819.98,145.02 820.30,144.54 820.40,144.12 820.35,143.22 819.84,142.08 821.27,142.02 821.32,145.56 822.15,146.28 822.24,146.28 822.29,139.80 827.63,139.80 827.63,140.94 826.71,141.00 826.25,141.30 826.07,141.54 825.56,141.06 824.96,140.82 824.41,140.88 823.99,141.12 823.53,141.84 823.44,142.32 823.48,143.10 823.81,144.12 824.13,144.72 824.87,145.74 825.51,146.34 825.84,145.86 825.24,145.26 824.59,144.24 824.41,143.52 824.41,142.80 824.50,142.44 825.05,141.90 825.65,141.96 825.74,142.14 825.60,142.68 825.60,143.52 825.70,143.64 826.57,143.88 826.53,142.98 826.76,142.20 827.17,141.78 827.63,141.66 827.68,145.56 828.46,146.28 828.60,146.28 828.60,139.86 829.80,139.80 829.34,138.78Z"/>
<path d="M836.20,138.18 836.20,138.36 836.70,139.20 840.88,139.26 840.83,140.64 839.95,140.46 839.06,140.46 838.40,140.64 837.91,140.94 837.58,141.30 837.30,141.90 837.30,143.04 837.96,144.42 838.57,145.14 839.34,145.80 839.73,145.26 839.01,144.54 838.51,143.64 838.40,143.16 838.51,142.26 838.84,141.84 839.23,141.60 840.77,141.54 840.88,141.66 840.88,144.96 841.76,145.62 841.98,145.68 841.98,139.26 843.42,139.20 842.92,138.18ZM843.69,138.60 843.53,139.02 843.53,139.50 843.75,140.10 844.19,140.58 844.85,141.00 844.35,141.36 843.36,141.78 843.64,142.50 844.02,143.10 844.85,143.88 845.78,144.24 846.72,144.18 847.60,143.70 847.66,145.02 848.59,145.68 848.76,145.68 848.76,139.26 850.41,139.20 850.47,144.96 851.35,145.62 851.57,145.68 851.57,139.26 853.00,139.20 852.50,138.18 846.61,138.18 846.61,138.36 847.16,139.20 847.66,139.26 847.66,141.90 846.83,142.86 846.45,143.10 845.78,143.28 845.34,143.28 844.90,143.10 844.63,142.80 844.63,142.56 846.06,141.60 846.50,141.00 846.67,140.40 846.50,139.32 846.00,138.60 845.23,138.12 844.46,138.06 843.97,138.30ZM845.07,138.90 845.45,138.96 845.78,139.44 845.73,140.16 845.34,140.70 844.74,140.10 844.57,139.62 844.63,139.26Z"/>
<path d="M858.60,138.78 859.17,139.80 860.58,139.86 860.58,142.20 859.96,142.38 859.73,142.68 859.73,143.10 860.02,143.76 860.41,144.18 860.86,144.42 861.43,144.42 861.66,144.12 861.77,143.28 863.64,143.34 863.70,145.56 864.66,146.28 864.83,146.28 864.88,139.80 866.64,139.86 866.64,145.56 867.60,146.28 867.77,146.28 867.77,139.86 870.94,139.80 871.11,140.40 871.11,141.42 870.94,141.96 870.77,142.02 870.21,141.78 869.64,141.84 869.36,142.08 869.30,142.56 869.41,143.04 870.09,144.30 870.60,144.96 872.08,146.40 872.87,145.50 871.34,144.42 870.43,143.46 870.55,143.34 871.11,143.28 871.74,142.86 872.93,143.34 874.23,143.28 874.28,145.56 875.13,146.22 875.42,146.28 875.47,139.80 877.68,139.86 877.68,142.20 877.06,142.38 876.83,142.68 876.95,143.46 877.51,144.18 877.96,144.42 878.53,144.42 878.76,144.12 878.87,143.28 880.74,143.34 880.80,145.56 881.76,146.28 881.93,146.28 881.93,139.86 883.40,139.80 882.83,138.78 867.77,138.78 866.75,136.38 866.07,135.60 865.79,135.48 864.32,135.48 864.26,135.66 864.55,136.44 864.94,136.32 865.56,136.32 865.96,136.50 866.64,137.28 867.04,138.12 866.98,138.24 866.24,137.40 865.68,137.04 864.83,136.92 864.21,137.10 864.55,138.06 864.94,137.88 865.90,137.94 866.36,138.24 866.81,138.72 866.75,138.78ZM878.87,139.80 880.80,139.86 880.74,142.50 878.81,142.26ZM871.96,139.86 874.23,139.80 874.28,142.08 873.55,142.44 872.64,142.44 872.19,142.32 872.08,142.20 872.19,141.78 872.19,140.94ZM861.77,139.80 863.70,139.86 863.64,142.50 861.71,142.26Z"/>
<path d="M888.20,138.72 888.26,139.02 888.73,139.74 889.68,139.80 889.68,145.50 890.75,146.28 890.87,146.28 890.93,139.74 895.84,139.80 895.79,141.30 894.66,140.76 893.41,140.82 892.88,141.12 892.47,141.60 892.29,142.02 892.29,142.86 892.70,143.70 893.83,144.60 894.96,144.78 895.79,144.48 895.84,145.50 896.85,146.22 896.97,146.22 896.97,139.80 903.25,139.74 903.31,141.00 903.19,141.12 898.93,141.12 899.52,142.08 900.41,142.08 900.76,142.44 900.94,142.80 901.00,143.28 900.88,143.64 900.29,144.12 899.99,144.12 899.40,143.34 898.75,143.28 898.51,143.40 898.33,143.70 898.33,144.18 898.75,144.78 899.64,145.20 900.23,146.28 901.06,147.18 901.89,146.28 901.24,145.98 900.35,145.26 901.47,144.78 901.77,144.48 902.01,144.00 902.07,143.64 901.95,143.04 901.65,142.50 901.30,142.14 901.36,142.08 903.31,142.14 903.31,145.50 904.20,146.16 904.50,146.22 904.56,139.74 906.33,139.80 906.33,145.50 907.40,146.22 907.52,146.22 907.52,139.80 912.67,139.74 912.67,141.90 910.90,141.66 909.53,141.66 908.94,142.02 908.82,142.26 908.82,142.74 909.06,143.28 909.59,143.82 910.07,144.06 910.60,144.06 910.78,143.94 910.90,143.70 910.96,142.74 912.61,142.74 912.73,142.86 912.73,145.50 913.74,146.22 913.92,146.22 913.92,139.80 915.40,139.74 915.34,139.44 914.87,138.72 896.73,138.72 895.96,137.70 894.78,136.62 893.41,135.84 891.99,135.48 891.10,135.48 890.21,135.72 889.50,136.38 889.33,136.86 889.33,137.52 889.50,138.06 889.98,138.66 889.92,138.72ZM895.67,141.96 895.84,142.14 895.84,142.92 895.19,143.52 894.48,143.82 893.89,143.82 893.59,143.70 893.24,143.28 893.24,142.62 893.36,142.38 893.89,141.90 894.24,141.78 895.13,141.78ZM890.33,137.58 890.51,137.16 891.10,136.68 892.05,136.50 892.70,136.56 893.59,136.80 894.42,137.22 895.13,137.76 895.96,138.66 890.57,138.72 890.33,138.18Z"/>
<path d="M920.20,138.18 920.26,138.48 920.71,139.20 921.60,139.26 921.60,144.96 922.62,145.74 922.73,145.74 922.78,139.20 927.45,139.26 927.39,140.76 926.32,140.22 925.14,140.28 924.64,140.58 924.24,141.06 924.08,141.48 924.08,142.32 924.47,143.16 925.54,144.06 926.60,144.24 927.39,143.94 927.45,144.96 928.40,145.68 928.51,145.68 928.57,139.20 929.81,139.20 930.03,140.04 930.48,140.58 930.93,140.88 932.11,141.24 932.11,141.60 932.00,141.72 931.38,141.84 931.21,142.38 931.49,143.16 932.16,143.82 932.45,143.94 932.95,143.88 933.18,143.46 933.23,142.80 934.97,142.80 935.03,145.02 935.98,145.68 936.15,145.68 936.21,139.20 937.89,139.26 937.89,144.96 938.90,145.68 939.02,145.68 939.07,139.20 941.26,139.26 941.26,141.24 940.48,141.36 940.31,141.54 940.25,141.96 940.59,142.74 941.04,143.22 941.49,143.46 942.11,143.40 942.44,142.86 942.44,141.00 942.22,139.26 944.07,139.26 944.07,144.96 945.03,145.68 945.20,145.68 945.20,139.26 946.60,139.20 946.54,138.90 946.09,138.18 933.62,138.18 934.19,139.20 935.03,139.26 935.03,141.84 934.64,141.90 933.23,141.72 933.18,140.10 933.06,139.56 932.73,138.90 932.28,138.42 931.66,138.12 930.93,138.06 930.31,138.30 929.86,138.84 929.47,138.18 928.29,138.18 927.00,136.56 925.93,135.72 924.86,135.18 923.79,134.94 922.95,134.94 922.11,135.18 921.44,135.84 921.27,136.32 921.27,136.98 921.44,137.52 921.89,138.12 921.83,138.18ZM927.28,141.42 927.45,141.60 927.45,142.38 926.83,142.98 926.15,143.28 925.59,143.28 925.31,143.16 924.97,142.74 924.97,142.08 925.09,141.84 925.59,141.36 925.93,141.24 926.77,141.24ZM931.43,138.90 931.83,138.90 932.05,139.14 932.05,140.64 931.49,140.40 931.04,139.86 930.98,139.38 931.10,139.14ZM922.22,137.04 922.39,136.62 922.95,136.14 923.85,135.96 924.47,136.02 925.31,136.26 926.10,136.68 926.77,137.22 927.56,138.12 922.45,138.18 922.22,137.64Z"/>
<path d="M808.20,152.38 808.33,152.97 809.01,154.24 810.69,154.32 810.69,156.94 809.95,157.28 809.75,157.62 809.75,158.55 810.15,159.56 810.69,160.24 811.16,160.58 812.10,160.75 812.37,160.58 812.50,160.24 812.57,159.14 812.71,158.97 814.39,158.97 814.45,161.59 816.13,163.03 816.34,163.03 816.40,154.24 818.15,154.32 818.15,161.68 819.83,163.03 820.03,163.03 820.03,154.32 823.60,154.24 823.80,155.00 823.67,156.69 823.40,156.86 822.86,156.60 822.05,156.60 821.78,156.77 821.58,157.20 821.58,157.96 821.85,158.89 822.66,160.41 823.87,162.02 825.01,163.20 825.14,163.20 826.29,161.59 824.54,160.41 823.40,159.23 824.20,158.97 824.94,158.38 825.21,158.63 826.29,159.06 827.57,158.97 827.63,161.59 829.18,162.95 829.52,163.03 829.58,154.24 832.00,154.32 832.00,156.94 831.26,157.28 831.06,157.62 831.06,158.55 831.47,159.56 832.00,160.24 832.68,160.66 833.42,160.75 833.68,160.58 833.82,160.24 833.89,159.14 834.02,158.97 835.70,158.97 835.77,161.59 837.11,162.78 837.65,163.03 837.65,154.32 839.40,154.24 839.40,153.90 838.66,152.38 819.90,152.38 819.36,150.52 818.76,149.00 818.42,148.40 817.75,147.73 815.39,147.73 815.87,149.25 816.34,149.08 817.21,149.08 817.61,149.25 818.42,150.26 818.82,151.19 818.76,151.36 817.88,150.26 817.14,149.76 815.73,149.67 815.33,149.84 815.80,151.53 816.34,151.28 817.34,151.28 818.22,151.87 818.56,152.29 818.49,152.38ZM833.95,154.24 835.77,154.32 835.70,157.37 833.89,157.03ZM825.28,154.32 827.57,154.24 827.63,157.11 827.03,157.45 825.55,157.37 825.41,157.20 825.48,155.51ZM812.64,154.24 814.45,154.32 814.39,157.37 812.57,157.03Z"/>
<path d="M847.40,152.04 848.36,153.90 849.18,153.98 849.25,156.86 850.00,158.30 850.81,159.14 851.70,159.73 853.41,159.73 853.41,161.26 854.52,162.10 853.56,162.19 852.67,162.69 852.15,163.62 852.15,164.81 852.59,165.82 853.26,166.58 853.93,167.09 854.60,167.34 855.78,167.34 856.38,167.09 855.78,165.14 854.60,165.74 853.93,165.74 853.71,165.57 853.56,165.14 853.71,164.64 854.00,164.30 854.60,164.05 855.41,164.13 856.23,164.64 856.82,165.31 858.08,167.26 859.05,166.50 857.64,164.55 856.52,163.28 855.49,162.44 855.56,153.90 861.35,153.98 861.27,155.59 860.68,155.17 860.08,155.00 859.05,154.91 858.38,155.08 857.71,155.51 857.27,156.10 857.04,156.60 856.97,157.62 857.34,158.72 858.16,159.73 859.19,160.41 860.46,160.66 861.27,160.41 861.35,161.34 863.20,162.69 863.42,162.69 863.50,153.90 865.43,153.98 865.43,161.34 867.28,162.69 867.50,162.69 867.50,153.98 873.81,153.90 873.81,156.35 872.10,156.01 870.25,155.93 869.36,156.27 868.99,156.77 868.91,157.37 869.36,158.63 870.17,159.48 871.06,159.82 871.58,159.73 871.81,159.48 871.95,159.06 871.95,157.87 873.88,157.96 873.88,161.34 874.92,162.10 873.96,162.27 872.99,162.95 874.18,164.64 874.92,164.05 875.74,163.96 875.96,164.21 875.81,164.98 875.44,165.40 874.77,165.74 873.73,165.65 872.55,164.72 871.51,163.12 870.32,164.30 871.66,165.82 872.40,166.41 873.29,166.92 874.48,167.26 875.44,167.26 876.48,166.84 877.07,166.16 877.37,165.23 877.29,164.38 877.00,163.62 875.89,162.44 875.96,153.90 878.70,153.98 878.70,156.60 877.96,156.86 877.59,157.45 877.74,158.55 878.41,159.65 879.22,160.24 880.26,160.41 880.71,159.82 880.86,158.63 882.71,158.63 882.86,158.80 882.86,161.34 884.71,162.69 884.86,162.69 884.93,153.90 886.94,153.98 886.94,161.34 888.72,162.69 888.94,162.69 889.01,153.90 895.32,153.90 895.32,156.35 892.72,155.93 891.39,156.01 890.87,156.27 890.50,156.77 890.50,157.79 890.87,158.63 891.46,159.31 892.13,159.73 892.58,159.82 893.09,159.73 893.32,159.48 893.47,159.06 893.47,157.87 895.32,157.87 895.39,161.34 897.25,162.69 897.40,162.69 897.40,153.98 899.40,153.90 899.33,153.48 898.51,152.04 867.28,152.04 866.84,150.86 866.98,149.93 867.58,149.42 868.47,149.42 868.84,149.59 869.28,149.00 869.28,148.83 868.54,147.98 867.50,147.47 866.24,147.64 865.94,147.81 865.35,148.57 865.20,149.08 865.28,150.35 865.87,151.53 866.24,151.95 866.17,152.04ZM858.45,158.13 858.68,157.45 859.27,156.94 859.71,156.77 860.68,156.77 861.35,157.03 861.35,157.96 860.75,158.55 860.16,158.89 859.05,158.97 858.53,158.47ZM880.86,153.90 882.86,153.98 882.78,157.03 880.78,156.69ZM853.33,153.90 853.41,157.11 852.52,157.96 851.70,158.04 851.26,157.53 851.26,153.98Z"/>
<path d="M932.66,151.28 933.48,153.14 934.31,153.22 934.31,160.58 936.02,161.93 936.23,161.93 936.30,153.14 938.08,153.22 938.08,160.58 939.80,161.93 940.00,161.93 940.07,153.14 943.30,153.22 943.37,155.08 943.23,155.59 943.02,155.67 942.34,155.42 941.79,155.51 941.37,155.93 941.31,156.69 941.58,157.62 942.13,158.63 943.64,160.49 944.88,161.34 946.25,161.76 947.76,161.68 948.44,161.42 949.13,160.92 950.37,161.93 950.57,161.93 950.57,153.22 952.49,153.22 952.49,160.58 954.14,161.93 954.35,161.93 954.35,153.22 956.20,153.14 956.20,152.88 955.38,151.28ZM946.87,156.86 947.00,156.10 947.41,155.76 948.58,155.67 948.79,155.84 948.79,156.35 948.24,157.03 947.83,157.28 947.21,157.28ZM944.88,153.14 948.79,153.22 948.72,154.58 947.96,154.07 946.80,154.07 946.25,154.41 945.84,154.91 945.56,155.84 945.77,157.03 946.32,157.87 946.80,158.30 947.69,158.72 948.72,158.63 948.79,158.97 948.65,159.14 947.14,159.82 945.56,159.90 944.39,159.48 943.85,159.06 943.23,158.30 943.23,157.96 944.33,157.37 944.88,156.44 945.01,155.76 945.01,154.58 944.81,153.56ZM933.34,160.75 931.15,158.38 932.31,157.03 932.73,155.84 932.80,154.49 932.59,153.56 931.97,152.29 930.80,151.28 929.64,151.11 928.95,151.36 928.33,152.12 928.20,152.80 927.37,151.28 907.40,151.28 907.54,151.87 908.22,153.14 909.94,153.22 909.94,155.84 909.18,156.18 908.98,156.52 908.98,157.45 909.39,158.47 909.94,159.14 910.42,159.48 911.38,159.65 911.66,159.48 911.79,159.14 911.86,158.04 912.00,157.87 913.71,157.87 913.78,160.49 915.50,161.93 915.70,161.93 915.77,153.14 920.44,153.22 920.37,154.07 918.86,154.07 917.97,154.49 917.49,155.25 917.42,156.18 917.63,156.77 918.24,157.62 917.63,158.89 917.63,160.33 917.83,161.00 918.24,161.76 919.07,162.69 920.92,163.79 921.47,162.78 920.37,162.19 919.48,161.17 919.27,160.07 919.55,159.14 919.96,158.63 920.58,158.30 921.33,158.30 921.61,158.47 921.81,158.80 921.81,159.40 921.13,160.41 922.43,161.51 923.05,160.33 923.05,158.97 922.71,158.21 921.88,157.28 920.58,156.77 919.55,156.86 919.21,157.03 919.00,156.69 919.00,156.35 919.21,156.01 919.89,155.67 922.29,155.67 922.36,153.14 924.49,153.22 924.49,160.58 926.07,161.85 926.41,161.93 926.48,153.14 928.20,153.14 928.40,153.98 929.23,155.08 930.53,155.93 929.91,156.69 929.29,156.27 928.47,156.27 928.13,156.52 927.85,156.94 927.78,157.62 927.85,157.96 928.33,158.63 929.02,158.97 930.12,158.97 931.70,162.02ZM911.93,153.14 913.78,153.22 913.71,156.27 911.86,155.93ZM930.53,152.80 930.94,152.88 931.29,153.39 931.29,154.41 931.01,155.08 930.53,154.83 929.91,153.98 930.05,153.14Z"/>
</g>
</svg></body></html>
